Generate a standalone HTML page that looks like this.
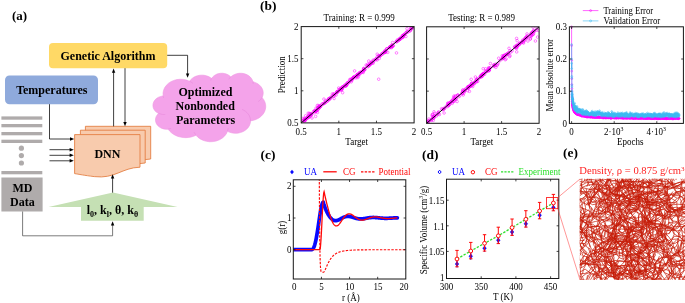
<!DOCTYPE html>
<html lang="en"><head><meta charset="utf-8"><title>Figure</title>
<style>
html,body{margin:0;padding:0;background:#fff;}
body{width:685px;height:303px;overflow:hidden;font-family:"Liberation Serif", "DejaVu Serif", serif;}
svg{display:block;}
</style></head><body>
<svg width="685" height="303" viewBox="0 0 685 303" font-family='"Liberation Serif", "DejaVu Serif", serif'>
<text x="12.00" y="20.00" font-size="13" text-anchor="start" font-weight="bold" fill="#000">(a)</text>
<rect x="49" y="43" width="118.2" height="25.2" rx="4" fill="#FFD966"/>
<text x="108.00" y="59.60" font-size="12" text-anchor="middle" font-weight="bold" fill="#000">Genetic Algorithm</text>
<rect x="5" y="75.5" width="93" height="28.7" rx="4.5" fill="#8FAADC"/>
<text x="51.80" y="93.90" font-size="12" text-anchor="middle" font-weight="bold" fill="#000">Temperatures</text>
<rect x="1.4" y="116.4" width="40.9" height="3.3" fill="#AFABAB"/>
<rect x="1.4" y="124.0" width="40.9" height="3.3" fill="#AFABAB"/>
<rect x="1.4" y="132.0" width="40.9" height="3.3" fill="#AFABAB"/>
<rect x="1.4" y="139.7" width="40.9" height="3.3" fill="#AFABAB"/>
<rect x="1.4" y="171.0" width="40.9" height="3.3" fill="#AFABAB"/>
<circle cx="21.4" cy="148.2" r="2.6" fill="#AFABAB"/>
<circle cx="21.4" cy="155.6" r="2.6" fill="#AFABAB"/>
<circle cx="21.4" cy="163.0" r="2.6" fill="#AFABAB"/>
<rect x="1.4" y="177.5" width="41.2" height="34" fill="#AFABAB"/>
<text x="22.40" y="192.10" font-size="12" text-anchor="middle" font-weight="bold" fill="#000">MD</text>
<text x="22.40" y="206.40" font-size="12" text-anchor="middle" font-weight="bold" fill="#000">Data</text>
<path d="M85.40,126.30 H150.70 V159.00 C132.42,159.50 125.89,171.50 104.99,169.00 C95.20,167.80 89.32,166.60 85.40,166.00 Z" fill="#F8CBAD" stroke="#E37B3D" stroke-width="0.85"/>
<path d="M80.40,130.20 H145.20 V163.00 C127.06,163.50 120.58,175.50 99.84,173.00 C90.12,171.80 84.29,170.60 80.40,170.00 Z" fill="#F8CBAD" stroke="#E37B3D" stroke-width="0.85"/>
<path d="M74.60,134.60 H140.00 V167.20 C121.69,167.70 115.15,179.10 94.22,176.60 C84.41,175.40 78.52,174.20 74.60,173.60 Z" fill="#F8CBAD" stroke="#E37B3D" stroke-width="0.85"/>
<text x="107.40" y="158.10" font-size="12" text-anchor="middle" font-weight="bold" fill="#000">DNN</text>
<polyline points="113.60,126.30 113.60,72.00" fill="none" stroke="#000" stroke-width="0.75"/>
<polygon points="113.60,68.60 111.90,72.80 115.30,72.80" fill="#000"/>
<polyline points="125.00,68.20 125.00,123.00" fill="none" stroke="#000" stroke-width="0.75"/>
<polygon points="125.00,126.30 123.30,122.10 126.70,122.10" fill="#000"/>
<polyline points="49.50,104.20 49.50,139.00 71.00,139.00" fill="none" stroke="#000" stroke-width="0.75"/>
<polygon points="74.20,139.00 70.00,137.30 70.00,140.70" fill="#000"/>
<polyline points="49.50,149.70 70.00,149.70" fill="none" stroke="#000" stroke-width="0.75"/>
<polygon points="73.80,149.70 69.60,148.00 69.60,151.40" fill="#000"/>
<polyline points="49.50,155.30 70.00,155.30" fill="none" stroke="#000" stroke-width="0.75"/>
<polygon points="73.80,155.30 69.60,153.60 69.60,157.00" fill="#000"/>
<polyline points="49.50,160.80 70.00,160.80" fill="none" stroke="#000" stroke-width="0.75"/>
<polygon points="73.80,160.80 69.60,159.10 69.60,162.50" fill="#000"/>
<polyline points="112.60,193.00 112.60,178.00" fill="none" stroke="#000" stroke-width="0.75"/>
<polygon points="112.60,174.20 110.90,178.40 114.30,178.40" fill="#000"/>
<polyline points="22.60,211.50 22.60,235.80 112.60,235.80 112.60,225.00" fill="none" stroke="#444" stroke-width="0.7"/>
<polygon points="112.60,221.20 110.90,225.40 114.30,225.40" fill="#000"/>
<polyline points="167.20,55.30 187.60,55.30 187.60,74.00" fill="none" stroke="#000" stroke-width="0.75"/>
<polygon points="187.60,77.80 185.90,73.60 189.30,73.60" fill="#000"/>
<polygon points="113,192.6 177.5,207 143.7,207 143.7,220.7 81,220.7 81,207 48.5,207" fill="#C5E0B4"/>
<text x="112.4" y="214" font-size="12" text-anchor="middle" font-weight="bold" fill="#000">l<tspan font-size="8" dy="2.6">0</tspan><tspan dy="-2.6">, k</tspan><tspan font-size="8" dy="2.6">l</tspan><tspan dy="-2.6">, θ, k</tspan><tspan font-size="8" dy="2.6">θ</tspan></text>
<path d="M163.17,95.79 L163.04,93.08 L163.51,90.39 L164.57,87.83 L166.19,85.47 L168.31,83.40 L170.86,81.70 L173.74,80.41 L176.87,79.59 L180.12,79.26 L183.39,79.43 L186.57,80.10 L189.54,81.25 L190.69,79.74 L192.11,78.40 L193.77,77.26 L195.62,76.34 L197.61,75.67 L199.71,75.26 L201.86,75.13 L204.01,75.27 L206.10,75.69 L208.09,76.37 L209.94,77.29 L211.58,78.44 L212.58,77.08 L213.84,75.88 L215.33,74.88 L217.00,74.09 L218.81,73.55 L220.70,73.27 L222.62,73.25 L224.52,73.50 L226.34,74.01 L228.03,74.77 L229.54,75.75 L230.83,76.93 L232.53,75.56 L234.52,74.47 L236.72,73.71 L239.05,73.31 L241.43,73.27 L243.78,73.60 L246.01,74.28 L248.05,75.30 L249.82,76.62 L251.26,78.19 L252.32,79.95 L252.96,81.84 L254.83,82.38 L256.59,83.14 L258.20,84.10 L259.63,85.24 L260.85,86.53 L261.84,87.95 L262.57,89.48 L263.03,91.08 L263.22,92.71 L263.12,94.35 L262.74,95.96 L262.10,97.51 L263.74,99.65 L264.92,101.99 L265.59,104.47 L265.74,107.00 L265.35,109.51 L264.45,111.94 L263.05,114.19 L261.20,116.21 L258.96,117.94 L256.39,119.32 L253.57,120.32 L250.58,120.89 L250.32,123.08 L249.61,125.20 L248.45,127.19 L246.88,128.97 L244.97,130.50 L242.76,131.72 L240.32,132.61 L237.73,133.13 L235.07,133.26 L232.42,133.01 L229.87,132.37 L227.50,131.37 L226.24,133.91 L224.44,136.22 L222.15,138.20 L219.45,139.79 L216.44,140.93 L213.23,141.59 L209.92,141.74 L206.64,141.37 L203.50,140.50 L200.62,139.16 L198.08,137.39 L195.99,135.26 L193.62,136.27 L191.11,137.02 L188.49,137.48 L185.83,137.65 L183.17,137.52 L180.55,137.11 L178.01,136.41 L175.61,135.44 L173.39,134.21 L171.38,132.76 L169.62,131.09 L168.14,129.24 L165.84,129.27 L163.57,128.92 L161.43,128.19 L159.52,127.12 L157.91,125.76 L156.66,124.15 L155.84,122.37 L155.46,120.49 L155.56,118.59 L156.12,116.74 L157.12,115.03 L158.51,113.51 L156.61,112.34 L155.04,110.88 L153.86,109.17 L153.14,107.29 L152.91,105.33 L153.16,103.38 L153.90,101.51 L155.09,99.81 L156.68,98.35 L158.60,97.20 L160.76,96.40 L163.08,96.00 Z" fill="#F4A3EA" stroke="#EE98E2" stroke-width="0.6"/>
<path d="M165.24,114.51 L164.38,114.54 L163.52,114.51 L162.67,114.43 L161.82,114.30 L160.99,114.11 L160.18,113.87 L159.39,113.58 L158.63,113.24M171.07,128.34 L170.72,128.45 L170.37,128.55 L170.01,128.64 L169.65,128.72 L169.29,128.79 L168.92,128.85 L168.55,128.90 L168.18,128.94M195.99,134.98 L195.73,134.66 L195.49,134.32 L195.25,133.99 L195.03,133.64 L194.82,133.29 L194.61,132.94 L194.42,132.58 L194.25,132.22M228.20,128.10 L228.16,128.49 L228.10,128.87 L228.03,129.25 L227.95,129.63 L227.86,130.01 L227.75,130.39 L227.64,130.76 L227.51,131.13M242.04,109.40 L243.87,110.27 L245.54,111.35 L247.01,112.62 L248.26,114.04 L249.24,115.59 L249.96,117.24 L250.39,118.96 L250.52,120.71M262.04,97.35 L261.71,97.95 L261.33,98.54 L260.91,99.10 L260.45,99.65 L259.96,100.17 L259.43,100.67 L258.86,101.14 L258.27,101.59M252.98,81.60 L253.03,81.85 L253.07,82.10 L253.11,82.35 L253.14,82.60 L253.16,82.85 L253.17,83.10 L253.18,83.36 L253.18,83.61M228.86,79.27 L229.05,78.92 L229.26,78.59 L229.48,78.26 L229.71,77.93 L229.96,77.61 L230.23,77.30 L230.50,77.00 L230.79,76.71M210.76,80.48 L210.84,80.20 L210.93,79.92 L211.03,79.64 L211.15,79.36 L211.27,79.08 L211.40,78.81 L211.55,78.54 L211.70,78.28M189.52,81.23 L189.98,81.46 L190.43,81.70 L190.87,81.95 L191.30,82.22 L191.72,82.49 L192.13,82.77 L192.53,83.07 L192.91,83.37M163.77,98.04 L163.67,97.76 L163.58,97.48 L163.49,97.20 L163.42,96.92 L163.35,96.64 L163.28,96.36 L163.23,96.07 L163.17,95.79" fill="none" stroke="#E88CDC" stroke-width="0.7"/>
<text x="205.40" y="95.70" font-size="12" text-anchor="middle" font-weight="bold" fill="#000">Optimized</text>
<text x="205.20" y="109.80" font-size="12" text-anchor="middle" font-weight="bold" fill="#000">Nonbonded</text>
<text x="205.60" y="124.20" font-size="12" text-anchor="middle" font-weight="bold" fill="#000">Parameters</text>
<text x="260.00" y="9.80" font-size="13.4" text-anchor="start" font-weight="bold" fill="#000">(b)</text>
<clipPath id="cs11"><rect x="301.2" y="26.6" width="112.90000000000003" height="96.30000000000001"/></clipPath>
<g fill="none" stroke="#FF00FF" stroke-width="0.48" clip-path="url(#cs11)">
<circle cx="315.7" cy="110.9" r="1.3"/>
<circle cx="357.6" cy="74.6" r="1.3"/>
<circle cx="369.1" cy="65.4" r="1.3"/>
<circle cx="304.4" cy="119.9" r="1.3"/>
<circle cx="317.9" cy="109.7" r="1.3"/>
<circle cx="406.0" cy="32.6" r="1.3"/>
<circle cx="309.2" cy="116.5" r="1.3"/>
<circle cx="315.9" cy="111.5" r="1.3"/>
<circle cx="408.3" cy="31.7" r="1.3"/>
<circle cx="371.4" cy="63.3" r="1.3"/>
<circle cx="342.9" cy="87.0" r="1.3"/>
<circle cx="358.9" cy="74.4" r="1.3"/>
<circle cx="376.0" cy="58.8" r="1.3"/>
<circle cx="332.3" cy="93.9" r="1.3"/>
<circle cx="316.8" cy="110.5" r="1.3"/>
<circle cx="390.2" cy="46.8" r="1.3"/>
<circle cx="376.9" cy="58.6" r="1.3"/>
<circle cx="359.0" cy="73.4" r="1.3"/>
<circle cx="393.4" cy="45.5" r="1.3"/>
<circle cx="363.2" cy="70.8" r="1.3"/>
<circle cx="411.9" cy="28.1" r="1.3"/>
<circle cx="324.3" cy="103.2" r="1.3"/>
<circle cx="363.7" cy="68.4" r="1.3"/>
<circle cx="355.8" cy="78.0" r="1.3"/>
<circle cx="341.1" cy="88.8" r="1.3"/>
<circle cx="368.0" cy="63.9" r="1.3"/>
<circle cx="327.8" cy="100.8" r="1.3"/>
<circle cx="391.8" cy="46.3" r="1.3"/>
<circle cx="399.1" cy="39.5" r="1.3"/>
<circle cx="315.7" cy="110.6" r="1.3"/>
<circle cx="353.9" cy="77.3" r="1.3"/>
<circle cx="332.5" cy="95.9" r="1.3"/>
<circle cx="310.6" cy="115.4" r="1.3"/>
<circle cx="402.4" cy="36.5" r="1.3"/>
<circle cx="349.7" cy="79.7" r="1.3"/>
<circle cx="317.9" cy="107.8" r="1.3"/>
<circle cx="377.2" cy="60.0" r="1.3"/>
<circle cx="324.0" cy="103.5" r="1.3"/>
<circle cx="403.0" cy="36.7" r="1.3"/>
<circle cx="325.7" cy="100.6" r="1.3"/>
<circle cx="304.9" cy="119.8" r="1.3"/>
<circle cx="323.9" cy="99.1" r="1.3"/>
<circle cx="340.2" cy="89.0" r="1.3"/>
<circle cx="354.1" cy="77.1" r="1.3"/>
<circle cx="403.5" cy="35.5" r="1.3"/>
<circle cx="379.9" cy="55.8" r="1.3"/>
<circle cx="339.5" cy="89.4" r="1.3"/>
<circle cx="303.1" cy="118.3" r="1.3"/>
<circle cx="319.2" cy="106.3" r="1.3"/>
<circle cx="413.7" cy="27.2" r="1.3"/>
<circle cx="353.1" cy="77.7" r="1.3"/>
<circle cx="379.2" cy="56.2" r="1.3"/>
<circle cx="307.4" cy="117.7" r="1.3"/>
<circle cx="305.0" cy="120.2" r="1.3"/>
<circle cx="396.7" cy="41.8" r="1.3"/>
<circle cx="367.6" cy="66.7" r="1.3"/>
<circle cx="336.1" cy="95.1" r="1.3"/>
<circle cx="337.0" cy="91.6" r="1.3"/>
<circle cx="311.3" cy="113.9" r="1.3"/>
<circle cx="320.7" cy="106.4" r="1.3"/>
<circle cx="304.0" cy="119.8" r="1.3"/>
<circle cx="395.9" cy="41.8" r="1.3"/>
<circle cx="353.8" cy="77.7" r="1.3"/>
<circle cx="315.6" cy="116.4" r="1.3"/>
<circle cx="384.7" cy="52.2" r="1.3"/>
<circle cx="323.3" cy="103.7" r="1.3"/>
<circle cx="308.2" cy="113.2" r="1.3"/>
<circle cx="368.8" cy="61.0" r="1.3"/>
<circle cx="402.3" cy="35.6" r="1.3"/>
<circle cx="304.2" cy="121.1" r="1.3"/>
<circle cx="392.1" cy="46.9" r="1.3"/>
<circle cx="322.7" cy="104.2" r="1.3"/>
<circle cx="311.7" cy="113.9" r="1.3"/>
<circle cx="303.2" cy="120.5" r="1.3"/>
<circle cx="334.3" cy="95.0" r="1.3"/>
<circle cx="383.3" cy="52.7" r="1.3"/>
<circle cx="356.9" cy="76.4" r="1.3"/>
<circle cx="397.5" cy="39.7" r="1.3"/>
<circle cx="325.7" cy="102.3" r="1.3"/>
<circle cx="336.8" cy="92.3" r="1.3"/>
<circle cx="330.3" cy="97.7" r="1.3"/>
<circle cx="411.7" cy="28.8" r="1.3"/>
<circle cx="407.4" cy="32.1" r="1.3"/>
<circle cx="339.7" cy="90.1" r="1.3"/>
<circle cx="350.4" cy="79.2" r="1.3"/>
<circle cx="336.7" cy="92.3" r="1.3"/>
<circle cx="385.5" cy="52.3" r="1.3"/>
<circle cx="305.7" cy="119.5" r="1.3"/>
<circle cx="308.8" cy="115.2" r="1.3"/>
<circle cx="346.8" cy="84.1" r="1.3"/>
<circle cx="328.9" cy="98.6" r="1.3"/>
<circle cx="396.6" cy="41.2" r="1.3"/>
<circle cx="385.0" cy="51.9" r="1.3"/>
<circle cx="362.8" cy="72.1" r="1.3"/>
<circle cx="375.9" cy="59.1" r="1.3"/>
<circle cx="379.4" cy="56.1" r="1.3"/>
<circle cx="389.4" cy="47.3" r="1.3"/>
<circle cx="405.9" cy="36.5" r="1.3"/>
<circle cx="318.1" cy="108.9" r="1.3"/>
<circle cx="371.9" cy="62.8" r="1.3"/>
<circle cx="317.4" cy="105.4" r="1.3"/>
<circle cx="351.2" cy="81.9" r="1.3"/>
<circle cx="390.0" cy="46.9" r="1.3"/>
<circle cx="402.2" cy="37.1" r="1.3"/>
<circle cx="386.9" cy="48.8" r="1.3"/>
<circle cx="305.2" cy="120.6" r="1.3"/>
<circle cx="341.8" cy="87.4" r="1.3"/>
<circle cx="319.6" cy="106.1" r="1.3"/>
<circle cx="317.5" cy="108.0" r="1.3"/>
<circle cx="328.8" cy="99.1" r="1.3"/>
<circle cx="341.5" cy="90.2" r="1.3"/>
<circle cx="308.1" cy="116.7" r="1.3"/>
<circle cx="399.5" cy="39.2" r="1.3"/>
<circle cx="373.0" cy="62.2" r="1.3"/>
<circle cx="319.2" cy="107.5" r="1.3"/>
<circle cx="357.5" cy="75.1" r="1.3"/>
<circle cx="310.1" cy="113.6" r="1.3"/>
<circle cx="370.2" cy="64.1" r="1.3"/>
<circle cx="327.4" cy="101.0" r="1.3"/>
<circle cx="305.6" cy="115.8" r="1.3"/>
<circle cx="314.2" cy="111.1" r="1.3"/>
<circle cx="363.9" cy="68.5" r="1.3"/>
<circle cx="373.1" cy="60.2" r="1.3"/>
<circle cx="337.9" cy="91.7" r="1.3"/>
<circle cx="373.8" cy="61.2" r="1.3"/>
<circle cx="340.9" cy="89.6" r="1.3"/>
<circle cx="316.0" cy="108.1" r="1.3"/>
<circle cx="336.8" cy="92.5" r="1.3"/>
<circle cx="345.8" cy="85.9" r="1.3"/>
<circle cx="404.2" cy="35.0" r="1.3"/>
<circle cx="314.3" cy="112.7" r="1.3"/>
<circle cx="310.9" cy="114.5" r="1.3"/>
<circle cx="364.6" cy="69.7" r="1.3"/>
<circle cx="410.0" cy="31.0" r="1.3"/>
<circle cx="403.6" cy="35.4" r="1.3"/>
<circle cx="380.3" cy="55.5" r="1.3"/>
<circle cx="308.7" cy="117.6" r="1.3"/>
<circle cx="392.2" cy="44.7" r="1.3"/>
<circle cx="378.4" cy="55.6" r="1.3"/>
<circle cx="317.4" cy="112.5" r="1.3"/>
<circle cx="353.7" cy="76.9" r="1.3"/>
<circle cx="306.8" cy="118.6" r="1.3"/>
<circle cx="391.7" cy="46.0" r="1.3"/>
<circle cx="382.3" cy="53.8" r="1.3"/>
<circle cx="392.0" cy="46.4" r="1.3"/>
<circle cx="387.1" cy="48.8" r="1.3"/>
<circle cx="331.4" cy="96.8" r="1.3"/>
<circle cx="390.4" cy="47.4" r="1.3"/>
<circle cx="329.3" cy="99.5" r="1.3"/>
<circle cx="316.8" cy="110.7" r="1.3"/>
<circle cx="345.3" cy="86.1" r="1.3"/>
<circle cx="357.4" cy="74.3" r="1.3"/>
<circle cx="333.5" cy="96.6" r="1.3"/>
<circle cx="369.6" cy="64.9" r="1.3"/>
<circle cx="369.2" cy="64.8" r="1.3"/>
<circle cx="328.3" cy="99.1" r="1.3"/>
<circle cx="371.5" cy="62.0" r="1.3"/>
<circle cx="341.5" cy="89.6" r="1.3"/>
<circle cx="384.1" cy="52.7" r="1.3"/>
<circle cx="334.0" cy="93.9" r="1.3"/>
<circle cx="391.4" cy="46.2" r="1.3"/>
<circle cx="348.1" cy="83.1" r="1.3"/>
<circle cx="363.7" cy="68.9" r="1.3"/>
<circle cx="377.2" cy="54.2" r="1.3"/>
<circle cx="359.7" cy="72.8" r="1.3"/>
<circle cx="330.3" cy="98.2" r="1.3"/>
<circle cx="411.8" cy="28.2" r="1.3"/>
<circle cx="312.0" cy="118.0" r="1.3"/>
<circle cx="337.9" cy="91.6" r="1.3"/>
<circle cx="363.2" cy="72.5" r="1.3"/>
<circle cx="304.4" cy="118.5" r="1.3"/>
<circle cx="318.7" cy="107.5" r="1.3"/>
<circle cx="391.4" cy="45.8" r="1.3"/>
<circle cx="389.7" cy="47.6" r="1.3"/>
<circle cx="373.1" cy="63.3" r="1.3"/>
<circle cx="403.0" cy="35.6" r="1.3"/>
<circle cx="386.5" cy="49.0" r="1.3"/>
<circle cx="334.9" cy="94.6" r="1.3"/>
<circle cx="374.0" cy="60.3" r="1.3"/>
<circle cx="339.6" cy="89.6" r="1.3"/>
<circle cx="385.9" cy="51.8" r="1.3"/>
<circle cx="344.6" cy="85.2" r="1.3"/>
<circle cx="318.5" cy="107.2" r="1.3"/>
<circle cx="400.2" cy="38.3" r="1.3"/>
<circle cx="379.1" cy="56.5" r="1.3"/>
<circle cx="385.3" cy="50.6" r="1.3"/>
<circle cx="364.4" cy="70.1" r="1.3"/>
<circle cx="389.6" cy="47.4" r="1.3"/>
<circle cx="351.8" cy="79.0" r="1.3"/>
<circle cx="365.1" cy="69.3" r="1.3"/>
<circle cx="308.3" cy="116.2" r="1.3"/>
<circle cx="363.9" cy="69.7" r="1.3"/>
<circle cx="393.2" cy="45.9" r="1.3"/>
<circle cx="380.9" cy="55.2" r="1.3"/>
<circle cx="391.9" cy="46.2" r="1.3"/>
<circle cx="357.2" cy="74.9" r="1.3"/>
<circle cx="400.7" cy="38.8" r="1.3"/>
<circle cx="313.4" cy="111.7" r="1.3"/>
<circle cx="400.1" cy="39.1" r="1.3"/>
<circle cx="343.1" cy="86.9" r="1.3"/>
<circle cx="311.5" cy="114.6" r="1.3"/>
<circle cx="371.1" cy="63.5" r="1.3"/>
<circle cx="352.6" cy="78.3" r="1.3"/>
<circle cx="349.6" cy="81.5" r="1.3"/>
<circle cx="397.4" cy="41.1" r="1.3"/>
<circle cx="316.8" cy="110.5" r="1.3"/>
<circle cx="370.9" cy="62.7" r="1.3"/>
<circle cx="347.9" cy="82.5" r="1.3"/>
<circle cx="360.8" cy="72.3" r="1.3"/>
<circle cx="357.6" cy="74.6" r="1.3"/>
<circle cx="316.3" cy="110.7" r="1.3"/>
<circle cx="359.0" cy="74.3" r="1.3"/>
<circle cx="398.5" cy="40.5" r="1.3"/>
<circle cx="320.5" cy="106.2" r="1.3"/>
<circle cx="302.5" cy="121.6" r="1.3"/>
<circle cx="308.8" cy="116.9" r="1.3"/>
<circle cx="353.1" cy="78.1" r="1.3"/>
<circle cx="411.2" cy="28.5" r="1.3"/>
<circle cx="306.2" cy="118.5" r="1.3"/>
<circle cx="361.7" cy="71.5" r="1.3"/>
<circle cx="314.8" cy="111.4" r="1.3"/>
<circle cx="348.5" cy="82.3" r="1.3"/>
<circle cx="324.6" cy="103.0" r="1.3"/>
<circle cx="381.8" cy="53.6" r="1.3"/>
<circle cx="362.3" cy="71.6" r="1.3"/>
<circle cx="333.7" cy="94.2" r="1.3"/>
<circle cx="330.0" cy="98.8" r="1.3"/>
<circle cx="399.1" cy="39.8" r="1.3"/>
<circle cx="387.7" cy="52.3" r="1.3"/>
<circle cx="350.4" cy="80.5" r="1.3"/>
<circle cx="347.0" cy="83.0" r="1.3"/>
<circle cx="384.5" cy="51.1" r="1.3"/>
<circle cx="410.8" cy="27.5" r="1.3"/>
<circle cx="310.2" cy="116.3" r="1.3"/>
<circle cx="319.2" cy="108.1" r="1.3"/>
<circle cx="342.1" cy="88.3" r="1.3"/>
<circle cx="358.5" cy="76.2" r="1.3"/>
<circle cx="309.3" cy="113.4" r="1.3"/>
<circle cx="307.2" cy="117.6" r="1.3"/>
<circle cx="326.0" cy="101.8" r="1.3"/>
<circle cx="344.8" cy="85.4" r="1.3"/>
<circle cx="384.7" cy="52.4" r="1.3"/>
<circle cx="370.1" cy="64.8" r="1.3"/>
<circle cx="304.5" cy="120.7" r="1.3"/>
<circle cx="306.3" cy="118.2" r="1.3"/>
<circle cx="352.2" cy="79.1" r="1.3"/>
<circle cx="400.0" cy="38.3" r="1.3"/>
<circle cx="404.5" cy="34.0" r="1.3"/>
<circle cx="342.4" cy="88.7" r="1.3"/>
<circle cx="401.4" cy="37.8" r="1.3"/>
<circle cx="406.1" cy="33.1" r="1.3"/>
<circle cx="347.1" cy="84.7" r="1.3"/>
<circle cx="385.4" cy="51.4" r="1.3"/>
<circle cx="342.4" cy="87.0" r="1.3"/>
<circle cx="318.5" cy="105.6" r="1.3"/>
<circle cx="366.1" cy="65.0" r="1.3"/>
<circle cx="311.0" cy="114.5" r="1.3"/>
<circle cx="376.1" cy="59.5" r="1.3"/>
<circle cx="392.6" cy="42.5" r="1.3"/>
<circle cx="404.5" cy="35.0" r="1.3"/>
<circle cx="351.8" cy="79.5" r="1.3"/>
<circle cx="314.5" cy="110.7" r="1.3"/>
<circle cx="403.1" cy="36.8" r="1.3"/>
<circle cx="399.5" cy="39.5" r="1.3"/>
<circle cx="410.4" cy="29.7" r="1.3"/>
<circle cx="368.3" cy="65.3" r="1.3"/>
<circle cx="377.2" cy="56.9" r="1.3"/>
<circle cx="343.3" cy="86.8" r="1.3"/>
<circle cx="321.9" cy="104.0" r="1.3"/>
<circle cx="334.1" cy="98.5" r="1.3"/>
<circle cx="382.6" cy="54.1" r="1.3"/>
<circle cx="337.9" cy="91.5" r="1.3"/>
<circle cx="379.3" cy="58.4" r="1.3"/>
<circle cx="357.9" cy="77.6" r="1.3"/>
<circle cx="351.9" cy="80.5" r="1.3"/>
<circle cx="410.4" cy="30.4" r="1.3"/>
<circle cx="320.0" cy="107.0" r="1.3"/>
<circle cx="356.2" cy="76.7" r="1.3"/>
<circle cx="319.2" cy="107.0" r="1.3"/>
<circle cx="407.0" cy="28.7" r="1.3"/>
<circle cx="356.4" cy="75.9" r="1.3"/>
<circle cx="338.7" cy="88.0" r="1.3"/>
<circle cx="320.2" cy="106.0" r="1.3"/>
<circle cx="368.3" cy="66.5" r="1.3"/>
<circle cx="346.2" cy="85.1" r="1.3"/>
<circle cx="315.6" cy="111.3" r="1.3"/>
<circle cx="304.9" cy="119.2" r="1.3"/>
<circle cx="345.4" cy="86.0" r="1.3"/>
<circle cx="367.0" cy="65.8" r="1.3"/>
<circle cx="359.8" cy="72.5" r="1.3"/>
<circle cx="402.8" cy="37.6" r="1.3"/>
<circle cx="404.1" cy="34.6" r="1.3"/>
<circle cx="406.9" cy="31.7" r="1.3"/>
<circle cx="391.5" cy="47.7" r="1.3"/>
<circle cx="355.1" cy="76.2" r="1.3"/>
<circle cx="360.3" cy="73.7" r="1.3"/>
<circle cx="346.1" cy="84.5" r="1.3"/>
<circle cx="346.3" cy="85.6" r="1.3"/>
<circle cx="378.7" cy="79.2" r="1.3"/>
<circle cx="354.6" cy="70.9" r="1.3"/>
<circle cx="342.6" cy="92.7" r="1.3"/>
<circle cx="396.5" cy="52.9" r="1.3"/>
</g>
<polyline points="301.20,122.90 414.10,26.60" fill="none" stroke="#000" stroke-width="0.95"/>
<rect x="301.20" y="26.60" width="112.90" height="96.30" fill="none" stroke="#161616" stroke-width="1.0"/>
<path d="M338.83,122.90v-2.2 M338.83,26.60v2.2 M376.47,122.90v-2.2 M376.47,26.60v2.2 M301.20,90.80h2.2 M414.10,90.80h-2.2 M301.20,58.70h2.2 M414.10,58.70h-2.2 " stroke="#161616" stroke-width="0.8" fill="none"/>
<text transform="translate(301.20 134.60) scale(0.9 1)" font-size="10.0" text-anchor="middle" fill="#000">0.5</text>
<text transform="translate(338.83 134.60) scale(0.9 1)" font-size="10.0" text-anchor="middle" fill="#000">1</text>
<text transform="translate(376.47 134.60) scale(0.9 1)" font-size="10.0" text-anchor="middle" fill="#000">1.5</text>
<text transform="translate(414.10 134.60) scale(0.9 1)" font-size="10.0" text-anchor="middle" fill="#000">2</text>
<text transform="translate(359.20 21.10) scale(0.9 1)" font-size="10.0" text-anchor="middle" fill="#000">Training: R = 0.999</text>
<text transform="translate(356.65 144.60) scale(0.9 1)" font-size="10.0" text-anchor="middle" fill="#000">Target</text>
<text transform="translate(298.60 126.20) scale(0.9 1)" font-size="10.0" text-anchor="end" fill="#000">0.5</text>
<text transform="translate(298.60 94.10) scale(0.9 1)" font-size="10.0" text-anchor="end" fill="#000">1</text>
<text transform="translate(298.60 62.00) scale(0.9 1)" font-size="10.0" text-anchor="end" fill="#000">1.5</text>
<text transform="translate(298.60 29.90) scale(0.9 1)" font-size="10.0" text-anchor="end" fill="#000">2</text>
<text transform="translate(285.20 74.70) rotate(-90) scale(0.9 1)" font-size="10.0" text-anchor="middle" fill="#000">Prediction</text>
<clipPath id="cs5"><rect x="426.6" y="26.8" width="112.5" height="96.5"/></clipPath>
<g fill="none" stroke="#FF00FF" stroke-width="0.48" clip-path="url(#cs5)">
<circle cx="517.2" cy="45.5" r="1.3"/>
<circle cx="517.5" cy="45.5" r="1.3"/>
<circle cx="484.6" cy="74.4" r="1.3"/>
<circle cx="458.8" cy="96.7" r="1.3"/>
<circle cx="432.7" cy="114.4" r="1.3"/>
<circle cx="469.7" cy="86.4" r="1.3"/>
<circle cx="472.6" cy="83.8" r="1.3"/>
<circle cx="431.7" cy="118.9" r="1.3"/>
<circle cx="500.0" cy="60.6" r="1.3"/>
<circle cx="453.0" cy="101.5" r="1.3"/>
<circle cx="475.5" cy="81.1" r="1.3"/>
<circle cx="536.2" cy="30.1" r="1.3"/>
<circle cx="527.6" cy="35.9" r="1.3"/>
<circle cx="521.6" cy="42.4" r="1.3"/>
<circle cx="470.7" cy="86.2" r="1.3"/>
<circle cx="482.1" cy="76.5" r="1.3"/>
<circle cx="502.7" cy="57.9" r="1.3"/>
<circle cx="433.4" cy="116.8" r="1.3"/>
<circle cx="489.1" cy="70.2" r="1.3"/>
<circle cx="457.1" cy="101.5" r="1.3"/>
<circle cx="525.6" cy="37.5" r="1.3"/>
<circle cx="433.8" cy="118.0" r="1.3"/>
<circle cx="503.0" cy="56.7" r="1.3"/>
<circle cx="524.5" cy="39.4" r="1.3"/>
<circle cx="452.2" cy="103.4" r="1.3"/>
<circle cx="527.3" cy="37.4" r="1.3"/>
<circle cx="524.7" cy="38.7" r="1.3"/>
<circle cx="428.7" cy="120.7" r="1.3"/>
<circle cx="506.2" cy="55.2" r="1.3"/>
<circle cx="426.7" cy="122.4" r="1.3"/>
<circle cx="483.2" cy="68.7" r="1.3"/>
<circle cx="475.7" cy="81.3" r="1.3"/>
<circle cx="449.5" cy="104.7" r="1.3"/>
<circle cx="463.2" cy="95.0" r="1.3"/>
<circle cx="517.3" cy="46.7" r="1.3"/>
<circle cx="462.2" cy="93.3" r="1.3"/>
<circle cx="443.4" cy="109.5" r="1.3"/>
<circle cx="505.2" cy="59.7" r="1.3"/>
<circle cx="477.1" cy="79.6" r="1.3"/>
<circle cx="516.5" cy="48.5" r="1.3"/>
<circle cx="453.1" cy="101.7" r="1.3"/>
<circle cx="462.6" cy="90.7" r="1.3"/>
<circle cx="516.6" cy="45.2" r="1.3"/>
<circle cx="483.6" cy="73.9" r="1.3"/>
<circle cx="483.6" cy="74.0" r="1.3"/>
<circle cx="453.2" cy="99.0" r="1.3"/>
<circle cx="428.2" cy="121.4" r="1.3"/>
<circle cx="531.6" cy="33.2" r="1.3"/>
<circle cx="436.3" cy="116.1" r="1.3"/>
<circle cx="521.7" cy="42.0" r="1.3"/>
<circle cx="468.0" cy="88.4" r="1.3"/>
<circle cx="533.6" cy="33.6" r="1.3"/>
<circle cx="471.5" cy="85.4" r="1.3"/>
<circle cx="531.9" cy="33.1" r="1.3"/>
<circle cx="489.2" cy="69.9" r="1.3"/>
<circle cx="453.6" cy="97.6" r="1.3"/>
<circle cx="510.0" cy="55.6" r="1.3"/>
<circle cx="502.5" cy="58.7" r="1.3"/>
<circle cx="503.6" cy="55.7" r="1.3"/>
<circle cx="478.8" cy="78.4" r="1.3"/>
<circle cx="451.6" cy="100.8" r="1.3"/>
<circle cx="498.7" cy="58.2" r="1.3"/>
<circle cx="438.6" cy="111.8" r="1.3"/>
<circle cx="504.5" cy="55.9" r="1.3"/>
<circle cx="498.1" cy="63.2" r="1.3"/>
<circle cx="469.0" cy="87.2" r="1.3"/>
<circle cx="516.4" cy="46.6" r="1.3"/>
<circle cx="448.4" cy="105.9" r="1.3"/>
<circle cx="470.5" cy="86.0" r="1.3"/>
<circle cx="516.4" cy="47.4" r="1.3"/>
<circle cx="469.4" cy="91.4" r="1.3"/>
<circle cx="506.8" cy="54.3" r="1.3"/>
<circle cx="495.5" cy="64.2" r="1.3"/>
<circle cx="532.5" cy="34.5" r="1.3"/>
<circle cx="538.2" cy="30.4" r="1.3"/>
<circle cx="508.0" cy="53.9" r="1.3"/>
<circle cx="517.6" cy="45.6" r="1.3"/>
<circle cx="443.8" cy="108.9" r="1.3"/>
<circle cx="506.8" cy="54.6" r="1.3"/>
<circle cx="522.0" cy="41.9" r="1.3"/>
<circle cx="471.7" cy="83.5" r="1.3"/>
<circle cx="488.8" cy="68.4" r="1.3"/>
<circle cx="480.5" cy="76.7" r="1.3"/>
<circle cx="534.4" cy="31.4" r="1.3"/>
<circle cx="462.3" cy="93.2" r="1.3"/>
<circle cx="471.8" cy="83.2" r="1.3"/>
<circle cx="473.9" cy="82.8" r="1.3"/>
<circle cx="497.6" cy="64.5" r="1.3"/>
<circle cx="531.8" cy="35.4" r="1.3"/>
<circle cx="530.5" cy="33.9" r="1.3"/>
<circle cx="463.4" cy="91.4" r="1.3"/>
<circle cx="447.7" cy="103.1" r="1.3"/>
<circle cx="519.2" cy="43.7" r="1.3"/>
<circle cx="444.3" cy="108.1" r="1.3"/>
<circle cx="472.2" cy="85.4" r="1.3"/>
<circle cx="434.9" cy="115.4" r="1.3"/>
<circle cx="523.1" cy="41.0" r="1.3"/>
<circle cx="519.8" cy="42.9" r="1.3"/>
<circle cx="442.3" cy="109.6" r="1.3"/>
<circle cx="485.9" cy="71.6" r="1.3"/>
<circle cx="455.6" cy="95.8" r="1.3"/>
<circle cx="481.9" cy="76.3" r="1.3"/>
<circle cx="488.8" cy="71.0" r="1.3"/>
<circle cx="438.6" cy="113.8" r="1.3"/>
<circle cx="523.8" cy="40.2" r="1.3"/>
<circle cx="458.0" cy="95.0" r="1.3"/>
<circle cx="476.9" cy="81.2" r="1.3"/>
<circle cx="433.0" cy="116.7" r="1.3"/>
<circle cx="426.9" cy="122.3" r="1.3"/>
<circle cx="448.6" cy="103.8" r="1.3"/>
<circle cx="465.0" cy="89.6" r="1.3"/>
<circle cx="531.0" cy="36.7" r="1.3"/>
<circle cx="526.7" cy="36.4" r="1.3"/>
<circle cx="480.7" cy="75.6" r="1.3"/>
<circle cx="477.8" cy="81.4" r="1.3"/>
<circle cx="501.6" cy="59.0" r="1.3"/>
<circle cx="523.2" cy="42.4" r="1.3"/>
<circle cx="464.5" cy="90.5" r="1.3"/>
<circle cx="515.9" cy="47.6" r="1.3"/>
<circle cx="471.5" cy="83.4" r="1.3"/>
<circle cx="493.4" cy="66.3" r="1.3"/>
<circle cx="509.6" cy="56.6" r="1.3"/>
<circle cx="483.0" cy="73.4" r="1.3"/>
<circle cx="504.3" cy="55.8" r="1.3"/>
<circle cx="505.0" cy="54.5" r="1.3"/>
<circle cx="427.2" cy="122.3" r="1.3"/>
<circle cx="431.0" cy="119.8" r="1.3"/>
<circle cx="443.4" cy="109.1" r="1.3"/>
<circle cx="450.6" cy="102.1" r="1.3"/>
<circle cx="449.5" cy="102.9" r="1.3"/>
<circle cx="432.1" cy="115.9" r="1.3"/>
<circle cx="451.0" cy="102.2" r="1.3"/>
<circle cx="494.2" cy="65.7" r="1.3"/>
<circle cx="526.3" cy="38.0" r="1.3"/>
<circle cx="465.9" cy="88.6" r="1.3"/>
<circle cx="467.8" cy="86.7" r="1.3"/>
<circle cx="473.5" cy="83.4" r="1.3"/>
<circle cx="503.1" cy="58.1" r="1.3"/>
<circle cx="514.9" cy="46.4" r="1.3"/>
<circle cx="532.5" cy="31.9" r="1.3"/>
<circle cx="468.9" cy="86.4" r="1.3"/>
<circle cx="506.1" cy="58.9" r="1.3"/>
<circle cx="465.0" cy="90.7" r="1.3"/>
<circle cx="519.3" cy="44.2" r="1.3"/>
<circle cx="452.5" cy="100.4" r="1.3"/>
<circle cx="524.6" cy="40.7" r="1.3"/>
<circle cx="483.4" cy="73.5" r="1.3"/>
<circle cx="508.2" cy="53.0" r="1.3"/>
<circle cx="486.8" cy="71.3" r="1.3"/>
<circle cx="462.2" cy="93.8" r="1.3"/>
<circle cx="482.2" cy="75.6" r="1.3"/>
<circle cx="432.3" cy="114.6" r="1.3"/>
<circle cx="431.4" cy="120.5" r="1.3"/>
<circle cx="486.2" cy="71.9" r="1.3"/>
<circle cx="480.3" cy="76.6" r="1.3"/>
<circle cx="520.3" cy="43.5" r="1.3"/>
<circle cx="428.9" cy="119.0" r="1.3"/>
<circle cx="489.2" cy="69.8" r="1.3"/>
<circle cx="481.8" cy="74.9" r="1.3"/>
<circle cx="493.9" cy="65.1" r="1.3"/>
<circle cx="508.7" cy="52.7" r="1.3"/>
<circle cx="485.6" cy="70.9" r="1.3"/>
<circle cx="489.9" cy="68.2" r="1.3"/>
<circle cx="481.9" cy="74.7" r="1.3"/>
<circle cx="495.8" cy="67.4" r="1.3"/>
<circle cx="454.5" cy="101.2" r="1.3"/>
<circle cx="488.8" cy="67.6" r="1.3"/>
<circle cx="502.2" cy="55.8" r="1.3"/>
<circle cx="448.1" cy="105.0" r="1.3"/>
<circle cx="510.6" cy="52.2" r="1.3"/>
<circle cx="534.1" cy="30.9" r="1.3"/>
<circle cx="459.7" cy="95.9" r="1.3"/>
<circle cx="476.5" cy="80.2" r="1.3"/>
<circle cx="456.0" cy="98.5" r="1.3"/>
<circle cx="431.9" cy="119.4" r="1.3"/>
<circle cx="428.5" cy="121.6" r="1.3"/>
<circle cx="454.4" cy="97.9" r="1.3"/>
<circle cx="523.5" cy="43.1" r="1.3"/>
<circle cx="445.0" cy="108.0" r="1.3"/>
<circle cx="504.2" cy="55.8" r="1.3"/>
<circle cx="454.7" cy="99.6" r="1.3"/>
<circle cx="434.0" cy="111.8" r="1.3"/>
<circle cx="448.3" cy="104.1" r="1.3"/>
<circle cx="502.9" cy="57.8" r="1.3"/>
<circle cx="483.0" cy="74.6" r="1.3"/>
<circle cx="488.4" cy="68.8" r="1.3"/>
<circle cx="477.6" cy="79.0" r="1.3"/>
<circle cx="457.5" cy="95.3" r="1.3"/>
<circle cx="481.5" cy="75.4" r="1.3"/>
<circle cx="530.4" cy="38.8" r="1.3"/>
<circle cx="449.3" cy="104.6" r="1.3"/>
<circle cx="509.0" cy="48.3" r="1.3"/>
<circle cx="454.9" cy="96.7" r="1.3"/>
<circle cx="448.4" cy="103.2" r="1.3"/>
<circle cx="463.0" cy="91.5" r="1.3"/>
<circle cx="437.0" cy="114.8" r="1.3"/>
<circle cx="531.8" cy="32.7" r="1.3"/>
<circle cx="467.7" cy="90.7" r="1.3"/>
<circle cx="446.4" cy="106.0" r="1.3"/>
<circle cx="433.4" cy="117.7" r="1.3"/>
<circle cx="450.7" cy="102.2" r="1.3"/>
<circle cx="473.6" cy="83.3" r="1.3"/>
<circle cx="494.3" cy="64.7" r="1.3"/>
<circle cx="537.0" cy="28.2" r="1.3"/>
<circle cx="526.8" cy="37.1" r="1.3"/>
<circle cx="453.9" cy="96.1" r="1.3"/>
<circle cx="495.4" cy="65.6" r="1.3"/>
<circle cx="530.3" cy="39.0" r="1.3"/>
<circle cx="438.0" cy="113.0" r="1.3"/>
<circle cx="522.7" cy="40.1" r="1.3"/>
<circle cx="471.2" cy="79.3" r="1.3"/>
<circle cx="514.5" cy="47.2" r="1.3"/>
<circle cx="462.9" cy="89.8" r="1.3"/>
<circle cx="497.0" cy="65.5" r="1.3"/>
<circle cx="483.6" cy="73.7" r="1.3"/>
<circle cx="438.3" cy="112.6" r="1.3"/>
<circle cx="512.1" cy="50.9" r="1.3"/>
<circle cx="519.2" cy="44.7" r="1.3"/>
<circle cx="480.9" cy="77.0" r="1.3"/>
<circle cx="470.3" cy="85.6" r="1.3"/>
<circle cx="533.2" cy="34.4" r="1.3"/>
<circle cx="468.7" cy="87.0" r="1.3"/>
<circle cx="525.6" cy="38.2" r="1.3"/>
<circle cx="473.7" cy="83.1" r="1.3"/>
<circle cx="468.6" cy="86.5" r="1.3"/>
<circle cx="467.3" cy="88.0" r="1.3"/>
<circle cx="433.3" cy="120.4" r="1.3"/>
<circle cx="457.8" cy="95.3" r="1.3"/>
<circle cx="452.4" cy="101.4" r="1.3"/>
<circle cx="433.6" cy="118.1" r="1.3"/>
<circle cx="487.5" cy="70.9" r="1.3"/>
<circle cx="476.3" cy="79.3" r="1.3"/>
<circle cx="444.1" cy="113.0" r="1.3"/>
<circle cx="530.0" cy="36.1" r="1.3"/>
<circle cx="441.6" cy="108.7" r="1.3"/>
<circle cx="468.6" cy="88.0" r="1.3"/>
<circle cx="533.6" cy="31.6" r="1.3"/>
<circle cx="439.4" cy="114.6" r="1.3"/>
<circle cx="472.7" cy="86.5" r="1.3"/>
<circle cx="516.7" cy="51.9" r="1.3"/>
<circle cx="428.7" cy="121.3" r="1.3"/>
<circle cx="434.2" cy="116.5" r="1.3"/>
<circle cx="531.2" cy="35.3" r="1.3"/>
<circle cx="503.6" cy="58.2" r="1.3"/>
<circle cx="456.0" cy="98.8" r="1.3"/>
<circle cx="480.6" cy="77.0" r="1.3"/>
<circle cx="454.6" cy="99.1" r="1.3"/>
<circle cx="527.0" cy="33.9" r="1.3"/>
<circle cx="533.5" cy="30.5" r="1.3"/>
<circle cx="434.6" cy="113.4" r="1.3"/>
<circle cx="485.6" cy="68.8" r="1.3"/>
<circle cx="447.3" cy="106.6" r="1.3"/>
<circle cx="472.1" cy="84.8" r="1.3"/>
<circle cx="510.0" cy="50.8" r="1.3"/>
<circle cx="506.8" cy="54.2" r="1.3"/>
<circle cx="448.0" cy="105.0" r="1.3"/>
<circle cx="464.0" cy="93.0" r="1.3"/>
<circle cx="474.4" cy="83.9" r="1.3"/>
<circle cx="470.1" cy="85.4" r="1.3"/>
<circle cx="503.3" cy="57.2" r="1.3"/>
<circle cx="515.3" cy="47.5" r="1.3"/>
<circle cx="464.3" cy="91.3" r="1.3"/>
<circle cx="476.2" cy="82.2" r="1.3"/>
<circle cx="434.2" cy="116.5" r="1.3"/>
<circle cx="467.9" cy="87.0" r="1.3"/>
<circle cx="533.1" cy="27.2" r="1.3"/>
<circle cx="483.1" cy="74.7" r="1.3"/>
<circle cx="489.3" cy="70.1" r="1.3"/>
<circle cx="494.8" cy="65.8" r="1.3"/>
<circle cx="490.4" cy="67.5" r="1.3"/>
<circle cx="517.1" cy="40.7" r="1.3"/>
<circle cx="455.8" cy="98.8" r="1.3"/>
<circle cx="462.2" cy="92.5" r="1.3"/>
<circle cx="516.6" cy="38.4" r="1.3"/>
<circle cx="490.4" cy="63.5" r="1.3"/>
<circle cx="475.4" cy="77.0" r="1.3"/>
<circle cx="535.4" cy="41.0" r="1.3"/>
<circle cx="537.6" cy="37.1" r="1.3"/>
<circle cx="527.9" cy="41.0" r="1.3"/>
</g>
<polyline points="426.60,123.30 539.10,26.80" fill="none" stroke="#000" stroke-width="0.95"/>
<rect x="426.60" y="26.80" width="112.50" height="96.50" fill="none" stroke="#161616" stroke-width="1.0"/>
<path d="M464.10,123.30v-2.2 M464.10,26.80v2.2 M501.60,123.30v-2.2 M501.60,26.80v2.2 M426.60,91.13h2.2 M539.10,91.13h-2.2 M426.60,58.97h2.2 M539.10,58.97h-2.2 " stroke="#161616" stroke-width="0.8" fill="none"/>
<text transform="translate(426.60 134.60) scale(0.9 1)" font-size="10.0" text-anchor="middle" fill="#000">0.5</text>
<text transform="translate(464.10 134.60) scale(0.9 1)" font-size="10.0" text-anchor="middle" fill="#000">1</text>
<text transform="translate(501.60 134.60) scale(0.9 1)" font-size="10.0" text-anchor="middle" fill="#000">1.5</text>
<text transform="translate(539.10 134.60) scale(0.9 1)" font-size="10.0" text-anchor="middle" fill="#000">2</text>
<text transform="translate(481.60 21.10) scale(0.9 1)" font-size="10.0" text-anchor="middle" fill="#000">Testing: R = 0.989</text>
<text transform="translate(481.85 144.60) scale(0.9 1)" font-size="10.0" text-anchor="middle" fill="#000">Target</text>
<polyline points="571.60,26.80 571.64,45.59 571.69,60.30 571.73,71.08 571.77,78.74 571.81,84.64 571.86,88.62 571.90,91.48 571.94,94.47 571.98,96.42 572.03,97.60 572.07,98.85 572.11,99.92 572.15,101.05 572.20,101.50 572.24,101.91 572.28,103.05 572.32,103.29 572.37,104.16 572.41,104.39 572.45,104.94 572.49,104.83 572.54,105.47 572.58,105.35 572.62,105.68 572.67,106.07 572.71,107.02 572.75,106.71 572.79,106.82 572.84,107.01 572.88,107.72 572.98,107.94 573.09,108.57 573.20,108.95 573.30,108.80 573.41,109.70 573.52,109.80 573.62,109.83 573.73,110.53 573.84,110.64 573.94,110.81 574.05,111.03 574.16,111.60 574.26,111.40 574.37,111.20 574.48,112.20 574.58,111.65 574.69,112.00 574.80,112.35 574.90,111.71 575.01,112.18 575.11,112.86 575.22,112.60 575.33,112.55 575.43,112.87 575.54,112.70 575.65,113.01 575.75,112.88 575.86,112.74 575.97,113.43 576.07,113.25 576.18,113.51 576.29,113.41 576.39,113.86 576.50,113.75 576.61,113.70 576.71,113.45 576.82,113.44 576.93,114.21 577.03,114.12 577.14,113.76 577.24,114.58 577.35,114.19 577.46,114.13 577.56,113.79 577.67,114.01 577.78,114.35 577.88,114.41 577.99,114.42 578.18,113.99 578.37,114.64 578.57,114.68 578.76,114.56 578.95,114.77 579.14,114.87 579.33,115.20 579.52,114.95 579.72,115.14 579.91,114.73 580.10,114.94 580.29,115.19 580.48,115.05 580.67,115.40 580.87,115.05 581.06,115.40 581.25,115.28 581.44,115.88 581.63,115.45 581.82,116.08 582.02,116.23 582.21,115.77 582.40,115.99 582.59,115.72 582.78,115.15 582.97,116.08 583.17,116.06 583.36,115.86 583.55,115.81 583.74,116.04 583.93,116.08 584.12,115.85 584.32,115.94 584.51,116.42 584.70,116.17 584.89,116.17 585.08,116.51 585.27,116.16 585.47,116.51 585.66,116.01 585.85,116.26 586.04,116.32 586.23,116.54 586.42,116.43 586.62,116.99 586.81,116.77 587.00,116.36 587.19,117.10 587.38,116.26 587.58,117.03 587.77,116.33 587.96,116.81 588.15,116.36 588.34,116.57 588.53,117.07 588.73,116.28 588.92,116.24 589.11,116.70 589.30,116.78 589.49,116.76 589.68,117.01 589.88,116.43 590.07,116.92 590.26,116.79 590.45,117.02 590.64,116.99 590.83,117.19 591.03,116.47 591.22,116.90 591.41,116.59 591.60,116.88 591.79,117.10 591.98,117.00 592.18,117.08 592.37,116.93 592.56,117.06 592.75,117.05 592.94,117.37 593.13,117.22 593.33,116.52 593.52,117.20 593.71,117.32 593.90,116.93 594.09,116.63 594.28,117.47 594.48,117.12 594.67,117.26 594.86,117.59 595.05,116.88 595.24,117.11 595.43,117.09 595.63,117.34 595.82,117.00 596.01,117.30 596.20,117.19 596.39,117.48 596.58,117.52 596.78,116.79 596.97,117.34 597.16,117.11 597.35,117.22 597.54,117.34 597.74,117.37 597.93,117.05 598.12,117.33 598.31,117.29 598.50,117.25 598.69,116.93 598.89,117.08 599.08,117.17 599.27,117.45 599.46,117.70 599.65,117.03 599.84,117.03 600.04,117.36 600.23,117.17 600.42,117.11 600.61,117.10 600.80,117.08 600.99,117.49 601.19,116.92 601.38,117.73 601.57,117.13 601.76,117.24 601.95,117.14 602.14,116.85 602.34,116.97 602.53,117.74 602.72,117.91 602.91,117.19 603.10,117.72 603.29,117.44 603.49,117.20 603.68,117.93 603.87,118.07 604.06,117.39 604.25,117.46 604.44,117.55 604.64,117.47 604.83,117.74 605.02,117.93 605.21,117.55 605.40,117.79 605.59,117.99 605.79,117.37 605.98,117.54 606.17,117.41 606.36,117.82 606.55,117.73 606.75,117.83 606.94,117.81 607.13,117.50 607.32,117.79 607.51,117.46 607.70,117.47 607.90,116.99 608.09,117.98 608.28,117.33 608.47,117.62 608.66,117.60 608.85,118.02 609.05,117.74 609.24,117.40 609.43,117.64 609.62,117.60 609.81,117.71 610.00,117.30 610.20,117.64 610.39,118.28 610.58,117.84 610.77,118.22 610.96,118.60 611.15,117.81 611.35,117.28 611.54,117.65 611.73,118.01 611.92,117.95 612.11,117.35 612.30,117.64 612.50,117.68 612.69,117.71 612.88,117.69 613.07,117.47 613.26,117.55 613.45,117.65 613.65,118.02 613.84,117.57 614.03,117.92 614.22,117.41 614.41,118.10 614.60,117.78 614.80,117.74 614.99,118.13 615.18,117.25 615.37,117.33 615.56,117.89 615.75,117.54 615.95,117.65 616.14,118.53 616.33,117.70 616.52,117.79 616.71,117.76 616.91,118.10 617.10,117.87 617.29,117.84 617.48,117.45 617.67,117.70 617.86,117.80 618.06,117.36 618.25,117.97 618.44,117.93 618.63,118.34 618.82,117.37 619.01,117.54 619.21,117.56 619.40,117.64 619.59,117.80 619.78,117.78 619.97,117.91 620.16,117.90 620.36,117.83 620.55,117.41 620.74,117.69 620.93,117.88 621.12,118.03 621.31,118.05 621.51,117.40 621.70,117.72 621.89,117.86 622.08,117.98 622.27,118.20 622.46,117.90 622.66,117.63 622.85,118.00 623.04,117.96 623.23,117.96 623.42,117.87 623.61,118.36 623.81,117.97 624.00,118.16 624.19,117.66 624.38,118.14 624.57,117.75 624.76,117.48 624.96,118.01 625.15,118.10 625.34,117.87 625.53,117.93 625.72,118.22 625.91,117.80 626.11,117.36 626.30,118.02 626.49,118.01 626.68,118.25 626.87,117.86 627.07,118.32 627.26,118.28 627.45,117.59 627.64,118.23 627.83,117.65 628.02,117.53 628.22,117.90 628.41,117.81 628.60,117.41 628.79,118.04 628.98,118.15 629.17,118.38 629.37,117.97 629.56,117.56 629.75,117.71 629.94,118.27 630.13,118.24 630.32,118.15 630.52,117.92 630.71,118.06 630.90,117.94 631.09,117.92 631.28,118.10 631.47,118.03 631.67,117.96 631.86,118.04 632.05,117.87 632.24,117.48 632.43,117.85 632.62,118.01 632.82,118.52 633.01,117.92 633.20,118.60 633.39,118.44 633.58,117.79 633.77,117.84 633.97,118.09 634.16,118.54 634.35,118.16 634.54,118.25 634.73,117.87 634.92,117.40 635.12,117.99 635.31,118.28 635.50,118.40 635.69,118.08 635.88,118.12 636.08,118.40 636.27,118.03 636.46,118.40 636.65,117.75 636.84,117.77 637.03,117.76 637.23,118.22 637.42,117.93 637.61,118.12 637.80,118.20 637.99,118.18 638.18,118.47 638.38,118.51 638.57,117.86 638.76,118.15 638.95,118.03 639.14,117.81 639.33,118.60 639.53,118.33 639.72,118.05 639.91,117.99 640.10,118.22 640.29,117.81 640.48,118.05 640.68,118.46 640.87,118.38 641.06,117.88 641.25,117.98 641.44,118.67 641.63,117.73 641.83,117.95 642.02,117.74 642.21,118.24 642.40,118.21 642.59,118.46 642.78,117.40 642.98,118.18 643.17,117.67 643.36,118.32 643.55,118.09 643.74,118.62 643.93,118.25 644.13,117.86 644.32,118.51 644.51,117.84 644.70,118.05 644.89,118.45 645.09,118.30 645.28,118.29 645.47,118.17 645.66,118.31 645.85,118.40 646.04,118.25 646.24,118.46 646.43,118.54 646.62,118.18 646.81,117.91 647.00,118.61 647.19,118.17 647.39,118.36 647.58,118.45 647.77,117.92 647.96,118.32 648.15,117.74 648.34,118.40 648.54,118.07 648.73,118.24 648.92,118.40 649.11,118.01 649.30,118.23 649.49,118.01 649.69,118.20 649.88,118.50 650.07,118.22 650.26,118.17 650.45,117.91 650.64,118.45 650.84,118.20 651.03,118.69 651.22,118.01 651.41,118.51 651.60,118.72 651.79,118.22 651.99,117.88 652.18,118.64 652.37,118.52 652.56,118.42 652.75,118.53 652.94,118.10 653.14,118.44 653.33,118.42 653.52,118.04 653.71,118.43 653.90,118.09 654.09,118.50 654.29,118.57 654.48,118.75 654.67,117.68 654.86,118.31 655.05,118.15 655.25,118.23 655.44,118.18 655.63,118.21 655.82,117.67 656.01,118.53 656.20,118.68 656.40,118.52 656.59,118.62 656.78,118.01 656.97,117.99 657.16,118.51 657.35,118.64 657.55,118.34 657.74,117.83 657.93,119.05 658.12,118.08 658.31,118.55 658.50,117.94 658.70,118.55 658.89,118.32 659.08,118.68 659.27,118.53 659.46,117.84 659.65,118.01 659.85,118.36 660.04,118.50 660.23,118.80 660.42,118.36 660.61,118.26 660.80,118.28 661.00,118.28 661.19,118.58 661.38,118.27 661.57,118.27 661.76,117.88 661.95,117.72 662.15,118.30 662.34,118.48 662.53,118.28 662.72,118.44 662.91,118.48 663.10,118.28 663.30,118.57 663.49,118.09 663.68,118.29 663.87,118.19 664.06,118.32 664.25,118.48 664.45,118.54 664.64,118.34 664.83,118.43 665.02,118.20 665.21,118.27 665.41,118.67 665.60,118.25 665.79,118.66 665.98,118.45 666.17,118.36 666.36,118.88 666.56,118.25 666.75,118.23 666.94,118.32 667.13,118.40 667.32,118.39 667.51,118.56 667.71,118.36 667.90,118.44 668.09,118.26 668.28,118.63 668.47,118.22 668.66,118.24 668.86,118.33 669.05,118.41 669.24,118.13 669.43,118.77 669.62,118.16 669.81,118.22 670.01,118.21 670.20,118.18 670.39,118.48 670.58,118.37 670.77,118.11 670.96,118.17 671.16,118.23 671.35,118.73 671.54,118.14 671.73,117.96 671.92,118.00 672.11,118.23 672.31,118.75 672.50,118.03 672.69,118.34 672.88,119.03 673.07,118.19 673.26,118.73 673.46,118.68 673.65,118.49 673.84,117.94 674.03,118.41 674.22,118.23 674.42,117.80 674.61,117.84 674.80,118.34 674.99,118.38 675.18,118.67 675.37,118.51 675.57,118.19 675.76,118.20 675.95,118.28 676.14,118.02 676.33,118.54 676.52,118.33 676.72,118.10 676.91,118.14 677.10,118.00 677.29,118.20 677.48,118.40 677.67,118.21 677.87,118.61 678.06,118.79 678.25,118.15 678.44,118.33 678.63,118.23 678.82,118.81 679.02,118.43 679.21,118.49" fill="none" stroke="#FF00FF" stroke-width="0.6"/>
<g fill="none" stroke="#FF00FF" stroke-width="0.5">
<circle cx="571.6" cy="26.8" r="0.9"/>
<circle cx="571.6" cy="45.6" r="0.9"/>
<circle cx="571.7" cy="60.3" r="0.9"/>
<circle cx="571.7" cy="71.1" r="0.9"/>
<circle cx="571.8" cy="78.7" r="0.9"/>
<circle cx="571.8" cy="84.6" r="0.9"/>
<circle cx="571.9" cy="88.6" r="0.9"/>
<circle cx="571.9" cy="91.5" r="0.9"/>
<circle cx="571.9" cy="94.5" r="0.9"/>
<circle cx="572.0" cy="96.4" r="0.9"/>
<circle cx="572.0" cy="97.6" r="0.9"/>
<circle cx="572.1" cy="98.9" r="0.9"/>
<circle cx="572.1" cy="99.9" r="0.9"/>
<circle cx="572.2" cy="101.1" r="0.9"/>
<circle cx="572.2" cy="101.5" r="0.9"/>
<circle cx="572.2" cy="101.9" r="0.9"/>
<circle cx="572.3" cy="103.1" r="0.9"/>
<circle cx="572.3" cy="103.3" r="0.9"/>
<circle cx="572.4" cy="104.2" r="0.9"/>
<circle cx="572.4" cy="104.4" r="0.9"/>
<circle cx="572.5" cy="104.9" r="0.9"/>
<circle cx="572.5" cy="104.8" r="0.9"/>
<circle cx="572.5" cy="105.5" r="0.9"/>
<circle cx="572.6" cy="105.3" r="0.9"/>
<circle cx="572.6" cy="105.7" r="0.9"/>
<circle cx="572.7" cy="106.1" r="0.9"/>
<circle cx="572.7" cy="107.0" r="0.9"/>
<circle cx="572.8" cy="106.7" r="0.9"/>
<circle cx="572.8" cy="106.8" r="0.9"/>
<circle cx="572.8" cy="107.0" r="0.9"/>
<circle cx="572.9" cy="107.7" r="0.9"/>
<circle cx="573.0" cy="107.9" r="0.9"/>
<circle cx="573.1" cy="108.6" r="0.9"/>
<circle cx="573.2" cy="109.0" r="0.9"/>
<circle cx="573.3" cy="108.8" r="0.9"/>
<circle cx="573.4" cy="109.7" r="0.9"/>
<circle cx="573.5" cy="109.8" r="0.9"/>
<circle cx="573.6" cy="109.8" r="0.9"/>
<circle cx="573.7" cy="110.5" r="0.9"/>
<circle cx="573.8" cy="110.6" r="0.9"/>
<circle cx="573.9" cy="110.8" r="0.9"/>
<circle cx="574.0" cy="111.0" r="0.9"/>
<circle cx="574.2" cy="111.6" r="0.9"/>
<circle cx="574.3" cy="111.4" r="0.9"/>
<circle cx="574.4" cy="111.2" r="0.9"/>
<circle cx="574.5" cy="112.2" r="0.9"/>
<circle cx="574.6" cy="111.6" r="0.9"/>
<circle cx="574.7" cy="112.0" r="0.9"/>
<circle cx="574.8" cy="112.4" r="0.9"/>
<circle cx="574.9" cy="111.7" r="0.9"/>
<circle cx="575.0" cy="112.2" r="0.9"/>
<circle cx="575.1" cy="112.9" r="0.9"/>
<circle cx="575.2" cy="112.6" r="0.9"/>
<circle cx="575.3" cy="112.5" r="0.9"/>
<circle cx="575.4" cy="112.9" r="0.9"/>
<circle cx="575.5" cy="112.7" r="0.9"/>
<circle cx="575.6" cy="113.0" r="0.9"/>
<circle cx="575.8" cy="112.9" r="0.9"/>
<circle cx="575.9" cy="112.7" r="0.9"/>
<circle cx="576.0" cy="113.4" r="0.9"/>
<circle cx="576.1" cy="113.2" r="0.9"/>
<circle cx="576.2" cy="113.5" r="0.9"/>
<circle cx="576.3" cy="113.4" r="0.9"/>
<circle cx="576.4" cy="113.9" r="0.9"/>
<circle cx="576.5" cy="113.7" r="0.9"/>
<circle cx="576.6" cy="113.7" r="0.9"/>
<circle cx="576.7" cy="113.4" r="0.9"/>
<circle cx="576.8" cy="113.4" r="0.9"/>
<circle cx="576.9" cy="114.2" r="0.9"/>
<circle cx="577.0" cy="114.1" r="0.9"/>
<circle cx="577.1" cy="113.8" r="0.9"/>
<circle cx="577.2" cy="114.6" r="0.9"/>
<circle cx="577.4" cy="114.2" r="0.9"/>
<circle cx="577.5" cy="114.1" r="0.9"/>
<circle cx="577.6" cy="113.8" r="0.9"/>
<circle cx="577.7" cy="114.0" r="0.9"/>
<circle cx="577.8" cy="114.4" r="0.9"/>
<circle cx="577.9" cy="114.4" r="0.9"/>
<circle cx="578.0" cy="114.4" r="0.9"/>
<circle cx="578.2" cy="114.0" r="0.9"/>
<circle cx="578.4" cy="114.6" r="0.9"/>
<circle cx="578.6" cy="114.7" r="0.9"/>
<circle cx="578.8" cy="114.6" r="0.9"/>
<circle cx="578.9" cy="114.8" r="0.9"/>
<circle cx="579.1" cy="114.9" r="0.9"/>
<circle cx="579.3" cy="115.2" r="0.9"/>
<circle cx="579.5" cy="114.9" r="0.9"/>
<circle cx="579.7" cy="115.1" r="0.9"/>
<circle cx="579.9" cy="114.7" r="0.9"/>
<circle cx="580.1" cy="114.9" r="0.9"/>
<circle cx="580.3" cy="115.2" r="0.9"/>
<circle cx="580.5" cy="115.0" r="0.9"/>
<circle cx="580.7" cy="115.4" r="0.9"/>
<circle cx="580.9" cy="115.0" r="0.9"/>
<circle cx="581.1" cy="115.4" r="0.9"/>
<circle cx="581.2" cy="115.3" r="0.9"/>
<circle cx="581.4" cy="115.9" r="0.9"/>
<circle cx="581.6" cy="115.4" r="0.9"/>
<circle cx="581.8" cy="116.1" r="0.9"/>
<circle cx="582.0" cy="116.2" r="0.9"/>
<circle cx="582.2" cy="115.8" r="0.9"/>
<circle cx="582.4" cy="116.0" r="0.9"/>
<circle cx="582.6" cy="115.7" r="0.9"/>
<circle cx="582.8" cy="115.2" r="0.9"/>
<circle cx="583.0" cy="116.1" r="0.9"/>
<circle cx="583.2" cy="116.1" r="0.9"/>
<circle cx="583.4" cy="115.9" r="0.9"/>
<circle cx="583.5" cy="115.8" r="0.9"/>
<circle cx="583.7" cy="116.0" r="0.9"/>
<circle cx="583.9" cy="116.1" r="0.9"/>
<circle cx="584.1" cy="115.9" r="0.9"/>
<circle cx="584.3" cy="115.9" r="0.9"/>
<circle cx="584.5" cy="116.4" r="0.9"/>
<circle cx="584.7" cy="116.2" r="0.9"/>
<circle cx="584.9" cy="116.2" r="0.9"/>
<circle cx="585.1" cy="116.5" r="0.9"/>
<circle cx="585.3" cy="116.2" r="0.9"/>
<circle cx="585.5" cy="116.5" r="0.9"/>
<circle cx="585.7" cy="116.0" r="0.9"/>
<circle cx="585.8" cy="116.3" r="0.9"/>
<circle cx="586.0" cy="116.3" r="0.9"/>
<circle cx="586.2" cy="116.5" r="0.9"/>
<circle cx="586.4" cy="116.4" r="0.9"/>
<circle cx="586.6" cy="117.0" r="0.9"/>
<circle cx="586.8" cy="116.8" r="0.9"/>
<circle cx="587.0" cy="116.4" r="0.9"/>
<circle cx="587.2" cy="117.1" r="0.9"/>
<circle cx="587.4" cy="116.3" r="0.9"/>
<circle cx="587.6" cy="117.0" r="0.9"/>
<circle cx="587.8" cy="116.3" r="0.9"/>
<circle cx="588.0" cy="116.8" r="0.9"/>
<circle cx="588.2" cy="116.4" r="0.9"/>
<circle cx="588.3" cy="116.6" r="0.9"/>
<circle cx="588.5" cy="117.1" r="0.9"/>
<circle cx="588.7" cy="116.3" r="0.9"/>
<circle cx="588.9" cy="116.2" r="0.9"/>
<circle cx="589.1" cy="116.7" r="0.9"/>
<circle cx="589.3" cy="116.8" r="0.9"/>
<circle cx="589.5" cy="116.8" r="0.9"/>
<circle cx="589.7" cy="117.0" r="0.9"/>
<circle cx="589.9" cy="116.4" r="0.9"/>
<circle cx="590.1" cy="116.9" r="0.9"/>
<circle cx="590.3" cy="116.8" r="0.9"/>
<circle cx="590.5" cy="117.0" r="0.9"/>
<circle cx="590.6" cy="117.0" r="0.9"/>
<circle cx="590.8" cy="117.2" r="0.9"/>
<circle cx="591.0" cy="116.5" r="0.9"/>
<circle cx="591.2" cy="116.9" r="0.9"/>
<circle cx="591.4" cy="116.6" r="0.9"/>
<circle cx="591.6" cy="116.9" r="0.9"/>
<circle cx="591.8" cy="117.1" r="0.9"/>
<circle cx="592.0" cy="117.0" r="0.9"/>
<circle cx="592.2" cy="117.1" r="0.9"/>
<circle cx="592.4" cy="116.9" r="0.9"/>
<circle cx="592.6" cy="117.1" r="0.9"/>
<circle cx="592.8" cy="117.0" r="0.9"/>
<circle cx="592.9" cy="117.4" r="0.9"/>
<circle cx="593.1" cy="117.2" r="0.9"/>
<circle cx="593.3" cy="116.5" r="0.9"/>
<circle cx="593.5" cy="117.2" r="0.9"/>
<circle cx="593.7" cy="117.3" r="0.9"/>
<circle cx="593.9" cy="116.9" r="0.9"/>
<circle cx="594.1" cy="116.6" r="0.9"/>
<circle cx="594.3" cy="117.5" r="0.9"/>
<circle cx="594.5" cy="117.1" r="0.9"/>
<circle cx="594.7" cy="117.3" r="0.9"/>
<circle cx="594.9" cy="117.6" r="0.9"/>
<circle cx="595.1" cy="116.9" r="0.9"/>
<circle cx="595.2" cy="117.1" r="0.9"/>
<circle cx="595.4" cy="117.1" r="0.9"/>
<circle cx="595.6" cy="117.3" r="0.9"/>
<circle cx="595.8" cy="117.0" r="0.9"/>
<circle cx="596.0" cy="117.3" r="0.9"/>
<circle cx="596.2" cy="117.2" r="0.9"/>
<circle cx="596.4" cy="117.5" r="0.9"/>
<circle cx="596.6" cy="117.5" r="0.9"/>
<circle cx="596.8" cy="116.8" r="0.9"/>
<circle cx="597.0" cy="117.3" r="0.9"/>
<circle cx="597.2" cy="117.1" r="0.9"/>
<circle cx="597.4" cy="117.2" r="0.9"/>
<circle cx="597.5" cy="117.3" r="0.9"/>
<circle cx="597.7" cy="117.4" r="0.9"/>
<circle cx="597.9" cy="117.1" r="0.9"/>
<circle cx="598.1" cy="117.3" r="0.9"/>
<circle cx="598.3" cy="117.3" r="0.9"/>
<circle cx="598.5" cy="117.3" r="0.9"/>
<circle cx="598.7" cy="116.9" r="0.9"/>
<circle cx="598.9" cy="117.1" r="0.9"/>
<circle cx="599.1" cy="117.2" r="0.9"/>
<circle cx="599.3" cy="117.5" r="0.9"/>
<circle cx="599.5" cy="117.7" r="0.9"/>
<circle cx="599.7" cy="117.0" r="0.9"/>
<circle cx="599.8" cy="117.0" r="0.9"/>
<circle cx="600.0" cy="117.4" r="0.9"/>
<circle cx="600.2" cy="117.2" r="0.9"/>
<circle cx="600.4" cy="117.1" r="0.9"/>
<circle cx="600.6" cy="117.1" r="0.9"/>
<circle cx="600.8" cy="117.1" r="0.9"/>
<circle cx="601.0" cy="117.5" r="0.9"/>
<circle cx="601.2" cy="116.9" r="0.9"/>
<circle cx="601.4" cy="117.7" r="0.9"/>
<circle cx="601.6" cy="117.1" r="0.9"/>
<circle cx="601.8" cy="117.2" r="0.9"/>
<circle cx="602.0" cy="117.1" r="0.9"/>
<circle cx="602.1" cy="116.9" r="0.9"/>
<circle cx="602.3" cy="117.0" r="0.9"/>
<circle cx="602.5" cy="117.7" r="0.9"/>
<circle cx="602.7" cy="117.9" r="0.9"/>
<circle cx="602.9" cy="117.2" r="0.9"/>
<circle cx="603.1" cy="117.7" r="0.9"/>
<circle cx="603.3" cy="117.4" r="0.9"/>
<circle cx="603.5" cy="117.2" r="0.9"/>
<circle cx="603.7" cy="117.9" r="0.9"/>
<circle cx="603.9" cy="118.1" r="0.9"/>
<circle cx="604.1" cy="117.4" r="0.9"/>
<circle cx="604.3" cy="117.5" r="0.9"/>
<circle cx="604.4" cy="117.5" r="0.9"/>
<circle cx="604.6" cy="117.5" r="0.9"/>
<circle cx="604.8" cy="117.7" r="0.9"/>
<circle cx="605.0" cy="117.9" r="0.9"/>
<circle cx="605.2" cy="117.5" r="0.9"/>
<circle cx="605.4" cy="117.8" r="0.9"/>
<circle cx="605.6" cy="118.0" r="0.9"/>
<circle cx="605.8" cy="117.4" r="0.9"/>
<circle cx="606.0" cy="117.5" r="0.9"/>
<circle cx="606.2" cy="117.4" r="0.9"/>
<circle cx="606.4" cy="117.8" r="0.9"/>
<circle cx="606.6" cy="117.7" r="0.9"/>
<circle cx="606.7" cy="117.8" r="0.9"/>
<circle cx="606.9" cy="117.8" r="0.9"/>
<circle cx="607.1" cy="117.5" r="0.9"/>
<circle cx="607.3" cy="117.8" r="0.9"/>
<circle cx="607.5" cy="117.5" r="0.9"/>
<circle cx="607.7" cy="117.5" r="0.9"/>
<circle cx="607.9" cy="117.0" r="0.9"/>
<circle cx="608.1" cy="118.0" r="0.9"/>
<circle cx="608.3" cy="117.3" r="0.9"/>
<circle cx="608.5" cy="117.6" r="0.9"/>
<circle cx="608.7" cy="117.6" r="0.9"/>
<circle cx="608.9" cy="118.0" r="0.9"/>
<circle cx="609.0" cy="117.7" r="0.9"/>
<circle cx="609.2" cy="117.4" r="0.9"/>
<circle cx="609.4" cy="117.6" r="0.9"/>
<circle cx="609.6" cy="117.6" r="0.9"/>
<circle cx="609.8" cy="117.7" r="0.9"/>
<circle cx="610.0" cy="117.3" r="0.9"/>
<circle cx="610.2" cy="117.6" r="0.9"/>
<circle cx="610.4" cy="118.3" r="0.9"/>
<circle cx="610.6" cy="117.8" r="0.9"/>
<circle cx="610.8" cy="118.2" r="0.9"/>
<circle cx="611.0" cy="118.6" r="0.9"/>
<circle cx="611.2" cy="117.8" r="0.9"/>
<circle cx="611.3" cy="117.3" r="0.9"/>
<circle cx="611.5" cy="117.7" r="0.9"/>
<circle cx="611.7" cy="118.0" r="0.9"/>
<circle cx="611.9" cy="117.9" r="0.9"/>
<circle cx="612.1" cy="117.4" r="0.9"/>
<circle cx="612.3" cy="117.6" r="0.9"/>
<circle cx="612.5" cy="117.7" r="0.9"/>
<circle cx="612.7" cy="117.7" r="0.9"/>
<circle cx="612.9" cy="117.7" r="0.9"/>
<circle cx="613.1" cy="117.5" r="0.9"/>
<circle cx="613.3" cy="117.5" r="0.9"/>
<circle cx="613.5" cy="117.6" r="0.9"/>
<circle cx="613.6" cy="118.0" r="0.9"/>
<circle cx="613.8" cy="117.6" r="0.9"/>
<circle cx="614.0" cy="117.9" r="0.9"/>
<circle cx="614.2" cy="117.4" r="0.9"/>
<circle cx="614.4" cy="118.1" r="0.9"/>
<circle cx="614.6" cy="117.8" r="0.9"/>
<circle cx="614.8" cy="117.7" r="0.9"/>
<circle cx="615.0" cy="118.1" r="0.9"/>
<circle cx="615.2" cy="117.2" r="0.9"/>
<circle cx="615.4" cy="117.3" r="0.9"/>
<circle cx="615.6" cy="117.9" r="0.9"/>
<circle cx="615.8" cy="117.5" r="0.9"/>
<circle cx="615.9" cy="117.7" r="0.9"/>
<circle cx="616.1" cy="118.5" r="0.9"/>
<circle cx="616.3" cy="117.7" r="0.9"/>
<circle cx="616.5" cy="117.8" r="0.9"/>
<circle cx="616.7" cy="117.8" r="0.9"/>
<circle cx="616.9" cy="118.1" r="0.9"/>
<circle cx="617.1" cy="117.9" r="0.9"/>
<circle cx="617.3" cy="117.8" r="0.9"/>
<circle cx="617.5" cy="117.5" r="0.9"/>
<circle cx="617.7" cy="117.7" r="0.9"/>
<circle cx="617.9" cy="117.8" r="0.9"/>
<circle cx="618.1" cy="117.4" r="0.9"/>
<circle cx="618.2" cy="118.0" r="0.9"/>
<circle cx="618.4" cy="117.9" r="0.9"/>
<circle cx="618.6" cy="118.3" r="0.9"/>
<circle cx="618.8" cy="117.4" r="0.9"/>
<circle cx="619.0" cy="117.5" r="0.9"/>
<circle cx="619.2" cy="117.6" r="0.9"/>
<circle cx="619.4" cy="117.6" r="0.9"/>
<circle cx="619.6" cy="117.8" r="0.9"/>
<circle cx="619.8" cy="117.8" r="0.9"/>
<circle cx="620.0" cy="117.9" r="0.9"/>
<circle cx="620.2" cy="117.9" r="0.9"/>
<circle cx="620.4" cy="117.8" r="0.9"/>
<circle cx="620.5" cy="117.4" r="0.9"/>
<circle cx="620.7" cy="117.7" r="0.9"/>
<circle cx="620.9" cy="117.9" r="0.9"/>
<circle cx="621.1" cy="118.0" r="0.9"/>
<circle cx="621.3" cy="118.0" r="0.9"/>
<circle cx="621.5" cy="117.4" r="0.9"/>
<circle cx="621.7" cy="117.7" r="0.9"/>
<circle cx="621.9" cy="117.9" r="0.9"/>
<circle cx="622.1" cy="118.0" r="0.9"/>
<circle cx="622.3" cy="118.2" r="0.9"/>
<circle cx="622.5" cy="117.9" r="0.9"/>
<circle cx="622.7" cy="117.6" r="0.9"/>
<circle cx="622.8" cy="118.0" r="0.9"/>
<circle cx="623.0" cy="118.0" r="0.9"/>
<circle cx="623.2" cy="118.0" r="0.9"/>
<circle cx="623.4" cy="117.9" r="0.9"/>
<circle cx="623.6" cy="118.4" r="0.9"/>
<circle cx="623.8" cy="118.0" r="0.9"/>
<circle cx="624.0" cy="118.2" r="0.9"/>
<circle cx="624.2" cy="117.7" r="0.9"/>
<circle cx="624.4" cy="118.1" r="0.9"/>
<circle cx="624.6" cy="117.8" r="0.9"/>
<circle cx="624.8" cy="117.5" r="0.9"/>
<circle cx="625.0" cy="118.0" r="0.9"/>
<circle cx="625.1" cy="118.1" r="0.9"/>
<circle cx="625.3" cy="117.9" r="0.9"/>
<circle cx="625.5" cy="117.9" r="0.9"/>
<circle cx="625.7" cy="118.2" r="0.9"/>
<circle cx="625.9" cy="117.8" r="0.9"/>
<circle cx="626.1" cy="117.4" r="0.9"/>
<circle cx="626.3" cy="118.0" r="0.9"/>
<circle cx="626.5" cy="118.0" r="0.9"/>
<circle cx="626.7" cy="118.3" r="0.9"/>
<circle cx="626.9" cy="117.9" r="0.9"/>
<circle cx="627.1" cy="118.3" r="0.9"/>
<circle cx="627.3" cy="118.3" r="0.9"/>
<circle cx="627.4" cy="117.6" r="0.9"/>
<circle cx="627.6" cy="118.2" r="0.9"/>
<circle cx="627.8" cy="117.7" r="0.9"/>
<circle cx="628.0" cy="117.5" r="0.9"/>
<circle cx="628.2" cy="117.9" r="0.9"/>
<circle cx="628.4" cy="117.8" r="0.9"/>
<circle cx="628.6" cy="117.4" r="0.9"/>
<circle cx="628.8" cy="118.0" r="0.9"/>
<circle cx="629.0" cy="118.2" r="0.9"/>
<circle cx="629.2" cy="118.4" r="0.9"/>
<circle cx="629.4" cy="118.0" r="0.9"/>
<circle cx="629.6" cy="117.6" r="0.9"/>
<circle cx="629.7" cy="117.7" r="0.9"/>
<circle cx="629.9" cy="118.3" r="0.9"/>
<circle cx="630.1" cy="118.2" r="0.9"/>
<circle cx="630.3" cy="118.1" r="0.9"/>
<circle cx="630.5" cy="117.9" r="0.9"/>
<circle cx="630.7" cy="118.1" r="0.9"/>
<circle cx="630.9" cy="117.9" r="0.9"/>
<circle cx="631.1" cy="117.9" r="0.9"/>
<circle cx="631.3" cy="118.1" r="0.9"/>
<circle cx="631.5" cy="118.0" r="0.9"/>
<circle cx="631.7" cy="118.0" r="0.9"/>
<circle cx="631.9" cy="118.0" r="0.9"/>
<circle cx="632.0" cy="117.9" r="0.9"/>
<circle cx="632.2" cy="117.5" r="0.9"/>
<circle cx="632.4" cy="117.9" r="0.9"/>
<circle cx="632.6" cy="118.0" r="0.9"/>
<circle cx="632.8" cy="118.5" r="0.9"/>
<circle cx="633.0" cy="117.9" r="0.9"/>
<circle cx="633.2" cy="118.6" r="0.9"/>
<circle cx="633.4" cy="118.4" r="0.9"/>
<circle cx="633.6" cy="117.8" r="0.9"/>
<circle cx="633.8" cy="117.8" r="0.9"/>
<circle cx="634.0" cy="118.1" r="0.9"/>
<circle cx="634.2" cy="118.5" r="0.9"/>
<circle cx="634.3" cy="118.2" r="0.9"/>
<circle cx="634.5" cy="118.2" r="0.9"/>
<circle cx="634.7" cy="117.9" r="0.9"/>
<circle cx="634.9" cy="117.4" r="0.9"/>
<circle cx="635.1" cy="118.0" r="0.9"/>
<circle cx="635.3" cy="118.3" r="0.9"/>
<circle cx="635.5" cy="118.4" r="0.9"/>
<circle cx="635.7" cy="118.1" r="0.9"/>
<circle cx="635.9" cy="118.1" r="0.9"/>
<circle cx="636.1" cy="118.4" r="0.9"/>
<circle cx="636.3" cy="118.0" r="0.9"/>
<circle cx="636.5" cy="118.4" r="0.9"/>
<circle cx="636.7" cy="117.8" r="0.9"/>
<circle cx="636.8" cy="117.8" r="0.9"/>
<circle cx="637.0" cy="117.8" r="0.9"/>
<circle cx="637.2" cy="118.2" r="0.9"/>
<circle cx="637.4" cy="117.9" r="0.9"/>
<circle cx="637.6" cy="118.1" r="0.9"/>
<circle cx="637.8" cy="118.2" r="0.9"/>
<circle cx="638.0" cy="118.2" r="0.9"/>
<circle cx="638.2" cy="118.5" r="0.9"/>
<circle cx="638.4" cy="118.5" r="0.9"/>
<circle cx="638.6" cy="117.9" r="0.9"/>
<circle cx="638.8" cy="118.1" r="0.9"/>
<circle cx="639.0" cy="118.0" r="0.9"/>
<circle cx="639.1" cy="117.8" r="0.9"/>
<circle cx="639.3" cy="118.6" r="0.9"/>
<circle cx="639.5" cy="118.3" r="0.9"/>
<circle cx="639.7" cy="118.1" r="0.9"/>
<circle cx="639.9" cy="118.0" r="0.9"/>
<circle cx="640.1" cy="118.2" r="0.9"/>
<circle cx="640.3" cy="117.8" r="0.9"/>
<circle cx="640.5" cy="118.0" r="0.9"/>
<circle cx="640.7" cy="118.5" r="0.9"/>
<circle cx="640.9" cy="118.4" r="0.9"/>
<circle cx="641.1" cy="117.9" r="0.9"/>
<circle cx="641.3" cy="118.0" r="0.9"/>
<circle cx="641.4" cy="118.7" r="0.9"/>
<circle cx="641.6" cy="117.7" r="0.9"/>
<circle cx="641.8" cy="117.9" r="0.9"/>
<circle cx="642.0" cy="117.7" r="0.9"/>
<circle cx="642.2" cy="118.2" r="0.9"/>
<circle cx="642.4" cy="118.2" r="0.9"/>
<circle cx="642.6" cy="118.5" r="0.9"/>
<circle cx="642.8" cy="117.4" r="0.9"/>
<circle cx="643.0" cy="118.2" r="0.9"/>
<circle cx="643.2" cy="117.7" r="0.9"/>
<circle cx="643.4" cy="118.3" r="0.9"/>
<circle cx="643.6" cy="118.1" r="0.9"/>
<circle cx="643.7" cy="118.6" r="0.9"/>
<circle cx="643.9" cy="118.3" r="0.9"/>
<circle cx="644.1" cy="117.9" r="0.9"/>
<circle cx="644.3" cy="118.5" r="0.9"/>
<circle cx="644.5" cy="117.8" r="0.9"/>
<circle cx="644.7" cy="118.0" r="0.9"/>
<circle cx="644.9" cy="118.5" r="0.9"/>
<circle cx="645.1" cy="118.3" r="0.9"/>
<circle cx="645.3" cy="118.3" r="0.9"/>
<circle cx="645.5" cy="118.2" r="0.9"/>
<circle cx="645.7" cy="118.3" r="0.9"/>
<circle cx="645.9" cy="118.4" r="0.9"/>
<circle cx="646.0" cy="118.2" r="0.9"/>
<circle cx="646.2" cy="118.5" r="0.9"/>
<circle cx="646.4" cy="118.5" r="0.9"/>
<circle cx="646.6" cy="118.2" r="0.9"/>
<circle cx="646.8" cy="117.9" r="0.9"/>
<circle cx="647.0" cy="118.6" r="0.9"/>
<circle cx="647.2" cy="118.2" r="0.9"/>
<circle cx="647.4" cy="118.4" r="0.9"/>
<circle cx="647.6" cy="118.5" r="0.9"/>
<circle cx="647.8" cy="117.9" r="0.9"/>
<circle cx="648.0" cy="118.3" r="0.9"/>
<circle cx="648.2" cy="117.7" r="0.9"/>
<circle cx="648.3" cy="118.4" r="0.9"/>
<circle cx="648.5" cy="118.1" r="0.9"/>
<circle cx="648.7" cy="118.2" r="0.9"/>
<circle cx="648.9" cy="118.4" r="0.9"/>
<circle cx="649.1" cy="118.0" r="0.9"/>
<circle cx="649.3" cy="118.2" r="0.9"/>
<circle cx="649.5" cy="118.0" r="0.9"/>
<circle cx="649.7" cy="118.2" r="0.9"/>
<circle cx="649.9" cy="118.5" r="0.9"/>
<circle cx="650.1" cy="118.2" r="0.9"/>
<circle cx="650.3" cy="118.2" r="0.9"/>
<circle cx="650.5" cy="117.9" r="0.9"/>
<circle cx="650.6" cy="118.5" r="0.9"/>
<circle cx="650.8" cy="118.2" r="0.9"/>
<circle cx="651.0" cy="118.7" r="0.9"/>
<circle cx="651.2" cy="118.0" r="0.9"/>
<circle cx="651.4" cy="118.5" r="0.9"/>
<circle cx="651.6" cy="118.7" r="0.9"/>
<circle cx="651.8" cy="118.2" r="0.9"/>
<circle cx="652.0" cy="117.9" r="0.9"/>
<circle cx="652.2" cy="118.6" r="0.9"/>
<circle cx="652.4" cy="118.5" r="0.9"/>
<circle cx="652.6" cy="118.4" r="0.9"/>
<circle cx="652.8" cy="118.5" r="0.9"/>
<circle cx="652.9" cy="118.1" r="0.9"/>
<circle cx="653.1" cy="118.4" r="0.9"/>
<circle cx="653.3" cy="118.4" r="0.9"/>
<circle cx="653.5" cy="118.0" r="0.9"/>
<circle cx="653.7" cy="118.4" r="0.9"/>
<circle cx="653.9" cy="118.1" r="0.9"/>
<circle cx="654.1" cy="118.5" r="0.9"/>
<circle cx="654.3" cy="118.6" r="0.9"/>
<circle cx="654.5" cy="118.7" r="0.9"/>
<circle cx="654.7" cy="117.7" r="0.9"/>
<circle cx="654.9" cy="118.3" r="0.9"/>
<circle cx="655.1" cy="118.1" r="0.9"/>
<circle cx="655.2" cy="118.2" r="0.9"/>
<circle cx="655.4" cy="118.2" r="0.9"/>
<circle cx="655.6" cy="118.2" r="0.9"/>
<circle cx="655.8" cy="117.7" r="0.9"/>
<circle cx="656.0" cy="118.5" r="0.9"/>
<circle cx="656.2" cy="118.7" r="0.9"/>
<circle cx="656.4" cy="118.5" r="0.9"/>
<circle cx="656.6" cy="118.6" r="0.9"/>
<circle cx="656.8" cy="118.0" r="0.9"/>
<circle cx="657.0" cy="118.0" r="0.9"/>
<circle cx="657.2" cy="118.5" r="0.9"/>
<circle cx="657.4" cy="118.6" r="0.9"/>
<circle cx="657.5" cy="118.3" r="0.9"/>
<circle cx="657.7" cy="117.8" r="0.9"/>
<circle cx="657.9" cy="119.1" r="0.9"/>
<circle cx="658.1" cy="118.1" r="0.9"/>
<circle cx="658.3" cy="118.6" r="0.9"/>
<circle cx="658.5" cy="117.9" r="0.9"/>
<circle cx="658.7" cy="118.6" r="0.9"/>
<circle cx="658.9" cy="118.3" r="0.9"/>
<circle cx="659.1" cy="118.7" r="0.9"/>
<circle cx="659.3" cy="118.5" r="0.9"/>
<circle cx="659.5" cy="117.8" r="0.9"/>
<circle cx="659.7" cy="118.0" r="0.9"/>
<circle cx="659.8" cy="118.4" r="0.9"/>
<circle cx="660.0" cy="118.5" r="0.9"/>
<circle cx="660.2" cy="118.8" r="0.9"/>
<circle cx="660.4" cy="118.4" r="0.9"/>
<circle cx="660.6" cy="118.3" r="0.9"/>
<circle cx="660.8" cy="118.3" r="0.9"/>
<circle cx="661.0" cy="118.3" r="0.9"/>
<circle cx="661.2" cy="118.6" r="0.9"/>
<circle cx="661.4" cy="118.3" r="0.9"/>
<circle cx="661.6" cy="118.3" r="0.9"/>
<circle cx="661.8" cy="117.9" r="0.9"/>
<circle cx="662.0" cy="117.7" r="0.9"/>
<circle cx="662.1" cy="118.3" r="0.9"/>
<circle cx="662.3" cy="118.5" r="0.9"/>
<circle cx="662.5" cy="118.3" r="0.9"/>
<circle cx="662.7" cy="118.4" r="0.9"/>
<circle cx="662.9" cy="118.5" r="0.9"/>
<circle cx="663.1" cy="118.3" r="0.9"/>
<circle cx="663.3" cy="118.6" r="0.9"/>
<circle cx="663.5" cy="118.1" r="0.9"/>
<circle cx="663.7" cy="118.3" r="0.9"/>
<circle cx="663.9" cy="118.2" r="0.9"/>
<circle cx="664.1" cy="118.3" r="0.9"/>
<circle cx="664.3" cy="118.5" r="0.9"/>
<circle cx="664.4" cy="118.5" r="0.9"/>
<circle cx="664.6" cy="118.3" r="0.9"/>
<circle cx="664.8" cy="118.4" r="0.9"/>
<circle cx="665.0" cy="118.2" r="0.9"/>
<circle cx="665.2" cy="118.3" r="0.9"/>
<circle cx="665.4" cy="118.7" r="0.9"/>
<circle cx="665.6" cy="118.3" r="0.9"/>
<circle cx="665.8" cy="118.7" r="0.9"/>
<circle cx="666.0" cy="118.5" r="0.9"/>
<circle cx="666.2" cy="118.4" r="0.9"/>
<circle cx="666.4" cy="118.9" r="0.9"/>
<circle cx="666.6" cy="118.3" r="0.9"/>
<circle cx="666.7" cy="118.2" r="0.9"/>
<circle cx="666.9" cy="118.3" r="0.9"/>
<circle cx="667.1" cy="118.4" r="0.9"/>
<circle cx="667.3" cy="118.4" r="0.9"/>
<circle cx="667.5" cy="118.6" r="0.9"/>
<circle cx="667.7" cy="118.4" r="0.9"/>
<circle cx="667.9" cy="118.4" r="0.9"/>
<circle cx="668.1" cy="118.3" r="0.9"/>
<circle cx="668.3" cy="118.6" r="0.9"/>
<circle cx="668.5" cy="118.2" r="0.9"/>
<circle cx="668.7" cy="118.2" r="0.9"/>
<circle cx="668.9" cy="118.3" r="0.9"/>
<circle cx="669.0" cy="118.4" r="0.9"/>
<circle cx="669.2" cy="118.1" r="0.9"/>
<circle cx="669.4" cy="118.8" r="0.9"/>
<circle cx="669.6" cy="118.2" r="0.9"/>
<circle cx="669.8" cy="118.2" r="0.9"/>
<circle cx="670.0" cy="118.2" r="0.9"/>
<circle cx="670.2" cy="118.2" r="0.9"/>
<circle cx="670.4" cy="118.5" r="0.9"/>
<circle cx="670.6" cy="118.4" r="0.9"/>
<circle cx="670.8" cy="118.1" r="0.9"/>
<circle cx="671.0" cy="118.2" r="0.9"/>
<circle cx="671.2" cy="118.2" r="0.9"/>
<circle cx="671.3" cy="118.7" r="0.9"/>
<circle cx="671.5" cy="118.1" r="0.9"/>
<circle cx="671.7" cy="118.0" r="0.9"/>
<circle cx="671.9" cy="118.0" r="0.9"/>
<circle cx="672.1" cy="118.2" r="0.9"/>
<circle cx="672.3" cy="118.8" r="0.9"/>
<circle cx="672.5" cy="118.0" r="0.9"/>
<circle cx="672.7" cy="118.3" r="0.9"/>
<circle cx="672.9" cy="119.0" r="0.9"/>
<circle cx="673.1" cy="118.2" r="0.9"/>
<circle cx="673.3" cy="118.7" r="0.9"/>
<circle cx="673.5" cy="118.7" r="0.9"/>
<circle cx="673.6" cy="118.5" r="0.9"/>
<circle cx="673.8" cy="117.9" r="0.9"/>
<circle cx="674.0" cy="118.4" r="0.9"/>
<circle cx="674.2" cy="118.2" r="0.9"/>
<circle cx="674.4" cy="117.8" r="0.9"/>
<circle cx="674.6" cy="117.8" r="0.9"/>
<circle cx="674.8" cy="118.3" r="0.9"/>
<circle cx="675.0" cy="118.4" r="0.9"/>
<circle cx="675.2" cy="118.7" r="0.9"/>
<circle cx="675.4" cy="118.5" r="0.9"/>
<circle cx="675.6" cy="118.2" r="0.9"/>
<circle cx="675.8" cy="118.2" r="0.9"/>
<circle cx="675.9" cy="118.3" r="0.9"/>
<circle cx="676.1" cy="118.0" r="0.9"/>
<circle cx="676.3" cy="118.5" r="0.9"/>
<circle cx="676.5" cy="118.3" r="0.9"/>
<circle cx="676.7" cy="118.1" r="0.9"/>
<circle cx="676.9" cy="118.1" r="0.9"/>
<circle cx="677.1" cy="118.0" r="0.9"/>
<circle cx="677.3" cy="118.2" r="0.9"/>
<circle cx="677.5" cy="118.4" r="0.9"/>
<circle cx="677.7" cy="118.2" r="0.9"/>
<circle cx="677.9" cy="118.6" r="0.9"/>
<circle cx="678.1" cy="118.8" r="0.9"/>
<circle cx="678.2" cy="118.1" r="0.9"/>
<circle cx="678.4" cy="118.3" r="0.9"/>
<circle cx="678.6" cy="118.2" r="0.9"/>
<circle cx="678.8" cy="118.8" r="0.9"/>
<circle cx="679.0" cy="118.4" r="0.9"/>
<circle cx="679.2" cy="118.5" r="0.9"/>
</g>
<polyline points="571.60,44.51 571.64,59.00 571.69,68.66 571.73,63.22 571.77,76.38 571.81,78.00 571.86,84.98 571.90,86.76 571.94,92.51 571.98,91.00 572.03,95.88 572.07,94.85 572.11,93.58 572.15,95.73 572.20,99.25 572.24,94.26 572.28,96.98 572.32,97.65 572.37,97.12 572.41,98.17 572.45,98.88 572.49,99.27 572.54,99.20 572.58,98.83 572.62,100.56 572.67,101.94 572.71,101.26 572.75,101.78 572.79,102.78 572.84,103.63 572.88,99.31 572.98,101.13 573.09,103.69 573.20,103.11 573.30,103.86 573.41,106.21 573.52,104.37 573.62,106.45 573.73,106.41 573.84,107.69 573.94,107.85 574.05,106.41 574.16,107.92 574.26,109.42 574.37,108.71 574.48,106.84 574.58,109.50 574.69,103.31 574.80,106.07 574.90,109.44 575.01,107.28 575.11,109.17 575.22,109.27 575.33,110.48 575.43,106.18 575.54,106.38 575.65,108.00 575.75,109.75 575.86,109.46 575.97,108.09 576.07,107.68 576.18,111.14 576.29,109.66 576.39,109.59 576.50,109.40 576.61,111.20 576.71,110.74 576.82,109.16 576.93,111.00 577.03,106.43 577.14,108.12 577.24,109.58 577.35,113.00 577.46,111.57 577.56,111.54 577.67,111.59 577.78,109.16 577.88,109.32 577.99,110.35 578.18,110.31 578.37,111.67 578.57,110.72 578.76,108.83 578.95,111.10 579.14,109.39 579.33,109.68 579.52,113.17 579.72,109.80 579.91,110.69 580.10,111.52 580.29,109.77 580.48,110.30 580.67,112.16 580.87,111.79 581.06,109.51 581.25,111.78 581.44,113.63 581.63,113.19 581.82,112.85 582.02,112.29 582.21,112.25 582.40,114.52 582.59,109.96 582.78,109.55 582.97,114.34 583.17,112.98 583.36,114.29 583.55,111.24 583.74,112.19 583.93,114.00 584.12,111.99 584.32,113.15 584.51,113.01 584.70,111.61 584.89,114.91 585.08,111.36 585.27,112.90 585.47,113.55 585.66,111.11 585.85,113.79 586.04,114.76 586.23,112.61 586.42,110.72 586.62,110.96 586.81,115.25 587.00,112.94 587.19,112.63 587.38,112.22 587.58,112.17 587.77,112.23 587.96,113.65 588.15,113.74 588.34,112.59 588.53,112.62 588.73,113.78 588.92,115.18 589.11,114.69 589.30,114.62 589.49,114.76 589.68,115.06 589.88,113.65 590.07,113.32 590.26,114.22 590.45,114.30 590.64,114.28 590.83,113.50 591.03,113.28 591.22,113.03 591.41,113.25 591.60,111.93 591.79,114.72 591.98,113.11 592.18,111.08 592.37,113.42 592.56,113.25 592.75,114.33 592.94,115.51 593.13,114.56 593.33,112.44 593.52,113.20 593.71,114.41 593.90,112.66 594.09,114.52 594.28,115.52 594.48,111.93 594.67,113.17 594.86,115.28 595.05,113.11 595.24,115.25 595.43,115.31 595.63,114.73 595.82,111.65 596.01,115.88 596.20,113.36 596.39,114.01 596.58,113.65 596.78,114.50 596.97,114.25 597.16,113.00 597.35,111.82 597.54,111.49 597.74,112.40 597.93,114.88 598.12,112.80 598.31,114.18 598.50,114.17 598.69,112.70 598.89,113.07 599.08,114.93 599.27,112.32 599.46,110.66 599.65,113.15 599.84,113.39 600.04,112.94 600.23,113.73 600.42,113.68 600.61,112.71 600.80,115.27 600.99,113.96 601.19,115.33 601.38,112.86 601.57,114.23 601.76,116.31 601.95,113.44 602.14,114.91 602.34,114.70 602.53,112.25 602.72,114.50 602.91,115.95 603.10,114.50 603.29,114.93 603.49,114.24 603.68,114.61 603.87,114.37 604.06,114.66 604.25,114.65 604.44,116.25 604.64,112.96 604.83,113.83 605.02,115.65 605.21,113.99 605.40,115.29 605.59,114.22 605.79,113.53 605.98,113.34 606.17,115.25 606.36,114.31 606.55,114.38 606.75,115.95 606.94,113.98 607.13,116.21 607.32,113.90 607.51,115.54 607.70,115.44 607.90,115.78 608.09,112.22 608.28,115.53 608.47,113.58 608.66,114.04 608.85,113.22 609.05,116.57 609.24,114.93 609.43,113.62 609.62,114.06 609.81,114.87 610.00,115.12 610.20,114.87 610.39,115.77 610.58,115.01 610.77,114.98 610.96,114.60 611.15,114.28 611.35,115.93 611.54,113.62 611.73,111.44 611.92,113.95 612.11,115.17 612.30,114.85 612.50,116.62 612.69,116.14 612.88,112.71 613.07,113.79 613.26,114.72 613.45,116.41 613.65,114.72 613.84,116.75 614.03,113.68 614.22,116.05 614.41,116.31 614.60,113.12 614.80,115.25 614.99,115.03 615.18,113.54 615.37,115.48 615.56,116.02 615.75,115.55 615.95,114.50 616.14,114.63 616.33,115.00 616.52,114.52 616.71,115.98 616.91,115.65 617.10,114.44 617.29,114.20 617.48,114.76 617.67,114.17 617.86,112.65 618.06,116.01 618.25,114.66 618.44,116.64 618.63,115.71 618.82,114.20 619.01,113.78 619.21,114.54 619.40,115.37 619.59,115.73 619.78,116.49 619.97,114.61 620.16,113.14 620.36,114.55 620.55,114.24 620.74,113.99 620.93,115.35 621.12,114.07 621.31,116.76 621.51,115.11 621.70,113.49 621.89,113.85 622.08,114.45 622.27,112.91 622.46,114.29 622.66,115.40 622.85,114.92 623.04,113.91 623.23,115.32 623.42,115.84 623.61,116.20 623.81,113.83 624.00,115.44 624.19,116.80 624.38,115.27 624.57,114.17 624.76,113.70 624.96,113.33 625.15,113.83 625.34,116.39 625.53,116.63 625.72,115.45 625.91,114.51 626.11,113.58 626.30,114.40 626.49,112.28 626.68,114.47 626.87,113.89 627.07,116.69 627.26,115.22 627.45,115.07 627.64,114.57 627.83,114.46 628.02,114.08 628.22,116.79 628.41,115.58 628.60,115.34 628.79,116.51 628.98,114.73 629.17,116.08 629.37,114.78 629.56,114.75 629.75,115.11 629.94,116.30 630.13,112.50 630.32,116.74 630.52,113.62 630.71,114.21 630.90,114.15 631.09,114.71 631.28,113.76 631.47,114.79 631.67,115.01 631.86,114.68 632.05,114.98 632.24,115.33 632.43,115.59 632.62,113.41 632.82,115.99 633.01,115.14 633.20,115.78 633.39,116.12 633.58,115.66 633.77,114.82 633.97,116.56 634.16,114.32 634.35,116.44 634.54,114.68 634.73,114.02 634.92,114.56 635.12,114.18 635.31,115.15 635.50,114.86 635.69,113.25 635.88,115.81 636.08,114.47 636.27,114.57 636.46,114.25 636.65,115.17 636.84,116.73 637.03,113.47 637.23,115.75 637.42,116.54 637.61,116.10 637.80,114.74 637.99,113.91 638.18,116.83 638.38,117.06 638.57,114.33 638.76,116.74 638.95,116.48 639.14,115.28 639.33,114.30 639.53,115.78 639.72,116.72 639.91,115.47 640.10,115.24 640.29,115.54 640.48,114.70 640.68,114.72 640.87,115.16 641.06,114.66 641.25,115.92 641.44,113.77 641.63,115.86 641.83,115.67 642.02,114.80 642.21,114.37 642.40,114.53 642.59,116.01 642.78,113.61 642.98,116.00 643.17,115.57 643.36,113.89 643.55,116.95 643.74,115.89 643.93,116.64 644.13,116.65 644.32,115.28 644.51,115.66 644.70,114.63 644.89,116.69 645.09,114.52 645.28,115.20 645.47,114.84 645.66,116.68 645.85,114.96 646.04,114.79 646.24,116.01 646.43,113.85 646.62,115.78 646.81,115.83 647.00,115.89 647.19,114.97 647.39,114.80 647.58,113.03 647.77,116.24 647.96,114.22 648.15,114.88 648.34,116.09 648.54,115.56 648.73,115.15 648.92,114.60 649.11,115.49 649.30,113.89 649.49,115.74 649.69,114.45 649.88,114.55 650.07,116.04 650.26,116.57 650.45,114.74 650.64,114.15 650.84,114.60 651.03,115.90 651.22,114.49 651.41,114.66 651.60,117.06 651.79,114.37 651.99,114.40 652.18,116.16 652.37,115.79 652.56,117.11 652.75,115.56 652.94,116.28 653.14,115.51 653.33,116.55 653.52,114.52 653.71,114.10 653.90,113.28 654.09,115.61 654.29,115.43 654.48,116.51 654.67,114.80 654.86,112.99 655.05,115.66 655.25,114.71 655.44,115.37 655.63,116.08 655.82,115.30 656.01,114.27 656.20,114.56 656.40,115.61 656.59,116.37 656.78,115.03 656.97,114.97 657.16,115.50 657.35,114.97 657.55,116.65 657.74,115.35 657.93,114.88 658.12,114.10 658.31,116.39 658.50,114.87 658.70,114.39 658.89,113.96 659.08,114.06 659.27,116.64 659.46,114.31 659.65,115.56 659.85,113.99 660.04,115.03 660.23,114.02 660.42,117.15 660.61,114.22 660.80,115.54 661.00,116.65 661.19,114.99 661.38,115.74 661.57,115.73 661.76,114.01 661.95,117.09 662.15,116.08 662.34,115.04 662.53,114.62 662.72,115.65 662.91,115.82 663.10,113.01 663.30,115.65 663.49,115.98 663.68,116.38 663.87,116.17 664.06,112.51 664.25,115.16 664.45,116.58 664.64,115.35 664.83,114.40 665.02,115.19 665.21,115.69 665.41,114.11 665.60,115.55 665.79,115.72 665.98,113.36 666.17,114.25 666.36,114.86 666.56,115.95 666.75,114.22 666.94,114.88 667.13,113.05 667.32,115.95 667.51,115.20 667.71,114.02 667.90,115.46 668.09,114.37 668.28,114.61 668.47,115.19 668.66,117.07 668.86,113.90 669.05,115.71 669.24,113.89 669.43,114.47 669.62,114.13 669.81,117.07 670.01,114.48 670.20,115.35 670.39,115.14 670.58,115.66 670.77,115.48 670.96,116.02 671.16,114.29 671.35,114.58 671.54,114.56 671.73,115.93 671.92,116.11 672.11,114.98 672.31,114.52 672.50,116.42 672.69,115.85 672.88,115.02 673.07,115.17 673.26,116.02 673.46,114.30 673.65,116.22 673.84,114.10 674.03,116.77 674.22,115.81 674.42,116.67 674.61,114.60 674.80,115.70 674.99,113.98 675.18,112.77 675.37,113.94 675.57,116.03 675.76,117.16 675.95,114.93 676.14,113.53 676.33,114.24 676.52,116.95 676.72,115.28 676.91,112.56 677.10,114.17 677.29,114.33 677.48,114.09 677.67,114.58 677.87,116.50 678.06,115.53 678.25,113.56 678.44,116.19 678.63,116.25 678.82,114.72 679.02,114.48 679.21,115.66" fill="none" stroke="#3BB8F0" stroke-width="0.6"/>
<g fill="none" stroke="#3BB8F0" stroke-width="0.5">
<circle cx="571.6" cy="44.5" r="0.9"/>
<circle cx="571.6" cy="59.0" r="0.9"/>
<circle cx="571.7" cy="68.7" r="0.9"/>
<circle cx="571.7" cy="63.2" r="0.9"/>
<circle cx="571.8" cy="76.4" r="0.9"/>
<circle cx="571.8" cy="78.0" r="0.9"/>
<circle cx="571.9" cy="85.0" r="0.9"/>
<circle cx="571.9" cy="86.8" r="0.9"/>
<circle cx="571.9" cy="92.5" r="0.9"/>
<circle cx="572.0" cy="91.0" r="0.9"/>
<circle cx="572.0" cy="95.9" r="0.9"/>
<circle cx="572.1" cy="94.8" r="0.9"/>
<circle cx="572.1" cy="93.6" r="0.9"/>
<circle cx="572.2" cy="95.7" r="0.9"/>
<circle cx="572.2" cy="99.3" r="0.9"/>
<circle cx="572.2" cy="94.3" r="0.9"/>
<circle cx="572.3" cy="97.0" r="0.9"/>
<circle cx="572.3" cy="97.7" r="0.9"/>
<circle cx="572.4" cy="97.1" r="0.9"/>
<circle cx="572.4" cy="98.2" r="0.9"/>
<circle cx="572.5" cy="98.9" r="0.9"/>
<circle cx="572.5" cy="99.3" r="0.9"/>
<circle cx="572.5" cy="99.2" r="0.9"/>
<circle cx="572.6" cy="98.8" r="0.9"/>
<circle cx="572.6" cy="100.6" r="0.9"/>
<circle cx="572.7" cy="101.9" r="0.9"/>
<circle cx="572.7" cy="101.3" r="0.9"/>
<circle cx="572.8" cy="101.8" r="0.9"/>
<circle cx="572.8" cy="102.8" r="0.9"/>
<circle cx="572.8" cy="103.6" r="0.9"/>
<circle cx="572.9" cy="99.3" r="0.9"/>
<circle cx="573.0" cy="101.1" r="0.9"/>
<circle cx="573.1" cy="103.7" r="0.9"/>
<circle cx="573.2" cy="103.1" r="0.9"/>
<circle cx="573.3" cy="103.9" r="0.9"/>
<circle cx="573.4" cy="106.2" r="0.9"/>
<circle cx="573.5" cy="104.4" r="0.9"/>
<circle cx="573.6" cy="106.4" r="0.9"/>
<circle cx="573.7" cy="106.4" r="0.9"/>
<circle cx="573.8" cy="107.7" r="0.9"/>
<circle cx="573.9" cy="107.8" r="0.9"/>
<circle cx="574.0" cy="106.4" r="0.9"/>
<circle cx="574.2" cy="107.9" r="0.9"/>
<circle cx="574.3" cy="109.4" r="0.9"/>
<circle cx="574.4" cy="108.7" r="0.9"/>
<circle cx="574.5" cy="106.8" r="0.9"/>
<circle cx="574.6" cy="109.5" r="0.9"/>
<circle cx="574.7" cy="103.3" r="0.9"/>
<circle cx="574.8" cy="106.1" r="0.9"/>
<circle cx="574.9" cy="109.4" r="0.9"/>
<circle cx="575.0" cy="107.3" r="0.9"/>
<circle cx="575.1" cy="109.2" r="0.9"/>
<circle cx="575.2" cy="109.3" r="0.9"/>
<circle cx="575.3" cy="110.5" r="0.9"/>
<circle cx="575.4" cy="106.2" r="0.9"/>
<circle cx="575.5" cy="106.4" r="0.9"/>
<circle cx="575.6" cy="108.0" r="0.9"/>
<circle cx="575.8" cy="109.7" r="0.9"/>
<circle cx="575.9" cy="109.5" r="0.9"/>
<circle cx="576.0" cy="108.1" r="0.9"/>
<circle cx="576.1" cy="107.7" r="0.9"/>
<circle cx="576.2" cy="111.1" r="0.9"/>
<circle cx="576.3" cy="109.7" r="0.9"/>
<circle cx="576.4" cy="109.6" r="0.9"/>
<circle cx="576.5" cy="109.4" r="0.9"/>
<circle cx="576.6" cy="111.2" r="0.9"/>
<circle cx="576.7" cy="110.7" r="0.9"/>
<circle cx="576.8" cy="109.2" r="0.9"/>
<circle cx="576.9" cy="111.0" r="0.9"/>
<circle cx="577.0" cy="106.4" r="0.9"/>
<circle cx="577.1" cy="108.1" r="0.9"/>
<circle cx="577.2" cy="109.6" r="0.9"/>
<circle cx="577.4" cy="113.0" r="0.9"/>
<circle cx="577.5" cy="111.6" r="0.9"/>
<circle cx="577.6" cy="111.5" r="0.9"/>
<circle cx="577.7" cy="111.6" r="0.9"/>
<circle cx="577.8" cy="109.2" r="0.9"/>
<circle cx="577.9" cy="109.3" r="0.9"/>
<circle cx="578.0" cy="110.4" r="0.9"/>
<circle cx="578.2" cy="110.3" r="0.9"/>
<circle cx="578.4" cy="111.7" r="0.9"/>
<circle cx="578.6" cy="110.7" r="0.9"/>
<circle cx="578.8" cy="108.8" r="0.9"/>
<circle cx="578.9" cy="111.1" r="0.9"/>
<circle cx="579.1" cy="109.4" r="0.9"/>
<circle cx="579.3" cy="109.7" r="0.9"/>
<circle cx="579.5" cy="113.2" r="0.9"/>
<circle cx="579.7" cy="109.8" r="0.9"/>
<circle cx="579.9" cy="110.7" r="0.9"/>
<circle cx="580.1" cy="111.5" r="0.9"/>
<circle cx="580.3" cy="109.8" r="0.9"/>
<circle cx="580.5" cy="110.3" r="0.9"/>
<circle cx="580.7" cy="112.2" r="0.9"/>
<circle cx="580.9" cy="111.8" r="0.9"/>
<circle cx="581.1" cy="109.5" r="0.9"/>
<circle cx="581.2" cy="111.8" r="0.9"/>
<circle cx="581.4" cy="113.6" r="0.9"/>
<circle cx="581.6" cy="113.2" r="0.9"/>
<circle cx="581.8" cy="112.8" r="0.9"/>
<circle cx="582.0" cy="112.3" r="0.9"/>
<circle cx="582.2" cy="112.3" r="0.9"/>
<circle cx="582.4" cy="114.5" r="0.9"/>
<circle cx="582.6" cy="110.0" r="0.9"/>
<circle cx="582.8" cy="109.5" r="0.9"/>
<circle cx="583.0" cy="114.3" r="0.9"/>
<circle cx="583.2" cy="113.0" r="0.9"/>
<circle cx="583.4" cy="114.3" r="0.9"/>
<circle cx="583.5" cy="111.2" r="0.9"/>
<circle cx="583.7" cy="112.2" r="0.9"/>
<circle cx="583.9" cy="114.0" r="0.9"/>
<circle cx="584.1" cy="112.0" r="0.9"/>
<circle cx="584.3" cy="113.1" r="0.9"/>
<circle cx="584.5" cy="113.0" r="0.9"/>
<circle cx="584.7" cy="111.6" r="0.9"/>
<circle cx="584.9" cy="114.9" r="0.9"/>
<circle cx="585.1" cy="111.4" r="0.9"/>
<circle cx="585.3" cy="112.9" r="0.9"/>
<circle cx="585.5" cy="113.5" r="0.9"/>
<circle cx="585.7" cy="111.1" r="0.9"/>
<circle cx="585.8" cy="113.8" r="0.9"/>
<circle cx="586.0" cy="114.8" r="0.9"/>
<circle cx="586.2" cy="112.6" r="0.9"/>
<circle cx="586.4" cy="110.7" r="0.9"/>
<circle cx="586.6" cy="111.0" r="0.9"/>
<circle cx="586.8" cy="115.2" r="0.9"/>
<circle cx="587.0" cy="112.9" r="0.9"/>
<circle cx="587.2" cy="112.6" r="0.9"/>
<circle cx="587.4" cy="112.2" r="0.9"/>
<circle cx="587.6" cy="112.2" r="0.9"/>
<circle cx="587.8" cy="112.2" r="0.9"/>
<circle cx="588.0" cy="113.6" r="0.9"/>
<circle cx="588.2" cy="113.7" r="0.9"/>
<circle cx="588.3" cy="112.6" r="0.9"/>
<circle cx="588.5" cy="112.6" r="0.9"/>
<circle cx="588.7" cy="113.8" r="0.9"/>
<circle cx="588.9" cy="115.2" r="0.9"/>
<circle cx="589.1" cy="114.7" r="0.9"/>
<circle cx="589.3" cy="114.6" r="0.9"/>
<circle cx="589.5" cy="114.8" r="0.9"/>
<circle cx="589.7" cy="115.1" r="0.9"/>
<circle cx="589.9" cy="113.6" r="0.9"/>
<circle cx="590.1" cy="113.3" r="0.9"/>
<circle cx="590.3" cy="114.2" r="0.9"/>
<circle cx="590.5" cy="114.3" r="0.9"/>
<circle cx="590.6" cy="114.3" r="0.9"/>
<circle cx="590.8" cy="113.5" r="0.9"/>
<circle cx="591.0" cy="113.3" r="0.9"/>
<circle cx="591.2" cy="113.0" r="0.9"/>
<circle cx="591.4" cy="113.3" r="0.9"/>
<circle cx="591.6" cy="111.9" r="0.9"/>
<circle cx="591.8" cy="114.7" r="0.9"/>
<circle cx="592.0" cy="113.1" r="0.9"/>
<circle cx="592.2" cy="111.1" r="0.9"/>
<circle cx="592.4" cy="113.4" r="0.9"/>
<circle cx="592.6" cy="113.3" r="0.9"/>
<circle cx="592.8" cy="114.3" r="0.9"/>
<circle cx="592.9" cy="115.5" r="0.9"/>
<circle cx="593.1" cy="114.6" r="0.9"/>
<circle cx="593.3" cy="112.4" r="0.9"/>
<circle cx="593.5" cy="113.2" r="0.9"/>
<circle cx="593.7" cy="114.4" r="0.9"/>
<circle cx="593.9" cy="112.7" r="0.9"/>
<circle cx="594.1" cy="114.5" r="0.9"/>
<circle cx="594.3" cy="115.5" r="0.9"/>
<circle cx="594.5" cy="111.9" r="0.9"/>
<circle cx="594.7" cy="113.2" r="0.9"/>
<circle cx="594.9" cy="115.3" r="0.9"/>
<circle cx="595.1" cy="113.1" r="0.9"/>
<circle cx="595.2" cy="115.2" r="0.9"/>
<circle cx="595.4" cy="115.3" r="0.9"/>
<circle cx="595.6" cy="114.7" r="0.9"/>
<circle cx="595.8" cy="111.6" r="0.9"/>
<circle cx="596.0" cy="115.9" r="0.9"/>
<circle cx="596.2" cy="113.4" r="0.9"/>
<circle cx="596.4" cy="114.0" r="0.9"/>
<circle cx="596.6" cy="113.6" r="0.9"/>
<circle cx="596.8" cy="114.5" r="0.9"/>
<circle cx="597.0" cy="114.3" r="0.9"/>
<circle cx="597.2" cy="113.0" r="0.9"/>
<circle cx="597.4" cy="111.8" r="0.9"/>
<circle cx="597.5" cy="111.5" r="0.9"/>
<circle cx="597.7" cy="112.4" r="0.9"/>
<circle cx="597.9" cy="114.9" r="0.9"/>
<circle cx="598.1" cy="112.8" r="0.9"/>
<circle cx="598.3" cy="114.2" r="0.9"/>
<circle cx="598.5" cy="114.2" r="0.9"/>
<circle cx="598.7" cy="112.7" r="0.9"/>
<circle cx="598.9" cy="113.1" r="0.9"/>
<circle cx="599.1" cy="114.9" r="0.9"/>
<circle cx="599.3" cy="112.3" r="0.9"/>
<circle cx="599.5" cy="110.7" r="0.9"/>
<circle cx="599.7" cy="113.1" r="0.9"/>
<circle cx="599.8" cy="113.4" r="0.9"/>
<circle cx="600.0" cy="112.9" r="0.9"/>
<circle cx="600.2" cy="113.7" r="0.9"/>
<circle cx="600.4" cy="113.7" r="0.9"/>
<circle cx="600.6" cy="112.7" r="0.9"/>
<circle cx="600.8" cy="115.3" r="0.9"/>
<circle cx="601.0" cy="114.0" r="0.9"/>
<circle cx="601.2" cy="115.3" r="0.9"/>
<circle cx="601.4" cy="112.9" r="0.9"/>
<circle cx="601.6" cy="114.2" r="0.9"/>
<circle cx="601.8" cy="116.3" r="0.9"/>
<circle cx="602.0" cy="113.4" r="0.9"/>
<circle cx="602.1" cy="114.9" r="0.9"/>
<circle cx="602.3" cy="114.7" r="0.9"/>
<circle cx="602.5" cy="112.3" r="0.9"/>
<circle cx="602.7" cy="114.5" r="0.9"/>
<circle cx="602.9" cy="115.9" r="0.9"/>
<circle cx="603.1" cy="114.5" r="0.9"/>
<circle cx="603.3" cy="114.9" r="0.9"/>
<circle cx="603.5" cy="114.2" r="0.9"/>
<circle cx="603.7" cy="114.6" r="0.9"/>
<circle cx="603.9" cy="114.4" r="0.9"/>
<circle cx="604.1" cy="114.7" r="0.9"/>
<circle cx="604.3" cy="114.7" r="0.9"/>
<circle cx="604.4" cy="116.3" r="0.9"/>
<circle cx="604.6" cy="113.0" r="0.9"/>
<circle cx="604.8" cy="113.8" r="0.9"/>
<circle cx="605.0" cy="115.6" r="0.9"/>
<circle cx="605.2" cy="114.0" r="0.9"/>
<circle cx="605.4" cy="115.3" r="0.9"/>
<circle cx="605.6" cy="114.2" r="0.9"/>
<circle cx="605.8" cy="113.5" r="0.9"/>
<circle cx="606.0" cy="113.3" r="0.9"/>
<circle cx="606.2" cy="115.3" r="0.9"/>
<circle cx="606.4" cy="114.3" r="0.9"/>
<circle cx="606.6" cy="114.4" r="0.9"/>
<circle cx="606.7" cy="116.0" r="0.9"/>
<circle cx="606.9" cy="114.0" r="0.9"/>
<circle cx="607.1" cy="116.2" r="0.9"/>
<circle cx="607.3" cy="113.9" r="0.9"/>
<circle cx="607.5" cy="115.5" r="0.9"/>
<circle cx="607.7" cy="115.4" r="0.9"/>
<circle cx="607.9" cy="115.8" r="0.9"/>
<circle cx="608.1" cy="112.2" r="0.9"/>
<circle cx="608.3" cy="115.5" r="0.9"/>
<circle cx="608.5" cy="113.6" r="0.9"/>
<circle cx="608.7" cy="114.0" r="0.9"/>
<circle cx="608.9" cy="113.2" r="0.9"/>
<circle cx="609.0" cy="116.6" r="0.9"/>
<circle cx="609.2" cy="114.9" r="0.9"/>
<circle cx="609.4" cy="113.6" r="0.9"/>
<circle cx="609.6" cy="114.1" r="0.9"/>
<circle cx="609.8" cy="114.9" r="0.9"/>
<circle cx="610.0" cy="115.1" r="0.9"/>
<circle cx="610.2" cy="114.9" r="0.9"/>
<circle cx="610.4" cy="115.8" r="0.9"/>
<circle cx="610.6" cy="115.0" r="0.9"/>
<circle cx="610.8" cy="115.0" r="0.9"/>
<circle cx="611.0" cy="114.6" r="0.9"/>
<circle cx="611.2" cy="114.3" r="0.9"/>
<circle cx="611.3" cy="115.9" r="0.9"/>
<circle cx="611.5" cy="113.6" r="0.9"/>
<circle cx="611.7" cy="111.4" r="0.9"/>
<circle cx="611.9" cy="113.9" r="0.9"/>
<circle cx="612.1" cy="115.2" r="0.9"/>
<circle cx="612.3" cy="114.8" r="0.9"/>
<circle cx="612.5" cy="116.6" r="0.9"/>
<circle cx="612.7" cy="116.1" r="0.9"/>
<circle cx="612.9" cy="112.7" r="0.9"/>
<circle cx="613.1" cy="113.8" r="0.9"/>
<circle cx="613.3" cy="114.7" r="0.9"/>
<circle cx="613.5" cy="116.4" r="0.9"/>
<circle cx="613.6" cy="114.7" r="0.9"/>
<circle cx="613.8" cy="116.8" r="0.9"/>
<circle cx="614.0" cy="113.7" r="0.9"/>
<circle cx="614.2" cy="116.0" r="0.9"/>
<circle cx="614.4" cy="116.3" r="0.9"/>
<circle cx="614.6" cy="113.1" r="0.9"/>
<circle cx="614.8" cy="115.3" r="0.9"/>
<circle cx="615.0" cy="115.0" r="0.9"/>
<circle cx="615.2" cy="113.5" r="0.9"/>
<circle cx="615.4" cy="115.5" r="0.9"/>
<circle cx="615.6" cy="116.0" r="0.9"/>
<circle cx="615.8" cy="115.5" r="0.9"/>
<circle cx="615.9" cy="114.5" r="0.9"/>
<circle cx="616.1" cy="114.6" r="0.9"/>
<circle cx="616.3" cy="115.0" r="0.9"/>
<circle cx="616.5" cy="114.5" r="0.9"/>
<circle cx="616.7" cy="116.0" r="0.9"/>
<circle cx="616.9" cy="115.7" r="0.9"/>
<circle cx="617.1" cy="114.4" r="0.9"/>
<circle cx="617.3" cy="114.2" r="0.9"/>
<circle cx="617.5" cy="114.8" r="0.9"/>
<circle cx="617.7" cy="114.2" r="0.9"/>
<circle cx="617.9" cy="112.6" r="0.9"/>
<circle cx="618.1" cy="116.0" r="0.9"/>
<circle cx="618.2" cy="114.7" r="0.9"/>
<circle cx="618.4" cy="116.6" r="0.9"/>
<circle cx="618.6" cy="115.7" r="0.9"/>
<circle cx="618.8" cy="114.2" r="0.9"/>
<circle cx="619.0" cy="113.8" r="0.9"/>
<circle cx="619.2" cy="114.5" r="0.9"/>
<circle cx="619.4" cy="115.4" r="0.9"/>
<circle cx="619.6" cy="115.7" r="0.9"/>
<circle cx="619.8" cy="116.5" r="0.9"/>
<circle cx="620.0" cy="114.6" r="0.9"/>
<circle cx="620.2" cy="113.1" r="0.9"/>
<circle cx="620.4" cy="114.6" r="0.9"/>
<circle cx="620.5" cy="114.2" r="0.9"/>
<circle cx="620.7" cy="114.0" r="0.9"/>
<circle cx="620.9" cy="115.3" r="0.9"/>
<circle cx="621.1" cy="114.1" r="0.9"/>
<circle cx="621.3" cy="116.8" r="0.9"/>
<circle cx="621.5" cy="115.1" r="0.9"/>
<circle cx="621.7" cy="113.5" r="0.9"/>
<circle cx="621.9" cy="113.8" r="0.9"/>
<circle cx="622.1" cy="114.4" r="0.9"/>
<circle cx="622.3" cy="112.9" r="0.9"/>
<circle cx="622.5" cy="114.3" r="0.9"/>
<circle cx="622.7" cy="115.4" r="0.9"/>
<circle cx="622.8" cy="114.9" r="0.9"/>
<circle cx="623.0" cy="113.9" r="0.9"/>
<circle cx="623.2" cy="115.3" r="0.9"/>
<circle cx="623.4" cy="115.8" r="0.9"/>
<circle cx="623.6" cy="116.2" r="0.9"/>
<circle cx="623.8" cy="113.8" r="0.9"/>
<circle cx="624.0" cy="115.4" r="0.9"/>
<circle cx="624.2" cy="116.8" r="0.9"/>
<circle cx="624.4" cy="115.3" r="0.9"/>
<circle cx="624.6" cy="114.2" r="0.9"/>
<circle cx="624.8" cy="113.7" r="0.9"/>
<circle cx="625.0" cy="113.3" r="0.9"/>
<circle cx="625.1" cy="113.8" r="0.9"/>
<circle cx="625.3" cy="116.4" r="0.9"/>
<circle cx="625.5" cy="116.6" r="0.9"/>
<circle cx="625.7" cy="115.4" r="0.9"/>
<circle cx="625.9" cy="114.5" r="0.9"/>
<circle cx="626.1" cy="113.6" r="0.9"/>
<circle cx="626.3" cy="114.4" r="0.9"/>
<circle cx="626.5" cy="112.3" r="0.9"/>
<circle cx="626.7" cy="114.5" r="0.9"/>
<circle cx="626.9" cy="113.9" r="0.9"/>
<circle cx="627.1" cy="116.7" r="0.9"/>
<circle cx="627.3" cy="115.2" r="0.9"/>
<circle cx="627.4" cy="115.1" r="0.9"/>
<circle cx="627.6" cy="114.6" r="0.9"/>
<circle cx="627.8" cy="114.5" r="0.9"/>
<circle cx="628.0" cy="114.1" r="0.9"/>
<circle cx="628.2" cy="116.8" r="0.9"/>
<circle cx="628.4" cy="115.6" r="0.9"/>
<circle cx="628.6" cy="115.3" r="0.9"/>
<circle cx="628.8" cy="116.5" r="0.9"/>
<circle cx="629.0" cy="114.7" r="0.9"/>
<circle cx="629.2" cy="116.1" r="0.9"/>
<circle cx="629.4" cy="114.8" r="0.9"/>
<circle cx="629.6" cy="114.7" r="0.9"/>
<circle cx="629.7" cy="115.1" r="0.9"/>
<circle cx="629.9" cy="116.3" r="0.9"/>
<circle cx="630.1" cy="112.5" r="0.9"/>
<circle cx="630.3" cy="116.7" r="0.9"/>
<circle cx="630.5" cy="113.6" r="0.9"/>
<circle cx="630.7" cy="114.2" r="0.9"/>
<circle cx="630.9" cy="114.1" r="0.9"/>
<circle cx="631.1" cy="114.7" r="0.9"/>
<circle cx="631.3" cy="113.8" r="0.9"/>
<circle cx="631.5" cy="114.8" r="0.9"/>
<circle cx="631.7" cy="115.0" r="0.9"/>
<circle cx="631.9" cy="114.7" r="0.9"/>
<circle cx="632.0" cy="115.0" r="0.9"/>
<circle cx="632.2" cy="115.3" r="0.9"/>
<circle cx="632.4" cy="115.6" r="0.9"/>
<circle cx="632.6" cy="113.4" r="0.9"/>
<circle cx="632.8" cy="116.0" r="0.9"/>
<circle cx="633.0" cy="115.1" r="0.9"/>
<circle cx="633.2" cy="115.8" r="0.9"/>
<circle cx="633.4" cy="116.1" r="0.9"/>
<circle cx="633.6" cy="115.7" r="0.9"/>
<circle cx="633.8" cy="114.8" r="0.9"/>
<circle cx="634.0" cy="116.6" r="0.9"/>
<circle cx="634.2" cy="114.3" r="0.9"/>
<circle cx="634.3" cy="116.4" r="0.9"/>
<circle cx="634.5" cy="114.7" r="0.9"/>
<circle cx="634.7" cy="114.0" r="0.9"/>
<circle cx="634.9" cy="114.6" r="0.9"/>
<circle cx="635.1" cy="114.2" r="0.9"/>
<circle cx="635.3" cy="115.1" r="0.9"/>
<circle cx="635.5" cy="114.9" r="0.9"/>
<circle cx="635.7" cy="113.2" r="0.9"/>
<circle cx="635.9" cy="115.8" r="0.9"/>
<circle cx="636.1" cy="114.5" r="0.9"/>
<circle cx="636.3" cy="114.6" r="0.9"/>
<circle cx="636.5" cy="114.3" r="0.9"/>
<circle cx="636.7" cy="115.2" r="0.9"/>
<circle cx="636.8" cy="116.7" r="0.9"/>
<circle cx="637.0" cy="113.5" r="0.9"/>
<circle cx="637.2" cy="115.8" r="0.9"/>
<circle cx="637.4" cy="116.5" r="0.9"/>
<circle cx="637.6" cy="116.1" r="0.9"/>
<circle cx="637.8" cy="114.7" r="0.9"/>
<circle cx="638.0" cy="113.9" r="0.9"/>
<circle cx="638.2" cy="116.8" r="0.9"/>
<circle cx="638.4" cy="117.1" r="0.9"/>
<circle cx="638.6" cy="114.3" r="0.9"/>
<circle cx="638.8" cy="116.7" r="0.9"/>
<circle cx="639.0" cy="116.5" r="0.9"/>
<circle cx="639.1" cy="115.3" r="0.9"/>
<circle cx="639.3" cy="114.3" r="0.9"/>
<circle cx="639.5" cy="115.8" r="0.9"/>
<circle cx="639.7" cy="116.7" r="0.9"/>
<circle cx="639.9" cy="115.5" r="0.9"/>
<circle cx="640.1" cy="115.2" r="0.9"/>
<circle cx="640.3" cy="115.5" r="0.9"/>
<circle cx="640.5" cy="114.7" r="0.9"/>
<circle cx="640.7" cy="114.7" r="0.9"/>
<circle cx="640.9" cy="115.2" r="0.9"/>
<circle cx="641.1" cy="114.7" r="0.9"/>
<circle cx="641.3" cy="115.9" r="0.9"/>
<circle cx="641.4" cy="113.8" r="0.9"/>
<circle cx="641.6" cy="115.9" r="0.9"/>
<circle cx="641.8" cy="115.7" r="0.9"/>
<circle cx="642.0" cy="114.8" r="0.9"/>
<circle cx="642.2" cy="114.4" r="0.9"/>
<circle cx="642.4" cy="114.5" r="0.9"/>
<circle cx="642.6" cy="116.0" r="0.9"/>
<circle cx="642.8" cy="113.6" r="0.9"/>
<circle cx="643.0" cy="116.0" r="0.9"/>
<circle cx="643.2" cy="115.6" r="0.9"/>
<circle cx="643.4" cy="113.9" r="0.9"/>
<circle cx="643.6" cy="116.9" r="0.9"/>
<circle cx="643.7" cy="115.9" r="0.9"/>
<circle cx="643.9" cy="116.6" r="0.9"/>
<circle cx="644.1" cy="116.7" r="0.9"/>
<circle cx="644.3" cy="115.3" r="0.9"/>
<circle cx="644.5" cy="115.7" r="0.9"/>
<circle cx="644.7" cy="114.6" r="0.9"/>
<circle cx="644.9" cy="116.7" r="0.9"/>
<circle cx="645.1" cy="114.5" r="0.9"/>
<circle cx="645.3" cy="115.2" r="0.9"/>
<circle cx="645.5" cy="114.8" r="0.9"/>
<circle cx="645.7" cy="116.7" r="0.9"/>
<circle cx="645.9" cy="115.0" r="0.9"/>
<circle cx="646.0" cy="114.8" r="0.9"/>
<circle cx="646.2" cy="116.0" r="0.9"/>
<circle cx="646.4" cy="113.8" r="0.9"/>
<circle cx="646.6" cy="115.8" r="0.9"/>
<circle cx="646.8" cy="115.8" r="0.9"/>
<circle cx="647.0" cy="115.9" r="0.9"/>
<circle cx="647.2" cy="115.0" r="0.9"/>
<circle cx="647.4" cy="114.8" r="0.9"/>
<circle cx="647.6" cy="113.0" r="0.9"/>
<circle cx="647.8" cy="116.2" r="0.9"/>
<circle cx="648.0" cy="114.2" r="0.9"/>
<circle cx="648.2" cy="114.9" r="0.9"/>
<circle cx="648.3" cy="116.1" r="0.9"/>
<circle cx="648.5" cy="115.6" r="0.9"/>
<circle cx="648.7" cy="115.2" r="0.9"/>
<circle cx="648.9" cy="114.6" r="0.9"/>
<circle cx="649.1" cy="115.5" r="0.9"/>
<circle cx="649.3" cy="113.9" r="0.9"/>
<circle cx="649.5" cy="115.7" r="0.9"/>
<circle cx="649.7" cy="114.4" r="0.9"/>
<circle cx="649.9" cy="114.5" r="0.9"/>
<circle cx="650.1" cy="116.0" r="0.9"/>
<circle cx="650.3" cy="116.6" r="0.9"/>
<circle cx="650.5" cy="114.7" r="0.9"/>
<circle cx="650.6" cy="114.1" r="0.9"/>
<circle cx="650.8" cy="114.6" r="0.9"/>
<circle cx="651.0" cy="115.9" r="0.9"/>
<circle cx="651.2" cy="114.5" r="0.9"/>
<circle cx="651.4" cy="114.7" r="0.9"/>
<circle cx="651.6" cy="117.1" r="0.9"/>
<circle cx="651.8" cy="114.4" r="0.9"/>
<circle cx="652.0" cy="114.4" r="0.9"/>
<circle cx="652.2" cy="116.2" r="0.9"/>
<circle cx="652.4" cy="115.8" r="0.9"/>
<circle cx="652.6" cy="117.1" r="0.9"/>
<circle cx="652.8" cy="115.6" r="0.9"/>
<circle cx="652.9" cy="116.3" r="0.9"/>
<circle cx="653.1" cy="115.5" r="0.9"/>
<circle cx="653.3" cy="116.6" r="0.9"/>
<circle cx="653.5" cy="114.5" r="0.9"/>
<circle cx="653.7" cy="114.1" r="0.9"/>
<circle cx="653.9" cy="113.3" r="0.9"/>
<circle cx="654.1" cy="115.6" r="0.9"/>
<circle cx="654.3" cy="115.4" r="0.9"/>
<circle cx="654.5" cy="116.5" r="0.9"/>
<circle cx="654.7" cy="114.8" r="0.9"/>
<circle cx="654.9" cy="113.0" r="0.9"/>
<circle cx="655.1" cy="115.7" r="0.9"/>
<circle cx="655.2" cy="114.7" r="0.9"/>
<circle cx="655.4" cy="115.4" r="0.9"/>
<circle cx="655.6" cy="116.1" r="0.9"/>
<circle cx="655.8" cy="115.3" r="0.9"/>
<circle cx="656.0" cy="114.3" r="0.9"/>
<circle cx="656.2" cy="114.6" r="0.9"/>
<circle cx="656.4" cy="115.6" r="0.9"/>
<circle cx="656.6" cy="116.4" r="0.9"/>
<circle cx="656.8" cy="115.0" r="0.9"/>
<circle cx="657.0" cy="115.0" r="0.9"/>
<circle cx="657.2" cy="115.5" r="0.9"/>
<circle cx="657.4" cy="115.0" r="0.9"/>
<circle cx="657.5" cy="116.7" r="0.9"/>
<circle cx="657.7" cy="115.4" r="0.9"/>
<circle cx="657.9" cy="114.9" r="0.9"/>
<circle cx="658.1" cy="114.1" r="0.9"/>
<circle cx="658.3" cy="116.4" r="0.9"/>
<circle cx="658.5" cy="114.9" r="0.9"/>
<circle cx="658.7" cy="114.4" r="0.9"/>
<circle cx="658.9" cy="114.0" r="0.9"/>
<circle cx="659.1" cy="114.1" r="0.9"/>
<circle cx="659.3" cy="116.6" r="0.9"/>
<circle cx="659.5" cy="114.3" r="0.9"/>
<circle cx="659.7" cy="115.6" r="0.9"/>
<circle cx="659.8" cy="114.0" r="0.9"/>
<circle cx="660.0" cy="115.0" r="0.9"/>
<circle cx="660.2" cy="114.0" r="0.9"/>
<circle cx="660.4" cy="117.1" r="0.9"/>
<circle cx="660.6" cy="114.2" r="0.9"/>
<circle cx="660.8" cy="115.5" r="0.9"/>
<circle cx="661.0" cy="116.7" r="0.9"/>
<circle cx="661.2" cy="115.0" r="0.9"/>
<circle cx="661.4" cy="115.7" r="0.9"/>
<circle cx="661.6" cy="115.7" r="0.9"/>
<circle cx="661.8" cy="114.0" r="0.9"/>
<circle cx="662.0" cy="117.1" r="0.9"/>
<circle cx="662.1" cy="116.1" r="0.9"/>
<circle cx="662.3" cy="115.0" r="0.9"/>
<circle cx="662.5" cy="114.6" r="0.9"/>
<circle cx="662.7" cy="115.6" r="0.9"/>
<circle cx="662.9" cy="115.8" r="0.9"/>
<circle cx="663.1" cy="113.0" r="0.9"/>
<circle cx="663.3" cy="115.7" r="0.9"/>
<circle cx="663.5" cy="116.0" r="0.9"/>
<circle cx="663.7" cy="116.4" r="0.9"/>
<circle cx="663.9" cy="116.2" r="0.9"/>
<circle cx="664.1" cy="112.5" r="0.9"/>
<circle cx="664.3" cy="115.2" r="0.9"/>
<circle cx="664.4" cy="116.6" r="0.9"/>
<circle cx="664.6" cy="115.3" r="0.9"/>
<circle cx="664.8" cy="114.4" r="0.9"/>
<circle cx="665.0" cy="115.2" r="0.9"/>
<circle cx="665.2" cy="115.7" r="0.9"/>
<circle cx="665.4" cy="114.1" r="0.9"/>
<circle cx="665.6" cy="115.6" r="0.9"/>
<circle cx="665.8" cy="115.7" r="0.9"/>
<circle cx="666.0" cy="113.4" r="0.9"/>
<circle cx="666.2" cy="114.3" r="0.9"/>
<circle cx="666.4" cy="114.9" r="0.9"/>
<circle cx="666.6" cy="115.9" r="0.9"/>
<circle cx="666.7" cy="114.2" r="0.9"/>
<circle cx="666.9" cy="114.9" r="0.9"/>
<circle cx="667.1" cy="113.0" r="0.9"/>
<circle cx="667.3" cy="116.0" r="0.9"/>
<circle cx="667.5" cy="115.2" r="0.9"/>
<circle cx="667.7" cy="114.0" r="0.9"/>
<circle cx="667.9" cy="115.5" r="0.9"/>
<circle cx="668.1" cy="114.4" r="0.9"/>
<circle cx="668.3" cy="114.6" r="0.9"/>
<circle cx="668.5" cy="115.2" r="0.9"/>
<circle cx="668.7" cy="117.1" r="0.9"/>
<circle cx="668.9" cy="113.9" r="0.9"/>
<circle cx="669.0" cy="115.7" r="0.9"/>
<circle cx="669.2" cy="113.9" r="0.9"/>
<circle cx="669.4" cy="114.5" r="0.9"/>
<circle cx="669.6" cy="114.1" r="0.9"/>
<circle cx="669.8" cy="117.1" r="0.9"/>
<circle cx="670.0" cy="114.5" r="0.9"/>
<circle cx="670.2" cy="115.4" r="0.9"/>
<circle cx="670.4" cy="115.1" r="0.9"/>
<circle cx="670.6" cy="115.7" r="0.9"/>
<circle cx="670.8" cy="115.5" r="0.9"/>
<circle cx="671.0" cy="116.0" r="0.9"/>
<circle cx="671.2" cy="114.3" r="0.9"/>
<circle cx="671.3" cy="114.6" r="0.9"/>
<circle cx="671.5" cy="114.6" r="0.9"/>
<circle cx="671.7" cy="115.9" r="0.9"/>
<circle cx="671.9" cy="116.1" r="0.9"/>
<circle cx="672.1" cy="115.0" r="0.9"/>
<circle cx="672.3" cy="114.5" r="0.9"/>
<circle cx="672.5" cy="116.4" r="0.9"/>
<circle cx="672.7" cy="115.8" r="0.9"/>
<circle cx="672.9" cy="115.0" r="0.9"/>
<circle cx="673.1" cy="115.2" r="0.9"/>
<circle cx="673.3" cy="116.0" r="0.9"/>
<circle cx="673.5" cy="114.3" r="0.9"/>
<circle cx="673.6" cy="116.2" r="0.9"/>
<circle cx="673.8" cy="114.1" r="0.9"/>
<circle cx="674.0" cy="116.8" r="0.9"/>
<circle cx="674.2" cy="115.8" r="0.9"/>
<circle cx="674.4" cy="116.7" r="0.9"/>
<circle cx="674.6" cy="114.6" r="0.9"/>
<circle cx="674.8" cy="115.7" r="0.9"/>
<circle cx="675.0" cy="114.0" r="0.9"/>
<circle cx="675.2" cy="112.8" r="0.9"/>
<circle cx="675.4" cy="113.9" r="0.9"/>
<circle cx="675.6" cy="116.0" r="0.9"/>
<circle cx="675.8" cy="117.2" r="0.9"/>
<circle cx="675.9" cy="114.9" r="0.9"/>
<circle cx="676.1" cy="113.5" r="0.9"/>
<circle cx="676.3" cy="114.2" r="0.9"/>
<circle cx="676.5" cy="116.9" r="0.9"/>
<circle cx="676.7" cy="115.3" r="0.9"/>
<circle cx="676.9" cy="112.6" r="0.9"/>
<circle cx="677.1" cy="114.2" r="0.9"/>
<circle cx="677.3" cy="114.3" r="0.9"/>
<circle cx="677.5" cy="114.1" r="0.9"/>
<circle cx="677.7" cy="114.6" r="0.9"/>
<circle cx="677.9" cy="116.5" r="0.9"/>
<circle cx="678.1" cy="115.5" r="0.9"/>
<circle cx="678.2" cy="113.6" r="0.9"/>
<circle cx="678.4" cy="116.2" r="0.9"/>
<circle cx="678.6" cy="116.2" r="0.9"/>
<circle cx="678.8" cy="114.7" r="0.9"/>
<circle cx="679.0" cy="114.5" r="0.9"/>
<circle cx="679.2" cy="115.7" r="0.9"/>
</g>
<rect x="569.40" y="26.80" width="114.00" height="96.60" fill="none" stroke="#161616" stroke-width="1.0"/>
<path d="M571.60,123.40v-2.2 M571.60,26.80v2.2 M614.20,123.40v-2.2 M614.20,26.80v2.2 M656.80,123.40v-2.2 M656.80,26.80v2.2 M569.40,91.20h2.2 M683.40,91.20h-2.2 M569.40,59.00h2.2 M683.40,59.00h-2.2 " stroke="#161616" stroke-width="0.8" fill="none"/>
<text transform="translate(567.00 126.50) scale(0.9 1)" font-size="10.0" text-anchor="end" fill="#000">0</text>
<text transform="translate(567.00 94.30) scale(0.9 1)" font-size="10.0" text-anchor="end" fill="#000">0.1</text>
<text transform="translate(567.00 62.10) scale(0.9 1)" font-size="10.0" text-anchor="end" fill="#000">0.2</text>
<text transform="translate(567.00 29.90) scale(0.9 1)" font-size="10.0" text-anchor="end" fill="#000">0.3</text>
<text transform="translate(571.60 134.60) scale(0.9 1)" font-size="10.0" text-anchor="middle" fill="#000">0</text>
<text transform="translate(613.70 134.60) scale(0.9 1)" font-size="10.0" text-anchor="middle" fill="#000">2·10<tspan font-size="6.5" dy="-3.4">3</tspan></text>
<text transform="translate(656.30 134.60) scale(0.9 1)" font-size="10.0" text-anchor="middle" fill="#000">4·10<tspan font-size="6.5" dy="-3.4">3</tspan></text>
<text transform="translate(630.20 145.40) scale(0.9 1)" font-size="10.0" text-anchor="middle" fill="#000">Epochs</text>
<text transform="translate(553.20 75.20) rotate(-90) scale(0.9 1)" font-size="10.0" text-anchor="middle" fill="#000">Mean absolute error</text>
<polyline points="582.80,10.60 598.40,10.60" fill="none" stroke="#FF00FF" stroke-width="0.6"/>
<circle cx="590.6" cy="10.6" r="1" fill="none" stroke="#FF00FF" stroke-width="0.5"/>
<polyline points="582.80,20.90 598.40,20.90" fill="none" stroke="#3BB8F0" stroke-width="0.6"/>
<circle cx="590.6" cy="20.9" r="1" fill="none" stroke="#3BB8F0" stroke-width="0.5"/>
<text transform="translate(603.40 14.00) scale(0.865 1)" font-size="10.0" text-anchor="start" fill="#000">Training Error</text>
<text transform="translate(603.40 24.20) scale(0.88 1)" font-size="10.0" text-anchor="start" fill="#000">Validation Error</text>
<text x="260.60" y="158.60" font-size="13.4" text-anchor="start" font-weight="bold" fill="#000">(c)</text>
<polygon points="292,169.8 293.9,172 292,174.2 290.1,172" fill="#0808FF"/>
<text transform="translate(304.00 174.80) scale(0.9 1)" font-size="10.0" text-anchor="start" fill="#0808FF">UA</text>
<polyline points="323.30,171.80 336.70,171.80" fill="none" stroke="#FF0808" stroke-width="1.3"/>
<text transform="translate(343.00 174.80) scale(0.9 1)" font-size="10.0" text-anchor="start" fill="#FF0808">CG</text>
<polyline points="361.00,171.80 375.00,171.80" fill="none" stroke="#FF0808" stroke-width="1.2" stroke-dasharray="2.4,1.3"/>
<text transform="translate(378.60 174.80) scale(0.9 1)" font-size="10.0" text-anchor="start" fill="#FF0808">Potential</text>
<clipPath id="cc"><rect x="293.3" y="179.8" width="112.5" height="99.19999999999999"/></clipPath>
<g clip-path="url(#cc)">
<polyline points="293.30,249.70 293.56,249.70 293.82,249.70 294.08,249.70 294.34,249.70 294.60,249.70 294.86,249.70 295.13,249.70 295.39,249.70 295.65,249.70 295.91,249.70 296.17,249.70 296.43,249.70 296.69,249.70 296.95,249.70 297.21,249.70 297.47,249.70 297.73,249.70 297.99,249.70 298.26,249.70 298.52,249.70 298.78,249.70 299.04,249.70 299.30,249.70 299.56,249.70 299.82,249.70 300.08,249.70 300.34,249.70 300.60,249.70 300.86,249.70 301.12,249.70 301.39,249.70 301.65,249.70 301.91,249.70 302.17,249.70 302.43,249.70 302.69,249.70 302.95,249.70 303.21,249.70 303.47,249.70 303.73,249.70 303.99,249.70 304.25,249.70 304.51,249.70 304.78,249.70 305.04,249.70 305.30,249.70 305.56,249.70 305.82,249.70 306.08,249.70 306.34,249.70 306.60,249.70 306.86,249.70 307.12,249.70 307.38,249.70 307.64,249.70 307.91,249.70 308.17,249.70 308.43,249.70 308.69,249.70 308.95,249.70 309.21,249.70 309.47,249.70 309.73,249.70 309.99,249.70 310.25,249.70 310.51,249.70 310.77,249.70 311.03,249.70 311.30,249.69 311.56,249.66 311.82,249.60 312.08,249.51 312.34,249.37 312.60,249.18 312.86,248.93 313.12,248.61 313.38,248.21 313.64,247.74 313.90,247.19 314.16,246.55 314.43,245.83 314.69,245.02 314.95,244.11 315.21,243.12 315.47,242.04 315.73,240.87 315.99,239.62 316.25,238.29 316.51,236.89 316.77,235.41 317.03,233.87 317.29,232.27 317.56,230.62 317.82,228.93 318.08,227.20 318.34,225.45 318.60,223.69 318.86,221.91 319.12,220.15 319.38,218.40 319.64,216.67 319.90,214.99 320.16,213.36 320.42,211.79 320.68,210.29 320.95,208.89 321.21,207.58 321.47,206.39 321.73,205.32 321.99,204.39 322.25,203.60 322.51,202.97 322.77,202.52 323.03,202.24 323.29,202.19 323.55,203.14 323.81,204.03 324.08,204.88 324.34,205.69 324.60,206.46 324.86,207.19 325.12,207.89 325.38,208.56 325.64,209.20 325.90,209.82 326.16,210.42 326.42,210.99 326.68,211.55 326.94,212.08 327.21,212.60 327.47,213.10 327.73,213.58 327.99,214.05 328.25,214.50 328.51,214.93 328.77,215.35 329.03,215.75 329.29,216.14 329.55,216.51 329.81,216.87 330.07,217.21 330.33,217.53 330.60,217.84 330.86,218.13 331.12,218.41 331.38,218.67 331.64,218.91 331.90,219.14 332.16,219.35 332.42,219.55 332.68,219.73 332.94,219.89 333.20,220.04 333.46,220.17 333.73,220.28 333.99,220.38 334.25,220.46 334.51,220.53 334.77,220.58 335.03,220.61 335.29,220.64 335.55,220.65 335.81,220.64 336.07,220.62 336.33,220.59 336.59,220.55 336.85,220.50 337.12,220.44 337.38,220.36 337.64,220.28 337.90,220.19 338.16,220.09 338.42,219.98 338.68,219.86 338.94,219.74 339.20,219.62 339.46,219.49 339.72,219.35 339.98,219.21 340.25,219.07 340.51,218.93 340.77,218.79 341.03,218.64 341.29,218.50 341.55,218.36 341.81,218.22 342.07,218.08 342.33,217.94 342.59,217.81 342.85,217.68 343.11,217.55 343.38,217.43 343.64,217.32 343.90,217.21 344.16,217.10 344.42,217.00 344.68,216.91 344.94,216.83 345.20,216.75 345.46,216.68 345.72,216.61 345.98,216.56 346.24,216.51 346.50,216.46 346.77,216.43 347.03,216.40 347.29,216.38 347.55,216.37 347.81,216.37 348.07,216.37 348.33,216.38 348.59,216.39 348.85,216.41 349.11,216.44 349.37,216.48 349.63,216.52 349.90,216.56 350.16,216.61 350.42,216.67 350.68,216.73 350.94,216.79 351.20,216.86 351.46,216.93 351.72,217.00 351.98,217.08 352.24,217.16 352.50,217.24 352.76,217.32 353.03,217.40 353.29,217.48 353.55,217.57 353.81,217.65 354.07,217.73 354.33,217.82 354.59,217.90 354.85,217.98 355.11,218.06 355.37,218.13 355.63,218.21 355.89,218.28 356.15,218.35 356.42,218.41 356.68,218.47 356.94,218.53 357.20,218.59 357.46,218.64 357.72,218.68 357.98,218.73 358.24,218.77 358.50,218.80 358.76,218.83 359.02,218.86 359.28,218.88 359.55,218.90 359.81,218.91 360.07,218.92 360.33,218.93 360.59,218.93 360.85,218.93 361.11,218.92 361.37,218.91 361.63,218.90 361.89,218.88 362.15,218.86 362.41,218.83 362.68,218.81 362.94,218.78 363.20,218.74 363.46,218.71 363.72,218.67 363.98,218.63 364.24,218.59 364.50,218.55 364.76,218.50 365.02,218.46 365.28,218.41 365.54,218.37 365.80,218.32 366.07,218.27 366.33,218.22 366.59,218.18 366.85,218.13 367.11,218.08 367.37,218.04 367.63,217.99 367.89,217.95 368.15,217.90 368.41,217.86 368.67,217.82 368.93,217.79 369.20,217.75 369.46,217.71 369.72,217.68 369.98,217.65 370.24,217.62 370.50,217.60 370.76,217.57 371.02,217.55 371.28,217.53 371.54,217.52 371.80,217.50 372.06,217.49 372.32,217.48 372.59,217.48 372.85,217.47 373.11,217.47 373.37,217.47 373.63,217.47 373.89,217.48 374.15,217.49 374.41,217.49 374.67,217.51 374.93,217.52 375.19,217.53 375.45,217.55 375.72,217.57 375.98,217.59 376.24,217.61 376.50,217.63 376.76,217.65 377.02,217.68 377.28,217.70 377.54,217.73 377.80,217.75 378.06,217.78 378.32,217.80 378.58,217.83 378.85,217.86 379.11,217.89 379.37,217.91 379.63,217.94 379.89,217.97 380.15,217.99 380.41,218.02 380.67,218.04 380.93,218.07 381.19,218.09 381.45,218.11 381.71,218.13 381.97,218.15 382.24,218.17 382.50,218.19 382.76,218.21 383.02,218.22 383.28,218.24 383.54,218.25 383.80,218.26 384.06,218.27 384.32,218.28 384.58,218.29 384.84,218.29 385.10,218.30 385.37,218.30 385.63,218.30 385.89,218.30 386.15,218.30 386.41,218.30 386.67,218.30 386.93,218.29 387.19,218.29 387.45,218.28 387.71,218.27 387.97,218.26 388.23,218.25 388.50,218.24 388.76,218.23 389.02,218.22 389.28,218.21 389.54,218.19 389.80,218.18 390.06,218.16 390.32,218.15 390.58,218.13 390.84,218.12 391.10,218.10 391.36,218.09 391.62,218.07 391.89,218.06 392.15,218.04 392.41,218.03 392.67,218.01 392.93,218.00 393.19,217.98 393.45,217.97 393.71,217.96 393.97,217.94 394.23,217.93 394.49,217.92 394.75,217.91 395.02,217.90 395.28,217.89 395.54,217.88 395.80,217.87 396.06,217.86 396.32,217.86 396.58,217.85 396.84,217.84 397.10,217.84 397.36,217.84" fill="none" stroke="#0808FF" stroke-width="3.7" stroke-linecap="round" stroke-linejoin="round"/>
<polyline points="293.30,249.70 293.56,249.70 293.82,249.70 294.08,249.70 294.34,249.70 294.60,249.70 294.86,249.70 295.13,249.70 295.39,249.70 295.65,249.70 295.91,249.70 296.17,249.70 296.43,249.70 296.69,249.70 296.95,249.70 297.21,249.70 297.47,249.70 297.73,249.70 297.99,249.70 298.26,249.70 298.52,249.70 298.78,249.70 299.04,249.70 299.30,249.70 299.56,249.70 299.82,249.70 300.08,249.70 300.34,249.70 300.60,249.70 300.86,249.70 301.12,249.70 301.39,249.70 301.65,249.70 301.91,249.70 302.17,249.70 302.43,249.70 302.69,249.70 302.95,249.70 303.21,249.70 303.47,249.70 303.73,249.70 303.99,249.70 304.25,249.70 304.51,249.70 304.78,249.70 305.04,249.70 305.30,249.70 305.56,249.70 305.82,249.70 306.08,249.70 306.34,249.70 306.60,249.70 306.86,249.70 307.12,249.70 307.38,249.70 307.64,249.70 307.91,249.70 308.17,249.70 308.43,249.70 308.69,249.70 308.95,249.70 309.21,249.70 309.47,249.70 309.73,249.70 309.99,249.70 310.25,249.70 310.51,249.70 310.77,249.70 311.03,249.70 311.30,249.70 311.56,249.70 311.82,249.70 312.08,249.70 312.34,249.70 312.60,249.70 312.86,249.70 313.12,249.70 313.38,249.70 313.64,249.70 313.90,249.70 314.16,249.70 314.43,249.70 314.69,249.70 314.95,249.70 315.21,249.70 315.47,249.70 315.73,249.70 315.99,249.70 316.25,249.70 316.51,249.70 316.77,249.70 317.03,249.70 317.29,249.70 317.56,249.70 317.82,249.70 318.08,249.70 318.34,249.70 318.60,249.70 318.86,249.70 319.12,249.70 319.38,249.70 319.64,249.70 319.90,249.67 320.16,248.81 320.42,246.84 320.68,243.93 320.95,240.22 321.21,235.88 321.47,231.07 321.73,225.95 321.99,220.67 322.25,215.38 322.51,210.26 322.77,205.45 323.03,201.12 323.29,197.43 323.55,194.52 323.81,192.56 324.08,191.71 324.34,192.76 324.60,194.03 324.86,195.27 325.12,196.46 325.38,197.62 325.64,198.76 325.90,199.87 326.16,200.96 326.42,202.04 326.68,203.10 326.94,204.14 327.21,205.17 327.47,206.19 327.73,207.20 327.99,208.19 328.25,209.17 328.51,210.13 328.77,211.08 329.03,212.01 329.29,212.92 329.55,213.81 329.81,214.68 330.07,215.53 330.33,216.35 330.60,217.14 330.86,217.91 331.12,218.65 331.38,219.36 331.64,220.04 331.90,220.68 332.16,221.29 332.42,221.87 332.68,222.41 332.94,222.91 333.20,223.37 333.46,223.80 333.73,224.19 333.99,224.54 334.25,224.85 334.51,225.12 334.77,225.36 335.03,225.55 335.29,225.71 335.55,225.83 335.81,225.91 336.07,225.96 336.33,225.97 336.59,225.94 336.85,225.89 337.12,225.80 337.38,225.68 337.64,225.53 337.90,225.36 338.16,225.15 338.42,224.93 338.68,224.68 338.94,224.40 339.20,224.11 339.46,223.80 339.72,223.48 339.98,223.14 340.25,222.78 340.51,222.42 340.77,222.05 341.03,221.67 341.29,221.28 341.55,220.90 341.81,220.50 342.07,220.11 342.33,219.72 342.59,219.34 342.85,218.96 343.11,218.58 343.38,218.21 343.64,217.85 343.90,217.50 344.16,217.16 344.42,216.84 344.68,216.52 344.94,216.22 345.20,215.94 345.46,215.67 345.72,215.42 345.98,215.19 346.24,214.97 346.50,214.77 346.77,214.59 347.03,214.43 347.29,214.29 347.55,214.17 347.81,214.06 348.07,213.98 348.33,213.91 348.59,213.86 348.85,213.83 349.11,213.82 349.37,213.83 349.63,213.85 349.90,213.89 350.16,213.95 350.42,214.02 350.68,214.10 350.94,214.20 351.20,214.32 351.46,214.44 351.72,214.58 351.98,214.72 352.24,214.88 352.50,215.04 352.76,215.22 353.03,215.40 353.29,215.58 353.55,215.78 353.81,215.97 354.07,216.17 354.33,216.37 354.59,216.57 354.85,216.78 355.11,216.98 355.37,217.18 355.63,217.38 355.89,217.58 356.15,217.77 356.42,217.96 356.68,218.15 356.94,218.33 357.20,218.50 357.46,218.67 357.72,218.83 357.98,218.98 358.24,219.12 358.50,219.26 358.76,219.38 359.02,219.50 359.28,219.61 359.55,219.71 359.81,219.80 360.07,219.88 360.33,219.95 360.59,220.01 360.85,220.06 361.11,220.10 361.37,220.13 361.63,220.15 361.89,220.16 362.15,220.17 362.41,220.16 362.68,220.14 362.94,220.12 363.20,220.09 363.46,220.05 363.72,220.00 363.98,219.95 364.24,219.88 364.50,219.82 364.76,219.75 365.02,219.67 365.28,219.58 365.54,219.50 365.80,219.41 366.07,219.31 366.33,219.21 366.59,219.11 366.85,219.01 367.11,218.91 367.37,218.80 367.63,218.70 367.89,218.59 368.15,218.49 368.41,218.38 368.67,218.28 368.93,218.18 369.20,218.08 369.46,217.98 369.72,217.89 369.98,217.80 370.24,217.71 370.50,217.62 370.76,217.54 371.02,217.46 371.28,217.39 371.54,217.32 371.80,217.26 372.06,217.20 372.32,217.14 372.59,217.09 372.85,217.05 373.11,217.01 373.37,216.98 373.63,216.95 373.89,216.92 374.15,216.90 374.41,216.89 374.67,216.88 374.93,216.88 375.19,216.88 375.45,216.88 375.72,216.89 375.98,216.91 376.24,216.93 376.50,216.95 376.76,216.97 377.02,217.00 377.28,217.04 377.54,217.07 377.80,217.11 378.06,217.15 378.32,217.20 378.58,217.24 378.85,217.29 379.11,217.34 379.37,217.39 379.63,217.44 379.89,217.50 380.15,217.55 380.41,217.61 380.67,217.66 380.93,217.71 381.19,217.77 381.45,217.82 381.71,217.88 381.97,217.93 382.24,217.98 382.50,218.03 382.76,218.08 383.02,218.12 383.28,218.17 383.54,218.21 383.80,218.25 384.06,218.29 384.32,218.33 384.58,218.37 384.84,218.40 385.10,218.43 385.37,218.45 385.63,218.48 385.89,218.50 386.15,218.52 386.41,218.54 386.67,218.55 386.93,218.56 387.19,218.57 387.45,218.58 387.71,218.58 387.97,218.58 388.23,218.58 388.50,218.58 388.76,218.57 389.02,218.56 389.28,218.55 389.54,218.54 389.80,218.53 390.06,218.51 390.32,218.49 390.58,218.47 390.84,218.45 391.10,218.43 391.36,218.41 391.62,218.38 391.89,218.36 392.15,218.33 392.41,218.30 392.67,218.28 392.93,218.25 393.19,218.22 393.45,218.19 393.71,218.17 393.97,218.14 394.23,218.11 394.49,218.08 394.75,218.05 395.02,218.03 395.28,218.00 395.54,217.97 395.80,217.95 396.06,217.93 396.32,217.90 396.58,217.88 396.84,217.86 397.10,217.84 397.36,217.82" fill="none" stroke="#FF0808" stroke-width="1.3"/>
<polyline points="318.57,-102.97 318.79,19.43 319.01,105.11 319.23,164.03 319.44,203.78 319.66,230.02 319.88,246.94 320.09,257.56 320.31,264.02 320.53,267.82 320.75,269.97 320.96,271.13 321.18,271.72 321.40,272.01 321.61,272.13 321.83,272.18 322.05,272.20 322.27,272.21 322.48,272.21 322.70,272.21 322.92,272.21 323.13,272.21 323.35,272.21 323.57,272.18 323.79,272.06 324.00,271.86 324.22,271.59 324.44,271.26 324.65,270.89 324.87,270.48 325.09,270.04 325.31,269.57 325.52,269.09 325.74,268.60 325.96,268.10 326.17,267.60 326.39,267.09 326.61,266.58 326.82,266.08 327.04,265.58 327.26,265.09 327.48,264.61 327.69,264.14 327.91,263.67 328.13,263.22 328.34,262.77 328.56,262.34 328.78,261.92 329.00,261.51 329.21,261.11 329.43,260.73 329.65,260.35 329.86,259.99 330.08,259.64 330.30,259.30 330.52,258.97 330.73,258.65 330.95,258.34 331.17,258.05 331.38,257.76 331.60,257.48 331.82,257.22 332.04,256.96 332.25,256.71 332.47,256.47 332.69,256.24 332.90,256.02 333.12,255.80 333.34,255.59 333.56,255.39 333.77,255.20 333.99,255.01 334.21,254.83 334.42,254.66 334.64,254.50 334.86,254.34 335.07,254.18 335.29,254.03 335.51,253.89 335.73,253.75 335.94,253.62 336.16,253.49 336.38,253.36 336.59,253.24 336.81,253.13 337.03,253.02 337.25,252.91 337.46,252.81 337.68,252.71 337.90,252.61 338.11,252.52 338.33,252.43 338.55,252.34 338.77,252.26 338.98,252.18 339.20,252.10 339.42,252.03 339.63,251.95 339.85,251.88 340.07,251.82 340.29,251.75 340.50,251.69 340.72,251.63 340.94,251.57 341.15,251.51 341.37,251.46 341.59,251.40 341.81,251.35 342.02,251.30 342.24,251.26 342.46,251.21 342.67,251.17 342.89,251.12 343.11,251.08 343.32,251.04 343.54,251.00 343.76,250.96 343.98,250.93 344.19,250.89 344.41,250.86 344.63,250.83 344.84,250.79 345.06,250.76 345.28,250.73 345.50,250.70 345.71,250.68 345.93,250.65 346.15,250.62 346.36,250.60 346.58,250.57 346.80,250.55 347.02,250.52 347.23,250.50 347.45,250.48 347.67,250.46 347.88,250.44 348.10,250.42 348.32,250.40 348.54,250.38 348.75,250.36 348.97,250.34 349.19,250.33 349.40,250.31 349.62,250.30 349.84,250.28 350.06,250.26 350.27,250.25 350.49,250.24 350.71,250.22 350.92,250.21 351.14,250.20 351.36,250.18 351.57,250.17 351.79,250.16 352.01,250.15 352.23,250.14 352.44,250.13 352.66,250.11 352.88,250.10 353.09,250.09 353.31,250.08 353.53,250.07 353.75,250.07 353.96,250.06 354.18,250.05 354.40,250.04 354.61,250.03 354.83,250.02 355.05,250.02 355.27,250.01 355.48,250.00 355.70,249.99 355.92,249.99 356.13,249.98 356.35,249.97 356.57,249.97 356.79,249.96 357.00,249.95 357.22,249.95 357.44,249.94 357.65,249.94 357.87,249.93 358.09,249.93 358.31,249.92 358.52,249.92 358.74,249.91 358.96,249.91 359.17,249.90 359.39,249.90 359.61,249.89 359.82,249.89 360.04,249.88 360.26,249.88 360.48,249.88 360.69,249.87 360.91,249.87 361.13,249.86 361.34,249.86 361.56,249.86 361.78,249.85 362.00,249.85 362.21,249.85 362.43,249.84 362.65,249.84 362.86,249.84 363.08,249.84 363.30,249.83 363.52,249.83 363.73,249.83 363.95,249.82 364.17,249.82 364.38,249.82 364.60,249.82 364.82,249.81 365.04,249.81 365.25,249.81 365.47,249.81 365.69,249.81 365.90,249.80 366.12,249.80 366.34,249.80 366.56,249.80 366.77,249.79 366.99,249.79 367.21,249.79 367.42,249.79 367.64,249.79 367.86,249.79 368.07,249.78 368.29,249.78 368.51,249.78 368.73,249.78 368.94,249.78 369.16,249.78 369.38,249.77 369.59,249.77 369.81,249.77 370.03,249.77 370.25,249.77 370.46,249.77 370.68,249.77 370.90,249.76 371.11,249.76 371.33,249.76 371.55,249.76 371.77,249.76 371.98,249.76 372.20,249.76 372.42,249.76 372.63,249.76 372.85,249.75 373.07,249.75 373.29,249.75 373.50,249.75 373.72,249.75 373.94,249.75 374.15,249.75 374.37,249.75 374.59,249.75 374.81,249.75 375.02,249.75 375.24,249.74 375.46,249.74 375.67,249.74 375.89,249.74 376.11,249.74 376.32,249.74 376.54,249.74 376.76,249.74 376.98,249.74 377.19,249.74 377.41,249.74 377.63,249.74 377.84,249.74 378.06,249.74 378.28,249.73 378.50,249.73 378.71,249.73 378.93,249.73 379.15,249.73 379.36,249.73 379.58,249.73 379.80,249.73 380.02,249.73 380.23,249.73 380.45,249.73 380.67,249.73 380.88,249.73 381.10,249.73 381.32,249.73 381.54,249.73 381.75,249.73 381.97,249.73 382.19,249.73 382.40,249.72 382.62,249.72 382.84,249.72 383.06,249.72 383.27,249.72 383.49,249.72 383.71,249.72 383.92,249.72 384.14,249.72 384.36,249.72 384.57,249.72 384.79,249.72 385.01,249.72 385.23,249.72 385.44,249.72 385.66,249.72 385.88,249.72 386.09,249.72 386.31,249.72 386.53,249.72 386.75,249.72 386.96,249.72 387.18,249.72 387.40,249.72 387.61,249.72 387.83,249.72 388.05,249.72 388.27,249.72 388.48,249.72 388.70,249.72 388.92,249.72 389.13,249.71 389.35,249.71 389.57,249.71 389.79,249.71 390.00,249.71 390.22,249.71 390.44,249.71 390.65,249.71 390.87,249.71 391.09,249.71 391.31,249.71 391.52,249.71 391.74,249.71 391.96,249.71 392.17,249.71 392.39,249.71 392.61,249.71 392.82,249.71 393.04,249.71 393.26,249.71 393.48,249.71 393.69,249.71 393.91,249.71 394.13,249.71 394.34,249.71 394.56,249.71 394.78,249.71 395.00,249.71 395.21,249.71 395.43,249.71 395.65,249.71 395.86,249.71 396.08,249.71 396.30,249.71 396.52,249.71 396.73,249.71 396.95,249.71 397.17,249.71 397.38,249.71 397.60,249.71 397.82,249.71 398.04,249.71 398.25,249.71 398.47,249.71 398.69,249.71 398.90,249.71 399.12,249.71 399.34,249.71 399.56,249.71 399.77,249.71 399.99,249.71 400.21,249.71 400.42,249.71 400.64,249.71 400.86,249.71 401.07,249.71 401.29,249.71 401.51,249.71 401.73,249.71 401.94,249.71 402.16,249.71 402.38,249.71 402.59,249.71 402.81,249.71 403.03,249.71 403.25,249.71 403.46,249.71 403.68,249.71 403.90,249.71 404.11,249.71 404.33,249.71 404.55,249.71 404.77,249.71 404.98,249.71 405.20,249.71" fill="none" stroke="#FF0808" stroke-width="1.15" stroke-dasharray="2.4,1.4"/>
</g>
<rect x="293.30" y="179.80" width="112.50" height="99.20" fill="none" stroke="#161616" stroke-width="1.0"/>
<path d="M321.43,279.00v-2.2 M321.43,179.80v2.2 M349.55,279.00v-2.2 M349.55,179.80v2.2 M377.68,279.00v-2.2 M377.68,179.80v2.2 M293.30,249.70h2.2 M405.80,249.70h-2.2 M293.30,218.00h2.2 M405.80,218.00h-2.2 M293.30,186.30h2.2 M405.80,186.30h-2.2 " stroke="#161616" stroke-width="0.8" fill="none"/>
<text transform="translate(291.40 252.80) scale(0.9 1)" font-size="10.0" text-anchor="end" fill="#000">0</text>
<text transform="translate(291.40 221.10) scale(0.9 1)" font-size="10.0" text-anchor="end" fill="#000">1</text>
<text transform="translate(291.40 189.40) scale(0.9 1)" font-size="10.0" text-anchor="end" fill="#000">2</text>
<text transform="translate(294.30 289.60) scale(0.9 1)" font-size="10.0" text-anchor="middle" fill="#000">0</text>
<text transform="translate(321.62 289.60) scale(0.9 1)" font-size="10.0" text-anchor="middle" fill="#000">5</text>
<text transform="translate(349.75 289.60) scale(0.9 1)" font-size="10.0" text-anchor="middle" fill="#000">10</text>
<text transform="translate(377.88 289.60) scale(0.9 1)" font-size="10.0" text-anchor="middle" fill="#000">15</text>
<text transform="translate(404.00 289.60) scale(0.9 1)" font-size="10.0" text-anchor="middle" fill="#000">20</text>
<text transform="translate(350.80 300.60) scale(0.9 1)" font-size="10.0" text-anchor="middle" fill="#000">r (Å)</text>
<text transform="translate(285.40 227.40) rotate(-90) scale(0.9 1)" font-size="10.0" text-anchor="middle" fill="#000">g(r)</text>
<text x="422.00" y="158.60" font-size="13.4" text-anchor="start" font-weight="bold" fill="#000">(d)</text>
<polygon points="439.6,170.2 441.2,172 439.6,173.8 438.0,172" fill="none" stroke="#0808FF" stroke-width="1.0"/>
<text transform="translate(452.00 174.80) scale(0.9 1)" font-size="10.0" text-anchor="start" fill="#0808FF">UA</text>
<circle cx="472.9" cy="172.2" r="1.7" fill="none" stroke="#FF0808" stroke-width="1.0"/>
<text transform="translate(485.00 174.80) scale(0.9 1)" font-size="10.0" text-anchor="start" fill="#FF0808">CG</text>
<polyline points="501.00,171.80 514.30,171.80" fill="none" stroke="#2EE02E" stroke-width="1.3" stroke-dasharray="2.2,1.2"/>
<text transform="translate(518.60 174.80) scale(0.9 1)" font-size="10.0" text-anchor="start" fill="#2EE02E">Experiment</text>
<polyline points="457.00,259.00 470.77,251.00 484.54,243.30 498.31,235.80 512.08,227.60 525.85,219.30 539.62,211.00 553.39,203.00" fill="none" stroke="#2EE02E" stroke-width="1.3" stroke-dasharray="2.4,1.4"/>
<polyline points="457.00,260.40 457.00,267.60" fill="none" stroke="#0808FF" stroke-width="0.9"/>
<polygon points="457.0,261.8 458.8,264.0 457.0,266.2 455.2,264.0" fill="#0808FF" stroke="#0808FF" stroke-width="0.5"/>
<polyline points="470.77,252.70 470.77,259.90" fill="none" stroke="#0808FF" stroke-width="0.9"/>
<polygon points="470.77,254.10000000000002 472.57,256.3 470.77,258.5 468.96999999999997,256.3" fill="#0808FF" stroke="#0808FF" stroke-width="0.5"/>
<polyline points="484.54,244.60 484.54,251.80" fill="none" stroke="#0808FF" stroke-width="0.9"/>
<polygon points="484.54,246.0 486.34000000000003,248.2 484.54,250.39999999999998 482.74,248.2" fill="#0808FF" stroke="#0808FF" stroke-width="0.5"/>
<polyline points="498.31,236.60 498.31,243.80" fill="none" stroke="#0808FF" stroke-width="0.9"/>
<polygon points="498.31,238.0 500.11,240.2 498.31,242.39999999999998 496.51,240.2" fill="#0808FF" stroke="#0808FF" stroke-width="0.5"/>
<polyline points="512.08,228.40 512.08,235.60" fill="none" stroke="#0808FF" stroke-width="0.9"/>
<polygon points="512.08,229.8 513.88,232.0 512.08,234.2 510.28000000000003,232.0" fill="#0808FF" stroke="#0808FF" stroke-width="0.5"/>
<polyline points="525.85,220.20 525.85,227.40" fill="none" stroke="#0808FF" stroke-width="0.9"/>
<polygon points="525.85,221.60000000000002 527.65,223.8 525.85,226.0 524.0500000000001,223.8" fill="#0808FF" stroke="#0808FF" stroke-width="0.5"/>
<polyline points="539.62,211.60 539.62,218.80" fill="none" stroke="#0808FF" stroke-width="0.9"/>
<polygon points="539.62,213.0 541.42,215.2 539.62,217.39999999999998 537.82,215.2" fill="#0808FF" stroke="#0808FF" stroke-width="0.5"/>
<polyline points="553.39,203.80 553.39,211.00" fill="none" stroke="#0808FF" stroke-width="0.9"/>
<polygon points="553.39,205.20000000000002 555.1899999999999,207.4 553.39,209.6 551.59,207.4" fill="#0808FF" stroke="#0808FF" stroke-width="0.5"/>
<polyline points="457.00,250.40 457.00,266.80" fill="none" stroke="#FF0808" stroke-width="1.0"/>
<polyline points="455.30,250.40 458.70,250.40" fill="none" stroke="#FF0808" stroke-width="1.0"/>
<polyline points="455.30,266.80 458.70,266.80" fill="none" stroke="#FF0808" stroke-width="1.0"/>
<circle cx="457.0" cy="259.0" r="1.9" fill="#fff" stroke="#FF0808" stroke-width="1.0"/>
<polyline points="470.77,242.40 470.77,258.80" fill="none" stroke="#FF0808" stroke-width="1.0"/>
<polyline points="469.07,242.40 472.47,242.40" fill="none" stroke="#FF0808" stroke-width="1.0"/>
<polyline points="469.07,258.80 472.47,258.80" fill="none" stroke="#FF0808" stroke-width="1.0"/>
<circle cx="470.77" cy="251.0" r="1.9" fill="#fff" stroke="#FF0808" stroke-width="1.0"/>
<polyline points="484.54,234.70 484.54,251.10" fill="none" stroke="#FF0808" stroke-width="1.0"/>
<polyline points="482.84,234.70 486.24,234.70" fill="none" stroke="#FF0808" stroke-width="1.0"/>
<polyline points="482.84,251.10 486.24,251.10" fill="none" stroke="#FF0808" stroke-width="1.0"/>
<circle cx="484.54" cy="243.3" r="1.9" fill="#fff" stroke="#FF0808" stroke-width="1.0"/>
<polyline points="498.31,227.20 498.31,243.60" fill="none" stroke="#FF0808" stroke-width="1.0"/>
<polyline points="496.61,227.20 500.01,227.20" fill="none" stroke="#FF0808" stroke-width="1.0"/>
<polyline points="496.61,243.60 500.01,243.60" fill="none" stroke="#FF0808" stroke-width="1.0"/>
<circle cx="498.31" cy="235.8" r="1.9" fill="#fff" stroke="#FF0808" stroke-width="1.0"/>
<polyline points="512.08,219.00 512.08,235.40" fill="none" stroke="#FF0808" stroke-width="1.0"/>
<polyline points="510.38,219.00 513.78,219.00" fill="none" stroke="#FF0808" stroke-width="1.0"/>
<polyline points="510.38,235.40 513.78,235.40" fill="none" stroke="#FF0808" stroke-width="1.0"/>
<circle cx="512.08" cy="227.6" r="1.9" fill="#fff" stroke="#FF0808" stroke-width="1.0"/>
<polyline points="525.85,210.70 525.85,227.10" fill="none" stroke="#FF0808" stroke-width="1.0"/>
<polyline points="524.15,210.70 527.55,210.70" fill="none" stroke="#FF0808" stroke-width="1.0"/>
<polyline points="524.15,227.10 527.55,227.10" fill="none" stroke="#FF0808" stroke-width="1.0"/>
<circle cx="525.85" cy="219.3" r="1.9" fill="#fff" stroke="#FF0808" stroke-width="1.0"/>
<polyline points="539.62,202.40 539.62,218.80" fill="none" stroke="#FF0808" stroke-width="1.0"/>
<polyline points="537.92,202.40 541.32,202.40" fill="none" stroke="#FF0808" stroke-width="1.0"/>
<polyline points="537.92,218.80 541.32,218.80" fill="none" stroke="#FF0808" stroke-width="1.0"/>
<circle cx="539.62" cy="211.0" r="1.9" fill="#fff" stroke="#FF0808" stroke-width="1.0"/>
<polyline points="553.39,194.40 553.39,210.80" fill="none" stroke="#FF0808" stroke-width="1.0"/>
<polyline points="551.69,194.40 555.09,194.40" fill="none" stroke="#FF0808" stroke-width="1.0"/>
<polyline points="551.69,210.80 555.09,210.80" fill="none" stroke="#FF0808" stroke-width="1.0"/>
<circle cx="553.39" cy="203.0" r="1.9" fill="#fff" stroke="#FF0808" stroke-width="1.0"/>
<rect x="446.50" y="179.20" width="112.30" height="99.30" fill="none" stroke="#161616" stroke-width="1.0"/>
<path d="M481.20,278.50v-2.2 M481.20,179.20v2.2 M515.90,278.50v-2.2 M515.90,179.20v2.2 M550.60,278.50v-2.2 M550.60,179.20v2.2 M446.50,251.40h2.2 M558.80,251.40h-2.2 M446.50,225.80h2.2 M558.80,225.80h-2.2 M446.50,200.20h2.2 M558.80,200.20h-2.2 " stroke="#161616" stroke-width="0.8" fill="none"/>
<text transform="translate(444.60 280.90) scale(0.9 1)" font-size="10.0" text-anchor="end" fill="#000">1</text>
<text transform="translate(444.60 255.30) scale(0.9 1)" font-size="10.0" text-anchor="end" fill="#000">1.05</text>
<text transform="translate(444.60 229.70) scale(0.9 1)" font-size="10.0" text-anchor="end" fill="#000">1.1</text>
<text transform="translate(444.60 204.10) scale(0.9 1)" font-size="10.0" text-anchor="end" fill="#000">1.15</text>
<text transform="translate(446.50 289.60) scale(0.9 1)" font-size="10.0" text-anchor="middle" fill="#000">300</text>
<text transform="translate(481.20 289.60) scale(0.9 1)" font-size="10.0" text-anchor="middle" fill="#000">350</text>
<text transform="translate(515.90 289.60) scale(0.9 1)" font-size="10.0" text-anchor="middle" fill="#000">400</text>
<text transform="translate(550.60 289.60) scale(0.9 1)" font-size="10.0" text-anchor="middle" fill="#000">450</text>
<text transform="translate(503.00 300.00) scale(0.9 1)" font-size="10.0" text-anchor="middle" fill="#000">T (K)</text>
<text transform="translate(426.60 230.00) rotate(-90) scale(0.9 1)" font-size="10.0" text-anchor="middle" fill="#000">Specific Volume (cm<tspan font-size="6.5" dy="-3.4">3</tspan><tspan dy="3.4">/g)</tspan></text>
<rect x="546.6" y="197.6" width="11.2" height="11.1" fill="none" stroke="#FF0808" stroke-width="0.8"/>
<polyline points="557.80,197.60 580.00,179.00" fill="none" stroke="#FF4040" stroke-width="0.55"/>
<polyline points="557.80,208.70 580.00,279.80" fill="none" stroke="#FF4040" stroke-width="0.55"/>
<text x="563.00" y="156.60" font-size="13.4" text-anchor="start" font-weight="bold" fill="#000">(e)</text>
<text x="579.3" y="174.3" font-size="10.6" text-anchor="start" fill="#FF2222">Density, ρ = 0.875 g/cm<tspan font-size="7" dy="-3.5">3</tspan></text>
<clipPath id="ce"><rect x="579.8" y="178.8" width="105.70000000000005" height="101.0"/></clipPath>
<g clip-path="url(#ce)">
<rect x="579.8" y="178.8" width="105.70000000000005" height="101.0" fill="#fff"/>
<path d="M666.9,241.7L664.9,235.0L662.6,232.5L658.1,229.0L655.1,224.1L651.3,224.1L647.9,219.4L650.2,216.5L650.5,212.1L652.9,207.1L652.8,204.1L652.1,199.2M664.4,241.7L658.4,242.7L653.8,246.4L648.6,246.7L644.8,247.3L640.1,250.3L638.3,252.8L632.0,255.0L626.8,254.1M620.7,266.5L620.9,272.1L616.8,276.3L616.6,281.6L622.2,285.3L624.9,286.7L629.2,286.0L634.5,285.4L637.3,283.9L641.8,284.2L647.8,284.6L651.8,283.8L655.0,280.4L658.9,275.8M680.5,264.9L683.0,266.6L687.4,270.4L688.0,276.7L686.2,282.0L681.6,286.7L678.8,288.2L678.6,293.0L679.5,299.4L677.3,305.0L678.7,307.7L682.4,312.8L686.4,312.0L689.7,311.0L692.4,307.4M581.2,191.4L577.8,188.7L576.1,184.5L574.7,181.8L576.1,176.6L574.1,170.9L571.5,164.6L567.8,161.8L567.1,155.0L568.4,150.8M662.3,224.0L656.4,227.2L651.2,229.7L647.9,232.7L646.5,237.8L646.9,244.0L644.9,249.3L642.9,251.6L638.7,253.6L637.5,258.0L637.7,261.1L639.0,267.7L640.6,272.8M596.6,284.5L599.9,281.7L601.3,278.0L601.1,274.7L602.2,270.2L603.7,267.5L606.5,261.7L607.2,255.0L609.2,250.2L614.5,247.1L615.5,241.0L616.5,237.6L618.3,235.1M618.9,216.1L620.2,212.7L618.3,206.6L616.3,203.2L615.7,196.5L614.9,190.9L616.2,184.9L615.2,178.8L613.3,175.4L609.0,172.1L607.5,168.0M652.7,203.3L658.2,205.6L662.7,208.0L664.8,203.5L665.3,197.1L664.6,191.2L665.7,186.3L664.9,179.7L664.1,173.2L663.3,169.7L657.4,167.9M576.7,205.3L576.4,211.9L574.8,216.0L574.2,219.4L574.7,225.3L578.5,228.3L583.1,230.4L586.4,233.3L591.9,237.1L596.6,238.1L601.3,240.1M637.7,282.8L634.4,287.3L631.0,291.2L630.3,296.5L629.0,300.7L624.3,303.0L620.8,305.4L617.5,305.7L612.5,307.2M608.6,251.1L614.5,252.4L619.5,253.5L623.4,251.9L623.1,246.9L626.6,241.5L627.3,238.4L628.0,231.5L632.8,227.0L638.9,227.5L643.6,225.7L649.4,223.5M687.4,274.9L687.6,271.9L687.6,268.9L689.1,265.4L690.5,262.3L691.4,259.2L694.5,256.0L697.0,252.5L697.3,246.1L695.3,243.1L690.7,241.4L684.0,240.6L679.7,236.8L678.0,231.9L680.7,228.5L683.7,225.9L687.1,223.9M668.3,189.5L672.0,188.4L676.0,186.3L679.4,185.4L683.2,183.4L688.7,181.0L691.8,185.7L696.2,187.4L702.7,186.4L707.0,186.8L710.7,188.6L711.4,192.0L710.1,195.1L709.7,198.5L708.4,205.1L703.9,209.3L697.9,207.6L693.3,205.2M670.8,181.3L666.5,184.3L662.8,188.8L658.1,191.1L655.4,193.0L650.8,192.2L645.7,192.6L640.1,196.5L635.1,197.7L629.5,199.8L623.5,202.8L620.0,205.4L617.1,207.5L618.3,212.6L621.5,218.7L626.2,223.2L627.5,226.0M620.1,240.9L624.1,245.7L626.6,252.0L627.6,255.3L623.1,259.2L619.4,257.8L615.6,252.8L610.4,251.4L605.2,249.2L602.3,247.6L598.9,250.9L598.5,255.9L602.7,258.3L605.4,261.6L608.7,265.4L611.9,265.9L614.9,263.9L612.7,257.6M673.2,183.3L670.1,186.5L666.9,188.2L664.8,194.0L660.6,195.6L654.9,198.8L649.1,202.0L644.9,202.0L638.0,201.7L633.8,203.7L630.6,204.2L626.3,203.4L623.6,200.1L621.9,195.5L617.1,196.8L612.9,194.0L608.9,190.2M588.2,248.1L590.6,253.6L592.5,259.5L594.2,266.2L596.0,271.0L596.4,277.7L593.8,280.2L590.8,282.0L591.2,286.0L590.1,291.9L592.3,298.4L590.4,302.5L589.8,306.1L585.2,308.5M573.6,237.8L575.2,241.6L578.8,243.5L582.1,247.2L578.0,252.7L574.9,254.8L572.9,259.7L569.3,262.3L564.0,262.0L560.0,260.0L555.9,257.0L553.7,253.7L552.6,247.6M680.2,176.1L683.5,175.7L687.1,175.2L693.7,172.9L699.3,171.4L702.4,169.7L702.6,163.2L705.7,160.7L711.5,158.9L714.6,159.2M604.6,236.8L605.0,231.4L609.1,228.8L613.8,227.3L617.3,224.8L622.9,225.2L624.4,229.6L626.3,233.1L629.4,232.7L634.9,230.6M598.0,174.8L599.8,170.8L603.4,169.4L609.2,169.4L613.7,169.4L617.6,168.5L624.2,167.5L628.2,168.0L634.5,167.4M622.5,232.8L627.0,228.5L627.1,224.6L623.9,222.1L624.1,215.9L621.8,213.3L619.3,206.8L617.6,201.7L614.8,200.4L610.3,196.6L605.5,193.4L601.9,192.5L598.4,189.6L592.4,188.9L589.0,189.7M632.8,247.1L629.2,251.9L625.3,251.0L622.1,253.2L623.3,259.0L627.0,263.1L631.0,266.8L631.3,271.5L631.4,276.0L630.3,279.5L626.8,284.8L626.0,289.8L625.4,294.7L627.9,300.7L632.4,303.3L635.2,306.5L640.4,310.8L644.0,314.2M629.3,253.6L633.3,257.9L635.9,264.4L639.1,270.4L641.8,273.2L645.1,277.6L645.5,282.2L647.7,288.7L647.5,294.9L651.1,299.6M581.1,232.2L578.1,230.4L574.7,224.3L576.1,221.2L579.0,217.4L583.8,212.4L582.2,206.7L581.8,201.3L579.5,198.6L576.5,194.0L573.0,192.1M655.9,264.9L655.5,269.3L652.2,270.7L646.8,274.5L643.7,275.8L639.5,277.0L638.6,273.0L635.6,270.0L631.6,266.6L631.2,261.0L630.3,254.2M659.2,258.6L655.2,263.1L654.8,266.3L655.3,269.4L653.7,274.9L652.2,281.0L654.1,283.6L652.1,289.0L646.3,291.9L640.8,289.0L636.8,288.5L633.8,288.0L631.2,286.1L628.3,285.0L624.1,280.7L619.1,278.6L616.2,274.4L612.9,271.5M617.0,275.7L613.1,275.4L615.5,269.8L618.3,266.3L622.0,265.5L627.8,265.4L630.5,267.9L630.3,272.8L632.2,276.8L632.4,281.1L633.3,286.6L634.2,289.7L640.1,291.3M629.0,283.2L633.8,288.0L633.3,291.4L636.0,294.5L639.1,300.5L642.6,303.8L643.3,310.2L644.7,316.8L642.7,323.1L646.1,326.5L650.9,326.3L654.7,329.2L657.1,331.4L658.1,336.0L662.3,340.2L665.3,345.1M692.8,180.0L691.5,175.9L693.0,172.3L696.2,168.0L700.2,163.6L702.4,161.5L707.4,160.6L711.4,160.3L716.2,155.8L721.9,154.0L728.0,152.1L732.5,147.3L736.1,143.1L738.3,140.9L743.1,140.8M611.2,243.0L610.4,236.7L612.8,230.2L616.1,224.5L617.7,220.0L620.3,215.6L625.2,211.4L627.1,206.4L630.1,201.6L631.6,198.1L638.1,196.4L642.4,197.8L646.7,201.0L649.1,205.4L651.5,210.3L655.7,215.0L661.1,214.8M647.0,191.8L640.6,191.9L636.3,192.0L630.0,194.3L624.9,197.0L618.3,194.6L612.5,194.1L605.8,195.1L604.1,199.6L602.3,205.0L597.2,208.3M604.8,235.6L605.4,228.9L604.2,225.7L607.6,226.1L613.2,224.2L619.2,223.5L621.9,222.3L624.8,219.5L627.8,216.8L625.0,210.7L621.5,209.5L618.3,208.3L615.0,207.5L610.8,204.5L608.9,198.0L609.2,192.1M671.2,175.4L671.0,180.9L672.7,184.8L674.8,188.7L677.4,193.8L681.5,196.7L684.1,198.6L689.4,202.0L693.4,204.0L698.5,206.6L702.4,210.3L703.3,216.3M688.8,238.3L690.3,241.9L694.0,247.2L700.0,249.9L704.2,250.1L708.4,252.4L711.9,257.1L712.8,261.3L714.3,265.6L713.3,270.6L710.7,273.5M687.2,173.2L682.9,168.7L681.4,165.0L678.1,162.3L672.6,165.4L668.7,170.8L664.1,173.8L663.1,176.8L661.7,181.2L660.6,184.2L658.2,186.9L657.6,193.1L651.9,195.4L649.1,190.4L648.6,184.4L648.2,181.1L645.3,178.6L641.3,173.2M678.2,283.3L679.1,280.2L680.3,273.6L685.2,269.6L691.0,269.2L695.4,272.7L699.7,276.2L703.8,277.8L707.5,279.9L711.6,283.3M646.6,286.8L646.4,283.6L650.2,281.6L654.1,280.7L656.7,277.2L659.1,274.7L660.8,268.9L662.5,265.0L665.7,264.3L671.6,266.5L676.6,265.8L682.5,263.4L687.2,263.8L690.2,257.8M682.4,173.0L684.3,175.4L689.8,171.9L691.9,165.8L691.4,161.2L690.9,154.4L689.2,151.0L688.3,147.8L688.9,144.8L688.3,138.6L690.1,135.3L689.6,130.9L689.2,126.7L686.0,123.1L683.7,120.8L679.4,118.3M598.2,264.9L599.2,271.6L604.3,275.9L606.8,278.6L607.9,281.7L606.8,288.6L602.8,293.8L600.9,299.9L603.9,303.4L610.0,302.7L613.3,307.3L613.4,313.2L615.1,318.0L613.3,324.5L613.8,327.9L610.0,332.0L603.5,330.6L597.6,330.3M614.4,191.3L621.3,190.7L625.5,188.1L629.3,188.2L632.8,187.9L638.0,186.4L642.9,186.1L647.8,188.1L651.3,187.3L654.5,185.3L661.1,185.6L666.0,186.7L670.8,186.1L677.0,183.1L680.6,182.3L685.1,182.4L687.9,185.9L690.5,189.2M685.3,255.2L691.5,258.3L693.8,260.8L697.9,262.7L703.2,264.9L706.7,267.3L710.0,270.6L710.7,275.3L710.0,281.9L710.1,288.4L708.3,291.7L705.9,294.3L702.7,294.9L698.7,297.1L693.9,296.3L690.0,298.3M688.2,281.3L691.7,283.1L696.7,285.1L703.0,283.5L705.6,281.8L709.1,278.4L713.9,276.2L718.1,272.8L716.2,268.9L715.4,265.7L714.5,261.3L709.4,261.9L706.3,263.7L703.8,268.6L699.3,272.0L698.0,276.5L698.6,283.4M622.8,245.3L619.8,243.2L615.7,240.6L613.4,234.3L607.5,232.0L603.8,230.1L600.6,229.5L598.1,231.4L592.0,234.0L588.0,235.1L584.2,237.1L579.8,238.0L575.6,240.2M588.5,233.4L583.6,228.6L578.2,225.7L572.2,223.7L566.7,223.5L561.0,222.3L555.2,220.9L550.5,216.8L548.0,212.9M645.5,216.9L649.4,214.0L652.7,212.8L656.7,211.6L662.0,209.4L667.6,207.1L673.1,204.8L677.5,204.2L682.1,204.6L685.2,204.9L687.0,207.7L689.6,211.1L694.0,211.0L699.0,211.3L702.2,212.9M683.0,180.8L681.1,184.3L680.8,189.3L680.2,194.0L678.2,200.0L675.7,202.6L669.6,205.8L672.1,208.7L675.9,210.0L679.5,212.9L683.9,212.9L688.2,213.6L693.2,215.4M650.4,222.2L653.9,218.1L656.2,215.1L660.6,215.2L664.9,216.4L668.6,214.4L673.7,215.3L677.8,214.8L684.0,216.8L687.7,219.0L691.9,223.3L694.1,227.3L693.1,233.4L693.6,239.8L695.8,243.5M681.3,171.4L678.9,175.4L682.0,180.7L681.7,185.0L682.2,188.6L681.9,191.8L684.3,196.5L685.3,202.1L684.8,207.6L679.2,209.9L673.6,210.2L670.7,208.3L666.6,203.2L664.4,200.6L660.2,198.3L658.1,194.9M635.8,187.8L632.5,183.4L628.9,177.8L622.9,176.8L619.3,172.2L614.1,169.7L608.7,169.4L603.7,172.9L598.8,173.9L596.6,171.8L593.5,173.3L591.6,176.5L591.2,180.3L593.5,186.4L590.1,190.7L591.5,195.7M673.0,191.5L671.0,194.1L668.6,196.6L667.0,202.4L669.5,207.4L668.8,211.9L669.5,217.7L673.7,221.1L677.2,221.6M602.2,195.0L605.1,194.2L607.4,190.5L606.3,184.0L606.7,180.4L608.6,175.5L611.0,172.7L617.5,172.0L620.2,173.7L622.6,177.0L625.8,177.4L630.3,175.3L634.8,173.6L641.3,174.1L645.7,174.1L646.0,169.4L644.9,164.9L647.1,160.3M656.1,194.5L660.9,198.9L666.5,202.3L671.5,205.7L673.9,209.2L677.7,210.7L683.9,212.8L686.3,215.1L691.7,217.5L696.1,221.3L701.0,223.1L707.8,224.4L712.9,225.7L717.0,224.1L720.1,224.4L724.4,227.6M596.8,201.7L593.7,196.3L594.3,191.9L596.0,186.4L599.9,181.1L603.1,180.1L607.3,183.8L609.9,189.9L613.6,195.3L618.2,200.5L621.2,202.4L624.9,200.7L630.2,201.0L635.0,204.7L636.4,207.3L633.7,209.7L628.8,214.0M641.8,216.7L642.4,222.3L641.9,229.0L635.5,231.6L630.5,230.7L628.4,228.6L627.6,222.4L631.3,216.7L636.0,211.5L634.8,207.6L631.3,207.8M600.7,203.7L603.6,199.4L604.9,193.3L607.8,190.5L611.6,188.9L615.7,185.3L617.8,180.6L617.1,173.8L618.4,170.9L622.9,169.9L627.1,171.8L630.8,176.7M658.5,193.9L653.3,191.5L649.2,188.1L649.1,182.8L649.6,176.7L654.1,173.4L654.7,168.5L658.5,167.6L664.3,167.8L668.0,169.6M627.1,184.0L632.2,188.6L633.0,193.3L638.4,194.7L641.7,193.9L644.8,196.6L646.5,202.8L645.8,209.6L648.5,213.4L650.5,217.7L652.7,223.8L651.5,227.1L649.1,230.1L644.2,233.8L639.9,237.3L640.8,241.4M665.6,203.3L661.4,202.4L661.2,199.1L658.5,195.7L655.8,192.3L653.5,190.0L650.4,190.1L649.9,184.8L652.9,178.7M622.2,175.3L622.0,178.4L624.2,184.7L621.8,187.3L622.4,192.5L619.8,197.1L617.1,200.2L614.1,200.8L607.5,200.6L604.7,205.5L603.1,208.3L601.7,213.7L599.2,218.2L599.3,222.3L598.8,225.4L595.4,226.5L590.6,226.5M684.3,264.2L688.6,268.7L693.2,272.6L699.7,273.2L704.4,271.3L706.2,277.6L708.5,283.5L712.0,287.0L717.5,289.4L721.7,290.8L726.0,292.8M650.5,223.1L653.2,217.5L654.6,212.8L651.7,209.1L650.8,206.0L651.6,199.3L654.2,196.1L657.8,192.8L661.3,193.9L667.2,195.7L672.5,199.1L676.8,201.7L677.0,206.4L677.6,212.6L675.8,215.5L671.2,219.5M647.0,276.5L649.6,278.9L656.2,281.1L660.4,285.8L663.8,286.8L670.0,286.5L673.7,282.5L676.9,285.9L678.2,290.1L678.0,296.0L681.4,301.9L678.8,304.4L676.8,308.8M625.8,218.7L631.9,217.1L636.4,218.1L641.3,216.7L642.8,219.6L646.5,223.3L649.7,226.2L652.6,227.8L658.9,226.4L662.1,226.3L664.6,224.2L664.0,220.7M689.9,195.4L688.2,199.7L686.3,203.1L682.4,207.4L679.8,213.0L679.1,216.4L678.2,220.4L679.3,224.7L681.0,229.2L684.4,233.0L690.0,236.7L695.8,234.7L700.0,240.0L702.1,243.0L703.9,248.5L705.5,252.3M653.8,241.1L650.7,239.9L646.7,240.2L640.3,240.9L634.4,242.3L627.6,242.6L623.2,247.9L622.6,254.4L628.8,257.3L631.3,259.1L637.0,262.6L640.1,265.3L639.7,269.9L638.1,276.5L635.1,279.1L629.4,276.2L623.5,276.8M670.7,199.7L664.7,198.6L661.5,199.5L658.2,199.5L652.3,200.1L649.3,201.5L644.7,202.0L638.8,199.7L634.7,199.8L628.9,198.7L622.9,197.2L617.9,195.2L612.7,193.7L609.9,191.2L604.9,186.4L605.6,182.4L611.0,178.8M604.7,283.7L603.6,280.4L606.5,277.4L611.2,273.4L612.3,269.0L610.4,263.2L609.8,257.8L604.1,256.8L598.7,252.7L594.4,251.0L591.3,249.1L589.2,243.3L586.6,240.2L585.0,243.5L578.2,243.3M631.2,202.0L630.6,205.8L629.2,211.1L632.7,216.0L635.8,218.0L637.4,223.6L638.6,227.1L642.1,228.4L648.1,225.4L651.3,223.9L655.1,225.8L658.1,228.1L656.0,234.5L654.3,240.4L649.4,243.6M618.7,228.9L623.3,225.1L627.9,229.7L626.5,236.4L626.4,241.8L620.2,240.8L615.8,244.6L617.1,249.7L614.7,251.8L613.1,255.6L612.0,259.3L610.2,262.1M609.5,192.3L609.8,186.1L608.3,179.8L612.3,177.4L615.8,175.9L620.0,174.2L623.0,175.9L626.5,176.1L632.6,174.5L636.4,172.5L640.4,169.1L642.2,163.1L645.8,163.2L648.8,159.8L653.8,158.1M601.7,238.4L601.9,234.1L604.3,228.5L605.6,222.7L602.9,220.0L599.5,218.8L596.2,214.4L591.5,214.1L588.6,210.6L582.4,208.0L579.8,206.1L577.1,202.2L575.4,199.3L572.4,194.4L568.6,189.3L563.0,187.0M625.7,249.4L631.3,253.4L635.6,254.0L641.5,257.3L643.7,261.4L645.3,266.5L643.9,272.2L641.0,273.9L637.7,270.7L632.6,268.6L630.4,262.7L633.9,259.1M646.7,188.2L648.9,185.9L650.8,179.8L654.0,176.4L660.5,176.7L666.6,179.9L670.3,183.3L673.7,185.4L679.3,188.4L684.0,191.0L687.9,193.3L690.3,198.0L691.6,201.5M630.1,256.8L632.4,262.1L634.0,265.5L636.4,268.1L638.9,270.9L643.2,271.0L646.9,271.6L652.6,268.3L655.6,262.9L658.2,258.8L662.5,257.3L669.3,257.8L673.4,259.6L674.9,263.5L674.9,268.4L675.3,273.3L681.5,274.9M647.9,235.5L653.6,239.6L657.3,243.0L657.0,247.3L655.5,250.7L650.4,253.1L648.2,255.9L645.7,257.9L640.1,258.7L634.0,255.8M625.4,220.8L624.0,215.8L620.9,209.6L620.0,203.5L619.1,196.7L624.3,192.8L628.5,191.7L632.2,190.2L636.9,188.9L642.2,186.5L643.8,182.7M684.3,249.2L683.0,254.2L683.6,259.2L685.8,262.5L682.9,265.4L684.0,270.9L681.1,275.2L679.7,278.9L681.3,282.4L681.9,287.4L685.6,292.7L686.1,296.2L685.0,301.0L683.3,303.5L678.3,306.8L674.8,309.6L672.6,313.7M587.5,254.2L582.4,252.4L580.0,250.0L575.3,248.2L571.0,244.7L566.8,247.1L564.6,250.5L565.7,254.2L566.2,260.7L565.0,266.7L567.1,269.2L569.2,271.6L573.5,273.8L579.8,273.8L584.9,273.5L589.4,271.2L591.1,267.8L594.9,266.8M629.3,228.0L632.0,229.6L634.7,231.1L641.6,230.0L647.9,227.7L651.1,223.8L654.4,223.4L660.8,223.7L662.4,227.7L668.7,228.5L673.7,230.1L678.2,227.9L680.6,225.0L678.0,220.9L678.2,215.7L679.1,210.9L680.0,207.6M676.0,191.9L673.6,196.3L669.1,199.8L664.3,201.3L659.3,202.0L655.0,200.8L650.1,199.1L643.6,200.3L637.8,202.0L635.2,199.8L630.8,199.2L625.4,198.4L622.3,195.7L618.4,195.1L615.1,194.1L608.9,191.9L606.0,192.3L602.1,192.1M657.6,234.0L661.5,233.5L664.8,234.1L669.1,233.6L670.8,230.7L673.4,228.6L675.7,225.0L680.3,221.3L686.8,219.0L688.0,215.8L690.4,211.1L688.2,208.1L688.9,204.1L688.3,198.3L690.2,194.1L688.6,189.8M614.3,240.7L614.3,235.2L619.0,232.1L621.3,225.4L619.7,221.6L617.0,219.2L613.5,215.2L615.2,211.9L618.2,211.3L623.7,209.1L626.1,206.7L630.7,205.4L628.3,199.2M658.5,217.7L653.9,220.7L650.7,223.5L647.6,224.2L643.4,224.5L637.4,222.9L633.2,221.0L632.8,225.5L633.5,228.9M690.3,180.8L694.1,183.0L700.8,184.8L705.0,180.8L709.5,180.1L707.8,184.5L703.5,186.5L700.5,187.7L695.9,192.7L689.6,194.7L685.8,198.6L683.6,201.2L682.1,208.0M629.9,278.9L630.9,275.0L633.8,269.7L635.7,266.4L638.6,263.6L643.5,259.2L648.7,254.9L651.3,252.8L648.7,249.1L644.4,245.6M622.9,266.5L628.3,270.6L629.6,274.4L635.3,277.5L639.6,279.2L642.9,281.3L647.1,282.9L652.4,279.7L657.6,279.5L663.8,279.8L669.1,278.8L671.4,274.1L671.5,268.7L672.4,263.8L669.5,261.0L667.7,254.9L667.5,251.7M638.3,253.1L633.7,248.7L629.6,248.3L627.5,244.3L626.4,237.9L629.1,235.1L628.6,231.2L628.4,225.1L626.3,220.0L628.7,214.2L632.4,212.9M585.3,262.0L587.0,257.3L591.5,253.5L593.5,248.9L596.2,246.0L602.1,242.4L606.4,241.9L610.8,239.3L614.1,238.6L617.5,238.1L619.2,241.0L617.2,243.3L613.5,248.9L610.7,254.4M626.5,230.1L624.3,227.1L623.2,220.6L619.6,215.6L619.8,220.4L617.2,223.9L615.5,230.0L620.1,234.6L623.2,237.8M677.7,225.6L680.4,221.8L683.9,217.2L686.8,215.5L691.9,215.3L695.0,219.3L697.9,224.3L700.8,227.0L703.9,228.4L706.6,231.5L712.4,232.7L718.5,230.6L725.2,232.5M668.9,261.6L673.4,264.9L679.0,268.5L685.4,268.0L690.6,268.3L695.5,268.3L700.0,264.3L706.6,262.4L709.5,262.1M689.5,244.9L690.1,240.2L692.7,238.4L698.2,234.5L700.5,231.7L703.0,228.9L706.0,226.3L710.1,229.4L713.7,234.1L717.0,240.0L717.1,243.9L712.8,247.2L708.8,250.1M665.8,185.8L663.3,189.0L661.5,192.8L656.6,197.7L654.8,201.7L651.5,205.3L646.5,208.0L645.1,212.2L646.4,216.4L648.7,220.8L649.2,225.1L647.4,230.6L651.0,233.8L650.3,237.7M658.9,271.5L657.2,277.8L654.8,282.9L653.6,287.2L653.2,292.0L656.3,298.1L660.0,303.7L659.9,308.8L664.5,313.1L665.6,318.6M601.0,282.0L604.2,281.0L606.5,276.3L606.7,271.5L605.6,268.1L606.2,264.9L604.1,261.1L604.6,257.2L603.3,251.4L606.9,245.4L608.0,242.4L607.8,236.7L606.7,230.3M634.6,183.4L628.7,186.1L626.0,190.8L621.5,195.0L619.6,197.4L616.8,198.9L616.7,193.5L618.0,190.3L618.1,187.3L620.0,183.9L622.7,178.8L624.5,176.3L626.8,170.9L629.7,169.7L634.0,173.1L640.0,171.7L646.6,171.0L648.7,167.5M624.6,195.9L623.8,199.8L626.9,204.2L630.2,205.2L636.4,206.0L639.0,209.1L640.6,212.4L642.9,219.0L644.1,224.6L641.4,228.9L639.0,231.7L635.0,235.1L630.8,238.8L626.4,243.5L624.3,247.2M687.1,207.2L691.3,202.3L693.5,200.0L694.6,194.9L694.0,189.8L694.7,185.5L694.9,182.4L688.7,179.5L685.2,181.8L681.5,181.7L678.4,182.7M668.6,211.8L674.3,210.9L679.8,208.8L682.7,208.1L686.7,205.2L689.6,203.7L692.6,204.3L697.6,201.3L700.7,199.4L704.5,197.4L711.1,196.4L715.8,199.4L716.9,203.4L719.1,207.2L721.1,210.5M632.2,262.6L627.1,266.4L625.1,268.8L624.0,273.1L622.1,275.6L618.3,274.9L611.6,274.1L607.7,268.7L605.6,265.3M614.9,262.5L618.7,268.2L619.7,271.4L618.7,276.8L618.1,280.8L621.7,285.8L624.6,288.6L628.5,293.3L625.5,297.8L618.9,299.1L614.4,302.4L611.4,306.6L609.0,308.7L604.6,311.6L603.3,317.7L601.5,322.9L596.4,325.5M573.9,274.7L571.9,270.6L570.6,264.6L568.9,259.4L570.2,255.8L568.9,252.1L570.5,247.3L572.8,245.3L574.8,242.5L569.8,238.1L564.3,234.2L561.5,231.1L558.0,227.8L552.6,224.2L550.2,222.0L546.8,221.0L540.6,218.0M586.6,256.2L589.5,262.3L591.9,264.3L595.0,264.8L597.9,266.5L603.6,269.4L608.8,272.6L615.3,273.1L621.0,273.3L624.8,273.3L629.5,275.2L633.6,271.5L634.9,266.5L631.8,265.6L631.2,261.7M587.3,213.5L583.9,215.6L582.8,221.9L581.0,225.4L580.0,228.5L584.0,232.8L585.5,238.0L588.1,239.7L593.2,242.1L598.4,246.3L604.0,249.0L606.5,252.8L609.5,255.2M581.5,226.1L575.0,227.9L570.3,226.2L566.9,226.7L564.2,228.6L561.1,234.4L563.6,240.7L560.5,244.4L557.0,245.6L553.4,241.5L550.8,238.2L546.1,234.3L540.4,231.8L536.0,228.0M608.5,275.9L614.5,276.7L619.3,277.2L624.0,280.2L626.9,281.2L631.8,285.0L633.0,288.4L632.5,293.7L633.1,299.4L636.3,305.2L637.6,308.0L643.9,309.7L647.1,314.9L648.0,318.0M687.4,273.4L684.0,277.2L680.2,276.3L674.7,274.1L670.4,273.4L668.1,268.9L665.6,263.7L661.2,262.7L657.1,260.7L653.2,259.2M650.1,191.1L647.9,193.6L647.2,200.5L647.0,204.4L650.6,205.2L654.9,205.8L659.4,205.0L662.7,203.6L669.0,205.1L673.3,210.3L676.8,214.6L678.5,221.3M689.8,213.7L694.9,214.3L700.5,212.4L703.4,210.2L707.2,210.7L711.9,207.2L717.1,204.9L714.5,202.1L710.0,198.2L709.0,192.0L707.2,189.0L705.2,184.4L699.6,182.2L693.2,181.7M591.3,207.8L592.2,213.3L590.5,216.6L583.9,215.8L581.3,217.4L577.6,218.9L573.7,217.6L568.9,215.4L565.3,212.9L566.3,207.3L563.8,201.3L561.5,199.4M598.5,199.5L599.8,204.0L602.8,209.7L606.6,214.1L610.8,215.5L616.6,212.8L620.2,211.7L623.6,212.0L630.3,212.1M580.6,210.6L578.4,204.4L575.5,198.3L569.5,197.9L564.7,201.6L562.4,205.0L562.7,210.8L560.6,216.4L555.5,220.2L551.9,223.6L550.4,229.5L555.6,233.4L560.8,235.5L565.9,231.1L568.8,232.0M606.3,227.1L603.4,221.0L599.2,216.4L598.6,212.8L598.6,207.2L599.0,204.1L600.4,198.9L598.7,194.8L596.9,188.6L595.8,182.2L597.6,178.3M603.1,184.3L599.0,179.3L596.8,173.5L592.8,170.2L590.3,168.4L585.0,167.3L579.9,163.7L575.0,159.9L571.9,157.1L568.2,153.0L563.5,149.2L559.2,145.2L554.5,141.7L549.9,140.5L548.4,136.7L545.9,132.2L545.4,128.3L541.3,123.8M654.2,252.1L649.7,249.9L646.3,246.6L644.2,241.4L645.3,238.5L648.2,234.6L650.6,231.1L653.8,227.2L656.6,229.6L660.8,231.6L661.3,238.0M574.8,275.4L581.6,277.1L585.7,274.0L589.8,272.5L596.0,274.8L599.0,271.3L602.0,271.3L606.5,272.9L612.2,272.6L614.2,268.4L616.4,264.5L617.4,260.0L619.8,256.4L619.3,250.2M643.1,229.5L639.8,225.2L634.8,221.9L631.4,220.5L625.7,217.8L619.2,217.6L616.4,222.8L616.6,227.4L616.4,230.4L615.6,234.4L615.5,239.5L619.6,244.9L622.7,250.9M606.8,248.9L612.7,246.6L616.5,249.7L621.3,249.4L625.0,247.1L626.8,241.7L623.8,239.2L619.8,239.4L615.3,236.2L610.3,238.1L606.7,241.7L602.2,243.2L598.1,246.6L594.9,249.7L594.0,254.6L593.9,261.2L597.8,261.5M580.1,284.8L580.2,278.7L577.9,272.5L579.0,269.2L580.9,262.8L579.0,256.6L580.7,253.9L580.9,249.9L584.6,246.6L586.1,243.0L586.6,238.1L586.7,234.4L586.9,229.9L584.7,227.3L586.2,222.2L588.1,216.1M588.3,282.3L589.0,278.4L590.4,275.6L589.8,272.6L585.2,269.2L579.8,272.1L577.0,273.4L574.0,272.0L570.3,271.1L566.7,270.8L560.3,269.4L556.8,268.5L553.9,266.7L551.9,262.5L548.4,258.1L542.9,256.8M608.5,176.6L607.5,180.0L605.0,184.3L602.2,187.1L597.3,191.9L594.2,192.3L588.7,191.5L585.0,192.1L579.9,195.5L577.8,199.3L574.9,203.0L569.7,207.7L565.1,210.6L562.0,212.8L557.5,214.6M597.6,286.2L596.6,279.3L599.5,273.1L599.5,268.8L596.0,263.0L593.2,260.7L591.3,254.4L590.0,248.9L587.0,247.0L582.3,243.6M681.5,287.6L684.4,289.7L688.6,294.9L692.1,297.5L695.3,302.7L697.5,305.1L701.8,307.0L707.2,311.4L707.1,315.4L704.6,320.3L701.7,325.2L700.9,332.0L700.1,336.6L699.4,341.5L700.6,346.6M663.9,284.9L668.8,289.0L672.8,289.2L679.4,288.5L685.5,289.3L689.7,292.7L690.4,297.5L693.7,297.0L700.3,295.6L707.0,296.3L713.6,294.4L717.4,293.6L721.5,291.8L728.0,291.3L733.3,290.9L738.2,290.1L742.2,286.9L746.0,286.4M674.8,279.0L676.8,276.6L680.1,271.1L681.3,267.5L681.4,263.6L686.0,259.8L688.3,257.1L691.5,255.1L695.4,252.2L695.8,247.3L697.8,242.9L699.3,239.8L697.4,235.9M674.4,181.2L672.7,177.3L672.3,173.9L674.6,167.9L674.6,161.1L677.9,159.8L678.5,153.9L682.9,153.8L688.0,151.5L692.1,147.5L696.2,142.4L697.3,138.6L702.7,134.4L708.5,134.7L714.3,132.7L718.5,131.6L721.9,129.0M580.1,236.7L576.9,230.7L574.1,228.1L568.2,225.0L564.6,221.6L560.2,216.3L555.5,212.0L551.6,208.8L546.7,209.4L540.5,208.4L535.4,211.8L532.4,213.1L527.0,213.0M644.2,220.9L648.8,218.3L649.5,215.0L649.3,208.3L646.6,205.7L643.8,202.5L641.5,197.9L637.6,197.4L633.2,194.8L631.3,189.7L630.2,184.0L625.4,181.8L619.8,182.5L615.6,180.4L610.2,181.5M673.4,178.4L676.5,172.1L677.7,166.9L676.4,163.2L671.4,162.8L665.5,164.7L659.7,168.1L653.4,171.0L647.4,170.0L645.4,165.1L640.5,164.5L636.7,162.9L632.9,159.1L629.6,159.4M576.4,219.7L574.7,216.1L572.2,213.8L567.4,213.8L562.1,218.1L556.5,221.0L554.5,223.8L550.2,228.9L546.5,232.4L549.6,234.6L554.8,231.5L560.1,228.6L564.2,229.8M638.8,263.7L636.6,260.9L632.2,258.3L629.0,255.6L622.7,256.1L617.4,254.8L611.0,253.7L606.2,250.1L605.5,246.9L608.4,243.6L609.6,238.5L608.6,233.5L608.3,228.9L605.5,224.1M582.7,186.5L580.3,183.8L576.6,180.1L573.4,176.3L570.3,175.4L568.9,171.2L570.2,165.8L571.5,159.4L574.8,153.5L577.0,147.1L579.4,141.7L582.5,138.0L584.9,133.2M683.6,250.3L681.1,253.0L677.3,255.1L675.2,257.3L671.0,259.1L667.4,263.9L663.0,267.2L661.4,271.5L656.1,274.3L653.0,275.1L647.6,277.5L642.9,281.5L639.2,284.3L633.2,287.5L628.3,286.3L622.9,282.4M646.3,258.6L646.1,262.6L646.6,266.0L646.3,272.6L647.7,276.4L646.4,283.2L645.0,287.4L646.9,292.9L646.2,296.6L645.9,303.3L649.4,305.7L652.6,307.4L656.4,307.5L660.3,307.6L666.8,309.8M630.4,272.5L632.8,277.8L637.6,280.1L639.0,283.3L634.6,288.5L631.6,290.2L626.5,288.1L619.8,286.2L618.6,282.5L618.0,277.4L618.7,274.1M611.9,217.9L615.9,218.4L620.0,217.4L625.5,216.0L628.9,211.0L631.7,209.5L635.6,207.6L640.7,203.5L641.0,199.0M600.1,280.8L600.4,277.7L596.6,274.0L594.0,271.3L590.9,265.9L585.5,262.1L579.6,260.0L574.2,256.4L570.8,256.3L565.6,253.4L560.9,252.2L556.5,248.4L555.3,244.5L549.9,242.1L547.7,236.6L545.0,234.4L544.7,230.9L543.4,227.3M600.9,268.0L600.2,262.8L597.0,260.5L595.9,256.2L592.6,256.1L588.4,257.3L585.6,259.4L585.6,265.2L583.2,269.6L582.7,273.5L579.5,275.8L574.1,276.9L570.2,277.0L565.5,279.6M593.4,175.1L597.7,175.3L600.5,178.8L600.2,183.6L598.3,187.6L597.5,192.0L594.2,196.5L592.1,199.9L589.5,203.0M572.8,180.3L566.2,179.2L563.2,179.2L560.0,177.4L556.4,177.9L554.0,180.3L554.2,183.7L552.6,187.4L551.8,193.6L547.3,198.2L550.9,204.0L553.2,206.8L557.8,209.2L563.6,212.1L564.9,216.1M579.7,181.0L574.9,182.6L571.5,177.4L573.8,172.7L575.7,166.4L577.8,160.8L578.4,156.8L576.7,154.0L570.6,152.9L565.0,153.2L560.4,152.7L557.3,156.1L557.7,160.2L557.7,167.2L558.6,170.4L557.6,173.7L557.1,177.2M662.0,269.4L665.9,274.7L668.2,278.8L669.9,282.2L672.9,287.6L669.2,293.0L662.7,294.8L659.6,297.7L653.9,301.2L652.9,307.3L652.9,313.2L655.8,316.4L661.2,318.8L667.7,320.1L670.7,319.1L672.7,316.1L677.0,312.6M605.3,237.9L609.9,236.1L615.1,231.9L611.7,226.8L612.4,221.9L611.7,218.1L611.7,213.0L616.6,209.7L621.9,209.2L626.3,205.6L630.9,210.7L631.7,214.1L635.3,219.9L635.5,225.3L633.6,229.3L628.3,231.9M636.4,192.6L631.0,192.6L625.7,196.5L623.1,199.0L620.3,203.4L618.8,208.1L621.6,214.0L620.3,220.1L622.6,224.5L624.8,230.0L628.2,231.7L627.8,234.8L626.5,240.5L627.9,243.2M590.0,195.4L585.2,191.4L580.8,191.5L574.1,189.4L571.0,183.6L572.2,176.7L573.3,173.4L572.3,167.5L573.1,160.9L576.3,155.8L581.1,155.0L582.7,149.8L580.0,144.1L578.0,137.7L572.4,134.0L567.6,130.9L565.2,128.9M579.2,243.4L581.4,236.9L582.2,231.5L580.2,225.2L579.2,222.3L580.6,217.7L583.4,213.3L588.4,210.0L591.8,212.9L597.9,213.6L602.8,213.0L608.9,211.5M627.5,244.8L633.2,246.2L635.9,244.8L641.4,241.6L645.1,236.1L646.5,232.0L646.4,225.7L644.6,222.5L645.1,217.3M605.8,242.6L600.4,239.9L595.2,239.5L590.8,242.2L586.0,238.1L584.1,232.7L579.9,232.5L577.1,229.8L575.1,225.9M589.4,199.0L592.1,202.3L596.0,202.1L600.9,201.8L606.5,199.9L609.6,196.8L612.5,190.4L613.7,186.7L611.6,183.3L609.1,179.6L606.6,176.2M576.0,240.4L576.6,243.4L577.4,247.7L577.7,250.9L576.2,253.6L574.6,256.5L572.2,258.6L568.6,264.2L565.0,269.9L566.0,275.3L568.6,278.3L569.1,282.8L568.2,286.5M690.5,202.2L689.5,205.3L693.3,210.7L695.1,217.4L696.9,220.6L701.4,225.5L706.9,227.1L712.1,223.9L718.5,223.3L723.5,223.1L728.8,224.3L731.1,226.7L735.2,228.7L739.7,231.4L741.7,235.5L741.9,240.6L744.9,245.9L750.6,245.2M682.5,284.2L678.0,286.6L672.8,286.4L669.5,285.9L662.5,286.5L658.4,287.5L652.1,289.7L649.3,291.2L647.8,296.6L646.2,302.8L643.2,304.1L643.1,310.5L643.0,314.2L639.1,318.3L638.3,323.2L640.3,327.2L645.4,330.0M673.6,222.2L671.2,218.7L670.1,215.4L670.4,208.8L670.1,203.7L669.5,197.7L667.7,194.1L666.5,191.2L663.0,190.9L658.3,190.5L652.1,193.7L646.9,193.4M647.8,281.4L651.8,282.9L658.0,284.7L661.8,286.5L664.8,287.9L667.8,283.4L671.0,283.1L673.7,287.5L671.2,291.5L669.0,293.9L666.1,297.8L663.4,301.4L664.4,307.9L658.2,309.9L652.0,309.5L647.7,307.5L644.5,310.7M645.4,212.8L649.9,208.8L648.9,205.6L648.1,201.3L647.8,197.0L647.5,192.3L647.0,185.8L645.5,182.8L640.0,181.4L636.5,179.0L633.7,175.6L634.5,170.8M668.8,233.8L672.0,229.6L675.1,225.0L677.3,222.4L680.6,224.8L684.0,224.0L687.7,218.5L688.7,213.6L689.3,209.0L689.0,202.9L684.9,201.7L681.8,196.9L678.6,195.6L672.4,195.7M670.9,267.5L672.2,271.2L674.4,277.0L676.0,282.7L675.5,286.1L676.2,291.2L680.2,295.1L684.6,300.3L683.7,305.9M634.0,275.2L635.5,272.5L640.0,271.5L643.5,269.6L648.1,269.0L652.9,273.7L654.7,280.2L658.0,282.2L662.9,280.7M631.6,272.8L634.4,278.2L639.3,279.3L644.1,281.2L647.6,281.7L653.8,280.1L657.0,276.9L661.5,272.3L659.7,269.2L659.4,266.0L660.0,261.9L658.0,259.6L659.4,256.1M624.7,212.3L628.8,209.2L633.5,209.9L636.0,211.8L641.6,214.4L644.7,218.9L646.9,224.7L646.7,228.9L646.0,233.5L641.1,235.9L638.4,238.0L634.1,242.1L631.7,246.4L630.3,250.3L627.7,254.4L626.9,257.6L623.7,262.7M620.2,225.1L616.7,220.4L611.8,219.7L608.8,218.2L604.8,216.9L598.1,216.9L594.8,216.7L589.5,217.0L584.8,217.0L580.7,217.8L576.0,220.3L571.7,219.3L569.3,216.4L567.5,211.5L563.5,209.4L557.4,211.2M665.6,187.3L662.6,184.0L656.8,183.1L650.7,184.2L646.0,180.9L641.3,183.6L638.5,186.0L636.6,189.8L634.3,193.5L630.7,196.9L626.9,198.0L623.4,193.0M586.8,238.7L586.6,233.5L582.9,232.2L580.5,229.2L576.9,225.4L571.4,222.9L566.9,218.7L565.3,214.6L560.4,210.4L556.9,210.7L554.0,206.9L547.3,205.9L544.2,204.6L538.1,206.1M622.4,215.4L625.5,219.5L630.5,223.8L631.1,229.3L630.1,233.7L629.0,237.6L629.7,243.6L632.6,244.8L636.4,240.7L639.3,237.6L643.1,233.3L644.5,227.6L646.4,224.5L648.2,221.2L645.7,218.1L641.6,214.4M686.3,253.6L692.5,254.3L696.2,256.2L701.1,255.2L705.8,259.8L708.1,265.2L712.5,269.5L714.1,273.8L712.2,280.0M598.4,189.0L601.5,189.3L605.2,188.3L611.1,188.0L617.1,187.6L620.6,191.5L624.8,195.3L629.2,200.5L632.1,205.1L637.2,206.7M612.7,191.6L617.2,189.0L617.9,183.4L619.9,178.9L621.6,172.8L624.0,168.6L625.8,163.7L630.0,161.7L634.6,163.2L636.0,166.7L638.2,172.0L640.8,175.4L645.3,177.9M680.2,193.7L679.7,198.1L681.7,201.9L682.8,206.7L679.5,207.9L675.0,211.4L670.6,212.3L667.2,209.2L665.2,206.4L661.8,201.9L657.8,197.0L658.1,193.0L658.0,188.8L657.9,184.0M671.4,284.6L676.9,284.7L679.8,282.4L684.2,278.1L686.1,272.4L690.4,269.2L693.0,267.2L692.9,260.8L695.6,258.5M655.4,262.5L653.8,258.0L652.8,251.5L651.3,248.1L646.5,246.7L643.4,241.4L642.7,235.9L642.9,229.8L640.3,227.9L637.5,224.9L635.1,219.3L634.9,215.6M667.7,244.6L666.1,240.0L664.0,233.8L665.5,228.5L668.1,226.0L668.9,222.2L668.5,218.5L667.3,214.4L668.1,210.2L668.4,206.9M645.4,221.4L649.6,220.1L653.9,220.4L659.1,221.2L663.2,225.2L666.9,227.4L671.7,225.0L672.5,221.9L670.9,218.8L664.6,219.1L659.3,215.1L659.4,211.4M585.0,198.4L581.4,200.3L576.6,198.7L572.4,198.9L570.2,196.3L568.1,192.9L564.4,189.7L558.9,188.8L554.9,187.5L549.5,190.6M622.4,174.1L620.7,169.9L614.5,168.4L608.8,169.4L602.5,169.8L596.5,169.9L591.1,173.4L589.0,177.2L585.6,182.2L582.5,181.9L578.0,181.4M582.1,193.8L577.6,192.1L575.9,188.8L570.9,187.0L566.4,182.2L564.0,179.5L564.8,175.2L563.0,172.0L560.6,168.1L560.4,165.1L559.8,161.5L558.9,156.7L558.9,149.8L555.8,144.6L551.7,143.8M581.8,252.7L583.0,255.9L583.2,258.9L582.5,262.6L580.4,269.2L580.6,274.7L582.7,277.3L584.2,281.5L583.0,285.5L580.4,288.7L578.4,292.8L577.8,295.9L582.5,297.6L584.9,301.0L588.4,305.2L592.4,305.1M639.5,251.1L645.7,249.8L647.9,246.8L648.2,242.3L652.1,240.3L655.4,239.5L659.9,235.5L665.8,233.6L669.1,237.3L672.7,242.6L673.5,245.9L675.4,252.1L681.1,252.8L686.8,253.5L689.8,254.5M633.0,173.5L633.3,177.7L628.6,180.5L624.3,181.9L620.8,177.7L616.9,175.5L610.7,174.4L606.9,170.1L604.7,166.5L602.1,163.2L596.4,161.9L591.9,164.3L590.4,167.1L585.0,168.9L579.1,167.8L574.4,166.0M586.6,202.8L589.8,204.3L591.1,201.5L593.2,195.2L596.0,192.3L598.9,188.6L602.3,183.4L599.5,177.5L595.8,174.4L592.8,169.2L594.8,165.2L596.7,160.9L599.2,154.9M648.3,173.8L643.2,175.9L640.6,177.4L637.3,179.2L633.2,183.2L627.4,181.5L621.4,180.0L618.6,183.7L616.0,189.5M684.8,186.4L687.7,185.0L694.4,183.8L695.5,179.8L702.1,178.1L707.6,180.4L709.7,184.0L711.1,188.2L713.9,191.2L714.9,197.9L714.0,202.9M654.0,179.4L654.8,175.5L652.7,172.4L647.6,169.5L644.4,168.1L641.5,166.0L635.6,163.9L631.3,162.1L628.4,164.3L623.4,160.7L619.9,159.0L618.8,154.6L617.6,150.4L614.6,144.7L613.1,139.2M663.8,235.7L661.2,237.6L657.2,240.0L650.5,238.2L648.7,234.9L646.8,230.3L644.4,227.5L638.3,224.1L633.0,226.7L628.4,228.3L623.4,232.8L618.4,233.0L614.5,237.0L612.4,242.5L608.2,244.5L602.7,242.7M625.2,243.1L622.7,245.1L617.5,248.4L610.8,249.0L608.0,250.3L601.5,251.8L596.7,251.1L594.5,254.4L596.8,257.4M621.4,243.0L626.3,240.0L630.3,235.7L635.6,233.3L641.1,235.5L642.2,241.2L642.3,245.2L641.0,248.3L640.2,254.2L637.6,260.6L637.9,264.6L638.9,269.6L644.3,273.1L649.0,277.8M587.5,275.1L586.8,279.4L589.6,284.9L594.9,284.3L598.2,282.9L603.0,280.7L607.5,278.4L611.6,274.5L616.1,269.6L619.8,268.4M661.7,278.3L655.2,278.9L651.5,281.4L647.6,278.9L643.4,276.8L640.1,273.5L636.6,273.9L632.2,275.1L630.0,272.8L627.3,269.8L625.6,264.0L625.4,260.1L625.6,255.6L620.7,253.1L615.6,250.8L610.6,247.5L609.1,244.1M668.1,193.4L661.2,192.5L657.7,189.1L653.7,188.0L648.7,187.7L647.1,184.6L642.9,182.8L637.6,181.3L632.5,181.7L628.3,184.7L628.1,188.1L628.9,194.0L630.7,196.8L635.5,196.5L640.9,196.8L645.0,193.7L648.1,191.6L653.4,190.5M653.6,222.2L647.0,221.1L641.8,221.5L635.3,220.3L631.3,217.9L628.4,219.0L625.0,219.4L620.0,221.3L617.2,226.6L612.6,230.0L611.6,233.8M649.6,271.2L646.9,277.3L644.4,279.7L639.7,282.5L634.9,285.4L633.1,291.4L634.5,294.2L631.9,298.7L625.4,298.1L622.4,297.4L617.4,294.7M615.8,171.8L622.2,173.1L622.5,179.8L623.9,182.7L626.8,184.1L630.4,180.8L635.4,176.0L639.0,173.6L643.3,176.4M651.3,190.5L651.1,195.7L649.7,199.8L649.3,203.6L649.9,208.2L649.6,214.3L644.7,218.4L644.3,221.9L645.2,225.3L641.0,229.3L639.4,232.2L633.0,230.9L627.6,229.5L624.0,228.6M593.4,217.6L597.5,214.5L602.9,213.4L606.3,211.4L609.7,211.4L614.3,216.2L615.5,219.5L612.4,224.2L608.2,227.8L601.9,228.0L598.9,231.9L601.2,238.0L607.4,239.4L611.5,236.8L611.9,233.2L614.5,229.8L617.3,226.2M646.3,208.6L651.2,213.5L654.3,215.3L659.7,214.6L664.3,215.7L667.3,217.3L670.2,215.9L674.3,212.2L679.0,209.9L685.1,209.3L689.7,211.7L691.4,215.2L694.7,217.7L700.1,220.0L702.8,225.0L699.6,230.8M601.0,204.6L598.0,208.5L595.5,214.7L593.3,217.5L588.3,222.0L584.5,222.8L580.6,219.9L575.7,215.4L575.1,211.9M616.3,244.5L613.9,241.1L609.0,236.7L612.3,234.2L617.8,233.0L621.9,235.0L624.6,237.4L626.5,240.3L629.4,243.7L634.1,247.3L638.6,248.1L642.5,251.3L645.4,252.6L649.8,256.8L654.2,260.2M666.3,242.4L660.4,239.7L657.3,237.6L657.0,234.3L658.9,229.9L661.9,224.8L663.3,220.5L662.7,217.2L661.3,212.0L660.1,206.8L654.7,203.5L651.9,197.6L648.0,195.6L642.4,191.6L639.1,192.0L640.2,195.7L636.8,201.6L639.1,206.0M644.9,195.6L646.8,198.4L648.8,201.4L652.4,202.6L656.9,202.3L662.3,206.0L666.0,211.2L672.3,212.8L678.6,212.8L681.7,214.4L682.0,217.7L678.2,221.7L674.4,223.1L668.0,222.3M596.8,219.9L596.6,216.4L592.0,215.0L585.3,216.3L582.3,219.2L581.9,225.0L580.0,230.2L579.1,233.8L579.1,239.3L579.6,242.5L577.5,245.1L582.4,247.9L587.2,252.8M652.1,199.8L655.2,196.7L656.0,193.7L658.3,188.8L664.5,187.5L667.9,186.6L672.4,183.1L669.2,178.6L664.5,177.3L658.3,177.9L653.5,179.4L650.4,176.0L644.5,175.0L638.1,175.6M584.3,281.5L588.1,286.0L587.0,292.0L588.8,297.8L586.7,300.4L584.9,305.5L584.2,309.5L585.5,313.0L586.7,319.2L587.3,325.3L587.7,328.8L587.5,335.0L589.1,339.8L591.5,343.2L593.7,347.6L588.3,350.8L585.9,347.7L585.9,344.6M630.6,262.6L626.8,257.6L628.1,252.4L629.6,249.1L632.1,246.2L637.1,246.6L642.3,247.6L646.9,245.6L652.0,246.1L655.7,248.9L658.6,250.0L665.0,252.4L669.2,252.1M621.9,242.7L624.8,238.0L628.2,235.1L632.6,230.5L636.1,226.8L636.4,222.4L634.3,220.0L629.8,217.4L623.5,215.0L620.7,217.6L619.3,223.6L613.6,227.7L613.0,231.3L612.4,237.8L610.2,241.1L604.6,244.8M602.3,191.5L606.1,194.9L611.0,197.6L612.0,201.9L610.1,204.9L604.7,209.2L601.3,211.4L597.7,215.8L594.7,218.0L590.4,222.3L593.4,228.4L595.3,235.1L598.1,241.3L601.2,243.4L603.7,248.0L603.6,251.2L606.3,256.7L610.2,256.5M579.7,242.7L581.8,249.2L585.1,253.7L590.3,255.9L592.0,258.7L595.1,259.9L599.7,259.0L604.8,260.1L609.4,263.1L613.5,265.2L618.0,266.7L624.3,265.4L629.8,263.8L633.7,260.4L637.1,254.7L639.4,248.7M647.5,234.0L653.8,231.9L653.9,226.4L654.7,223.1L655.3,219.4L657.9,213.7L660.6,210.0L659.3,204.7L661.3,201.7L664.0,197.1L666.4,193.7L667.7,189.8L665.5,186.0L662.8,184.0L659.8,183.3L655.8,184.6L652.1,182.5L648.4,179.6M611.5,199.9L612.4,206.6L612.6,213.6L615.8,214.7L620.4,215.4L625.6,213.6L631.5,212.8L637.6,210.1L639.2,206.1L646.1,205.3L652.4,204.0L656.8,206.9L659.9,208.8L657.2,214.7L662.3,217.4L665.6,218.6L668.9,217.6L672.1,214.5M682.2,211.9L681.3,205.7L680.5,202.1L683.2,199.1L689.8,197.0L693.5,199.8L695.9,203.6L700.7,208.1L700.0,212.7L695.7,214.6L691.9,214.5L688.5,220.0M648.9,174.9L652.5,170.0L653.1,167.1L654.2,163.1L653.9,158.8L654.9,152.6L657.0,149.9L659.3,147.9L658.3,144.4L661.2,143.1L666.7,139.2L667.7,135.8L672.7,132.1M608.1,277.1L608.7,272.4L607.8,267.7L603.2,264.9L601.5,261.2L596.6,263.0L591.1,262.1L588.9,257.5L583.0,255.9M608.9,194.4L611.5,189.3L607.5,185.2L602.4,187.9L597.5,192.0L592.3,196.7L590.4,201.4L588.9,205.1L589.7,208.5M664.7,267.2L666.9,263.1L670.6,257.1L673.3,255.0L677.8,252.4L682.5,248.2L686.8,244.9L688.3,240.1L687.7,233.7L690.1,227.1L692.4,223.9L699.2,223.3M627.5,239.1L630.6,239.9L633.7,245.7L633.4,252.2L636.6,254.8L639.6,257.7L643.9,260.1L647.3,262.1L651.3,267.5L655.0,269.8L657.4,272.0L657.9,277.2M576.0,220.9L572.1,216.7L567.2,218.7L563.5,219.8L557.5,220.8L555.5,216.8L549.5,214.7L545.7,212.3L540.8,209.1L535.6,207.6L531.0,208.9L524.6,210.4L520.9,210.6L516.2,215.4L511.6,215.8M574.3,233.5L571.4,239.6L566.8,242.1L561.8,243.8L558.3,245.2L555.0,249.4L556.8,254.1L558.6,258.3L553.1,262.4L547.9,264.2L543.3,265.7L539.4,267.1L537.3,270.6L537.3,276.6L537.8,281.8M658.4,267.7L659.0,271.5L655.8,274.8L653.6,278.0L653.5,281.5L655.1,286.1L655.7,289.8L653.1,295.1L649.9,299.9M666.3,219.4L664.6,216.7L664.6,211.4L666.4,208.5L667.4,205.1L668.2,201.4L667.1,196.1L665.5,192.6L664.9,189.2L662.5,185.5L661.7,178.9L661.2,175.8L665.1,173.7L668.8,174.4L672.1,175.1L677.0,170.2M631.6,283.6L637.3,281.5L643.8,279.7L643.4,273.4L637.5,272.0L634.2,266.9L632.4,264.3L626.3,261.1L620.9,261.3L615.0,260.4L610.2,262.5L610.8,266.3L612.1,270.8L615.5,273.6L615.0,278.8M687.1,267.8L689.4,271.8L690.6,276.7L691.0,279.8L689.8,283.1L690.8,287.0L688.9,290.1L686.0,292.1L683.8,297.0L682.2,299.9L679.6,302.4L676.0,303.2L675.5,309.6L672.2,312.5L668.0,312.5L661.0,312.0M663.9,266.9L660.8,273.1L661.1,276.4L659.3,281.0L654.7,284.7L650.4,284.7L643.9,287.0L640.7,291.0L634.4,289.2L629.7,285.2L624.3,283.4L621.1,280.9L617.7,279.4L613.4,277.1L608.4,272.8L606.6,267.1M612.6,207.6L614.1,201.3L616.1,195.7L618.3,190.5L621.2,188.0L626.7,186.0L629.0,184.0L634.5,185.0L637.9,185.2L642.4,185.0L645.8,182.7L652.6,182.4M637.0,191.6L641.0,188.2L645.9,187.9L649.4,184.7L653.0,182.3L659.6,180.0L661.8,177.0L666.0,175.9L668.4,170.7L670.2,166.7M577.3,195.1L575.3,191.7L574.1,185.8L573.9,181.3L571.6,175.5L569.8,169.5L567.7,164.1L570.0,158.6L572.7,154.0L575.2,150.0L581.5,147.4L585.4,146.3L589.1,151.0L592.7,151.4L598.1,155.9L601.8,159.9M619.2,271.8L623.4,274.7L627.0,276.2L632.5,279.3L636.8,280.2L636.9,275.8L633.9,270.0L629.6,269.8L625.8,271.1L621.2,274.7L618.8,278.5L619.3,281.4L620.9,287.5L617.9,292.0L620.4,298.1L624.4,301.2L626.5,306.8L627.2,309.7M624.9,218.2L625.9,221.7L629.5,222.6L631.9,225.0L631.2,228.2L632.4,234.1L635.4,235.3L637.5,238.8L639.7,241.5L643.8,246.7L645.6,249.7L647.2,252.6L648.8,259.3L650.5,265.7L648.0,268.4L645.9,272.2L642.7,273.5L636.0,271.7M672.0,209.6L668.1,211.4L666.5,215.4L662.9,219.8L662.7,225.3L662.8,230.1L661.3,234.2L663.6,240.8L661.4,243.7L658.8,247.3L657.5,250.4L654.7,252.7L651.6,258.3L649.8,261.0L649.3,266.0M663.7,205.4L667.6,206.3L671.7,209.1L677.8,211.4L684.0,209.3L688.9,208.5L692.8,210.6L698.3,212.3L704.2,212.0L710.9,211.4M613.0,224.5L611.6,220.1L605.4,218.8L601.2,220.5L597.8,225.4L593.3,228.6L587.6,226.7L582.6,229.5L580.6,234.1M663.9,224.3L668.5,227.7L673.9,229.0L677.4,232.5L681.6,235.8L686.1,236.4L691.9,239.3L695.7,244.6L698.1,246.3L700.4,252.9L703.3,258.5L708.0,262.3L714.6,262.8M590.0,247.1L588.7,241.6L587.4,237.5L584.6,233.8L582.2,231.7L577.3,231.9L572.8,231.9L568.1,233.4L563.6,231.8M586.9,196.6L583.8,200.8L585.6,207.5L584.7,214.2L582.4,219.0L577.0,220.9L573.8,223.1L568.3,221.1L562.0,219.8L556.4,216.7L553.7,214.0L549.5,214.5L546.2,213.6L541.1,209.6L535.2,208.7L534.2,214.5L531.6,218.3M667.8,253.0L662.6,249.3L658.0,245.4L652.2,244.4L645.8,243.1L642.3,238.7L641.6,234.6L643.8,230.6L643.6,225.9M638.4,276.9L642.0,279.0L645.6,282.2L651.9,281.3L657.2,281.9L662.0,283.2L668.5,284.2L672.4,282.3L677.9,282.5L679.6,276.6M639.3,269.6L644.7,270.9L648.2,271.6L651.6,273.7L655.5,271.3L660.3,270.7L664.9,270.4L668.6,267.0L670.7,263.8L670.7,259.4L672.7,255.4L676.7,250.9L678.2,245.2M594.3,262.9L589.6,264.8L583.1,263.3L580.0,266.2L575.6,266.9L577.2,273.5L580.7,276.6L583.1,281.8L585.8,287.7L586.5,291.7L584.9,296.5L583.4,301.5M624.6,233.8L618.5,230.9L619.1,226.9L617.9,222.6L615.3,216.7L609.8,213.6L607.4,210.1L608.5,205.7L610.8,202.5L611.6,197.0L613.6,193.8L617.8,188.5L620.2,183.2L621.8,179.8L621.8,174.5L624.6,168.1M631.1,236.9L630.9,243.6L630.7,248.8L630.5,252.5L634.1,256.7L636.5,259.3L637.9,264.1L635.1,267.5L631.8,270.5L627.7,273.4L626.5,277.4L621.4,278.9L617.7,283.2L616.0,289.2L614.4,294.9L616.1,299.9L615.0,303.1M621.6,176.0L624.9,176.3L628.1,181.7L632.6,185.6L634.9,189.0L639.2,191.0L642.5,195.9L645.8,198.7L649.6,202.0L654.3,202.8L660.3,199.2L665.9,195.6L669.3,193.9L674.8,194.6L677.7,193.9L681.7,192.2L684.6,190.8L688.5,188.9M673.4,261.1L679.0,261.6L682.5,259.7L689.0,258.9L694.9,261.7L699.3,262.8L703.3,263.9L705.3,267.7L709.0,270.6L712.0,275.1L712.0,278.5L711.4,283.5L709.0,287.5L705.6,286.1L700.7,288.4L698.8,292.7L695.8,294.5M646.9,219.2L644.8,213.0L643.8,208.2L641.9,205.2L638.1,201.6L631.2,201.7L627.4,206.3L627.8,209.9L630.5,211.4L635.3,211.0L639.2,206.8L634.7,202.4L629.8,200.8M596.5,193.1L593.9,196.2L588.5,197.9L585.2,201.2L583.0,203.7L579.1,206.3L573.8,207.2L569.0,211.0L566.5,214.8L567.3,218.8L565.2,223.4L566.5,228.6L566.9,234.5L568.4,238.7L570.3,241.4L573.8,247.1L576.8,250.9L581.4,255.0M683.5,181.1L680.6,183.6L676.5,187.2L670.8,188.1L665.1,186.4L658.7,186.0L655.4,186.7L653.3,190.9L653.3,195.0M617.3,275.2L621.7,271.8L623.3,269.2L620.5,266.8L614.7,263.6L612.1,261.3L606.5,262.2L604.6,267.0L602.4,269.9L598.8,273.1L595.8,276.8M607.5,207.4L607.9,200.7L606.7,194.2L607.0,189.4L605.8,185.9L603.1,182.6L602.3,176.4L605.7,174.6L612.1,172.2L616.0,167.4L621.7,168.1L626.6,167.5L632.3,166.2L636.7,170.0L642.7,168.4M661.9,244.8L664.3,249.2L664.4,252.8L668.0,258.3L667.7,263.3L671.0,268.9L674.0,273.5L677.5,276.9L682.1,281.7L680.8,286.7L677.5,289.6L671.1,290.8L667.2,290.5L664.2,290.8L661.5,292.1L657.2,289.2L654.4,286.7M628.2,281.3L625.5,276.8L622.4,274.8L619.2,272.9L615.4,267.5L609.5,270.4L605.5,267.4L599.4,269.1L596.9,272.5L593.4,274.8L590.0,280.7L586.6,282.9M601.7,199.5L598.6,196.0L595.7,192.2L591.9,189.9L586.4,188.6L583.3,187.8L579.7,188.4L577.9,182.0L575.6,178.2L573.8,174.0L567.7,173.5L564.4,175.3L558.9,175.5L555.8,178.8L554.5,183.6L552.3,185.8L550.8,189.0L549.9,194.4M669.5,240.9L664.1,237.1L658.6,234.2L656.2,231.1L655.0,228.2L655.5,222.2L655.9,218.8L655.8,212.0L656.5,205.1L657.0,200.5L658.4,195.8L661.1,190.6L663.9,189.1L668.1,186.2M584.2,243.1L582.3,248.6L586.5,253.1L582.3,258.0L580.3,262.0L576.6,265.8L572.1,267.5L569.4,268.9L566.1,264.3L561.5,259.1L559.9,254.2L556.0,251.4L550.1,248.4L548.3,243.3L545.4,238.5L543.9,232.9M595.8,246.2L595.2,250.1L595.8,253.4L597.9,257.4L601.4,260.9L608.4,261.1L613.6,261.0L615.7,264.0L617.6,266.7L616.1,272.2L610.5,273.2L605.9,272.8L603.2,270.7L597.5,267.9L594.5,266.0M673.0,261.8L675.9,263.3L680.5,263.5L684.4,262.1L687.2,268.4L687.8,274.9L687.7,280.7L685.2,284.2L687.4,289.5L691.7,294.7L694.5,298.3L695.4,302.0L694.9,306.1L693.6,310.0L691.7,313.0L691.0,316.0L693.1,318.6L698.6,319.5M679.3,192.2L676.0,192.3L669.9,195.3L667.6,199.4L663.2,201.1L657.0,203.4L654.0,204.2L647.5,204.9L644.6,199.6L648.0,195.7L651.3,192.9L651.8,188.6L651.8,184.3M633.8,228.4L629.5,232.7L625.6,233.3L620.9,235.3L614.4,236.4L611.9,240.1L607.2,239.4L604.0,236.2L599.3,235.0L595.1,233.5L591.4,231.3L591.0,226.8L589.3,220.6L588.4,214.3M691.1,210.0L691.6,214.8L697.4,216.4L700.9,217.6L704.9,220.8L707.7,222.0L712.7,222.6L717.4,224.8L723.5,228.1L725.9,230.2L729.0,231.2L733.8,230.8L735.2,225.7L740.1,221.9M605.5,259.6L605.2,256.0L606.4,251.4L608.2,248.1L610.4,245.4L613.6,244.1L616.7,241.7L616.7,237.8L615.9,233.8L614.6,230.7M661.2,223.9L661.3,230.3L659.0,232.2L658.4,236.5L661.3,240.4L663.2,243.8L664.2,247.8L663.4,252.6L663.7,256.6L661.1,260.7L660.4,265.1L659.2,268.3L660.7,273.8L664.3,279.1L664.0,283.2M664.0,204.5L660.0,207.4L654.0,210.3L649.3,208.9L644.8,207.7L641.0,206.7L635.8,203.8L632.8,202.4L628.2,198.1L624.7,196.3L621.3,191.6L620.4,187.8L621.9,181.7L624.5,176.0M642.3,231.5L638.7,233.8L634.0,237.4L629.0,236.5L624.7,240.7L617.9,241.9L614.1,242.1L608.9,245.9L607.8,248.8L602.0,250.9L600.2,253.3L597.5,256.5L593.5,261.1M686.6,191.7L685.3,188.0L686.2,184.8L691.0,184.6L696.8,184.5L701.0,187.8L705.0,192.6L709.1,194.3L713.0,198.4L718.9,201.2M630.0,231.1L629.1,236.1L628.4,239.5L629.5,242.4L630.9,245.3L632.0,250.6L635.0,254.0L640.4,257.3L646.8,258.7L651.3,262.0L654.9,263.8L659.8,262.5L662.9,257.5L665.9,256.6L670.6,255.8L675.9,255.7L677.8,253.0L680.4,251.0M591.4,271.7L594.2,269.1L594.9,265.6L595.0,262.5L597.0,258.5L593.8,253.5L596.2,247.3L594.1,241.3L595.3,235.8L598.1,229.4L599.9,226.6L601.7,222.5L608.0,220.4L610.7,216.1L612.3,213.4M573.5,183.8L576.7,187.5L582.0,191.2L585.6,194.7L587.8,199.2L588.5,205.1L591.3,207.3L593.3,210.7L597.6,211.8L602.5,214.8L606.7,211.9L609.1,207.3L612.4,202.3M588.5,173.0L588.5,168.6L582.2,165.7L578.2,165.9L579.4,162.5L583.9,161.8L590.0,163.8L594.5,167.1L596.0,170.8L601.9,173.4L606.6,178.5L609.8,179.8L616.1,176.9L617.6,173.2M584.9,181.2L584.1,175.1L583.8,168.2L586.6,163.9L591.6,164.0L594.6,165.9L598.5,166.4L604.0,166.3L609.1,167.5L611.0,170.3L612.0,174.2L608.7,180.3L606.2,184.8L601.9,185.1M628.3,210.4L623.8,205.5L620.5,201.0L617.9,196.4L616.9,191.0L614.4,188.2L610.9,183.8L609.1,177.1L606.9,171.1L604.1,167.8L599.4,167.9L593.0,165.5L588.4,166.1L584.2,169.9L578.2,170.4L573.6,172.8M655.4,269.3L652.5,272.8L649.7,270.9L650.7,267.7L651.8,261.9L653.2,258.6L655.4,255.3L654.2,249.0L652.5,246.3L648.3,241.6L650.2,237.9L652.8,233.2M611.1,264.6L612.7,268.1L613.6,272.6L613.5,277.8L617.2,283.5L619.8,286.1L620.6,292.4L619.1,295.8L612.5,297.9L612.5,302.7L609.4,305.3L603.4,306.3M690.6,228.5L686.9,232.0L690.8,234.1L692.0,238.1L696.3,243.1L698.9,247.7L703.0,249.3L707.6,248.4L710.8,248.1L714.7,245.2L716.0,241.0L717.7,238.2L712.2,234.7L707.1,234.0L703.0,232.1L700.7,227.6M637.7,172.8L636.5,179.6L635.4,185.4L632.7,188.1L631.1,191.0L630.8,194.7L630.1,198.2L627.6,204.4L626.3,207.4L624.7,211.5L627.3,213.3M672.4,273.6L670.0,276.1L666.7,281.6L661.9,284.2L657.4,284.2L651.4,285.4L644.8,285.5L641.2,286.1L637.8,280.7L635.1,278.6L631.6,277.1L626.1,273.1L625.0,268.1L628.5,265.4L632.8,265.2L636.8,264.2L642.3,265.1L649.1,266.1M621.3,197.5L615.1,199.3L608.8,198.0L603.1,199.9L598.8,198.5L592.4,196.9L587.9,198.0L585.2,191.8L581.4,186.1L581.9,180.6L581.9,175.4M684.7,175.3L683.9,168.7L685.2,161.9L684.4,155.5L686.1,152.5L688.6,148.4L689.6,143.7L693.3,140.3L693.5,136.9L697.4,135.3L703.8,134.8L706.1,132.2L711.1,127.7M592.5,259.1L587.1,262.4L583.6,266.5L580.7,267.9L576.9,266.9L573.7,265.9L567.7,263.0L565.1,259.9L563.8,256.5L560.8,254.2L555.0,252.5L549.3,249.3L547.0,245.0L544.2,239.4L543.4,233.6L540.0,233.5L539.3,239.0M599.5,202.7L603.8,200.3L607.4,203.5L610.9,206.5L608.9,211.3L605.6,213.8L602.9,215.9L598.4,219.8L597.5,223.8L596.4,227.7L597.1,231.3L599.8,236.4L603.7,237.3M595.8,239.8L592.5,237.7L586.5,235.8L582.1,232.7L582.8,228.0L587.0,224.1L592.6,224.2L595.6,226.3L599.3,226.4L599.3,230.9L599.4,234.1M646.8,271.9L645.2,268.1L640.4,264.9L638.1,259.2L640.3,254.6L642.0,250.7L645.5,245.3L650.8,244.8L654.3,243.2L658.6,241.4L663.7,241.5M603.5,230.3L601.4,233.4L600.8,238.5L603.4,242.6L604.4,247.5L603.1,251.7L598.7,255.2L599.1,261.9L599.1,266.1L598.7,271.0L596.5,275.9M649.5,258.0L649.4,252.6L647.2,246.6L645.4,241.6L643.0,238.2L640.1,232.4L642.1,227.6L642.1,222.0L643.5,215.9L640.7,210.6L639.0,205.9L637.6,202.3L638.5,195.9L642.5,191.6L644.9,189.0L640.4,185.3M614.4,277.7L616.7,275.4L621.2,272.6L626.0,268.7L628.1,262.5L632.5,259.3L638.8,261.6L640.3,264.5L645.1,268.3L646.5,272.6L651.0,276.7L653.0,282.7L655.7,285.6M575.3,216.6L575.0,211.3L574.0,206.8L575.1,203.4L577.2,196.8L577.0,193.0L577.1,188.3L578.0,181.5L575.3,179.3L569.4,176.8L565.8,171.6L561.0,169.4L557.9,171.8L557.5,175.1L560.1,178.4L563.4,179.8L567.5,180.9L570.6,181.5M615.3,249.5L620.7,245.3L623.5,240.4L626.4,234.5L627.5,230.0L630.2,227.6L636.9,227.0L641.2,231.7L644.3,234.5L648.0,238.3L654.6,238.6L657.1,240.6L659.3,243.5L661.8,249.0L666.0,253.2L671.0,256.4L676.7,253.0L679.7,251.4M689.9,283.5L686.4,286.2L685.2,291.1L686.2,296.3L687.5,299.4L688.0,303.7L691.5,308.1L692.3,314.5L690.5,320.6L686.6,322.9L682.6,325.7M586.3,188.6L586.6,193.8L588.0,198.7L588.6,202.6L592.6,204.7L597.0,203.9L603.2,203.7L608.1,202.4L610.7,206.2L614.7,208.8L616.6,212.8L619.5,217.0L620.5,221.7M584.4,246.5L582.0,242.0L585.9,237.5L586.6,230.7L587.3,224.0L582.5,220.9L576.1,219.3L570.5,216.3L566.6,221.1L564.8,224.3L563.9,231.0L564.6,236.2L564.0,241.6M668.2,282.3L672.7,282.7L674.9,280.3L679.8,281.0L685.4,279.0L690.1,277.4L694.7,274.2L696.1,268.9L695.3,264.7L697.9,260.6L700.4,255.7L706.0,253.4L710.5,251.0L716.9,250.5L722.8,249.6L723.6,246.2L725.3,242.8L727.2,239.4M580.0,245.5L583.4,240.0L580.9,235.2L578.5,231.3L574.8,228.7L571.1,226.6L567.5,226.1L564.0,225.9L559.1,224.3L555.8,221.6L549.6,222.9L543.5,219.7L538.0,216.0L533.3,213.1M630.6,282.1L627.7,283.4L626.4,287.5L622.0,292.3L619.2,294.9L615.9,299.1L610.4,300.5L605.4,304.7L602.4,306.5L598.5,311.8L594.7,313.3L590.7,310.3L587.0,306.9L586.1,301.8L585.7,298.1M665.9,185.8L668.2,189.1L672.7,187.2L675.9,186.5L681.3,183.5L683.9,180.8L681.3,176.6L678.7,172.6L679.2,168.1L678.2,163.8L673.8,160.7L667.8,158.9L662.6,163.3L656.2,161.5L653.1,160.4L650.0,158.1L647.4,155.6M607.6,254.1L604.0,254.0L601.6,255.9L598.6,261.0L596.7,266.5L593.7,269.6L589.3,274.4L587.0,279.0L586.1,285.3M631.6,187.3L626.5,185.1L620.9,185.9L615.7,189.1L610.6,193.3L606.3,196.4L603.2,193.6L602.3,190.1L602.3,185.6L598.6,183.9L593.9,184.1L590.7,179.9M680.3,230.4L677.2,230.9L671.8,230.1L667.1,229.9L666.0,236.0L664.3,241.3L662.1,245.4L656.4,247.5L652.1,246.0L649.8,250.2L648.5,253.1L649.4,259.5L645.9,264.5L641.1,267.6L640.2,272.9L634.9,272.5M661.3,204.3L654.8,202.1L650.0,204.3L646.6,205.1L643.0,209.5L641.2,213.0L638.4,215.7L638.7,220.6L636.5,226.7L635.6,231.7L634.0,236.9L632.0,239.4M685.7,178.0L679.5,176.4L676.1,174.0L674.0,168.2L668.8,168.5L670.3,174.7L672.7,180.9L672.3,185.9L675.5,191.4L681.7,191.8L684.0,189.7L685.3,186.9L688.5,184.2M603.4,278.8L601.0,280.7L598.1,286.8L591.9,289.8L588.4,295.6L584.6,299.7L581.6,300.6L579.9,305.0L580.2,310.5L579.9,313.8L584.2,317.5L588.4,319.9M619.7,204.3L614.1,206.4L609.3,201.4L607.1,196.7L606.0,193.7L601.9,191.3L598.2,186.0L594.3,187.7L589.9,193.0L585.0,196.5L582.8,199.0L578.8,198.0L575.4,198.1L570.6,201.0L565.0,203.9L560.2,208.3L562.3,215.0M597.9,181.5L598.8,187.2L598.9,191.0L601.5,192.8L602.4,196.8L601.4,201.1L599.1,204.4L594.9,209.6L592.0,215.5L586.1,219.0L580.4,221.6L574.9,219.9L570.0,220.9L565.1,221.2L560.5,222.7L557.9,226.6M637.3,184.9L637.5,191.6L638.7,198.1L638.5,202.0L643.6,206.0L644.9,208.8L644.4,214.6L644.6,218.1L641.0,221.3L636.7,224.7L631.0,223.2L624.6,220.5L618.5,217.7L614.9,215.2L611.9,210.2L608.5,208.4L602.9,206.5L598.8,208.1M666.7,286.9L670.8,287.7L674.0,287.6L679.4,290.9L683.2,293.1L689.3,290.6L692.6,289.0L696.1,288.6L702.8,288.3L706.8,287.7L711.6,287.9L715.4,290.0L721.5,289.9L723.7,287.6L724.3,284.1L725.1,280.7L721.8,274.7L714.9,273.7M693.3,229.0L692.1,235.1L697.1,239.8L699.1,242.7L703.7,243.6L701.7,248.9L700.7,254.3L700.1,259.7L698.9,263.7L697.2,267.0L691.3,269.0M604.9,219.4L610.4,215.5L613.6,211.0L617.5,207.0L621.5,202.7L624.5,200.9L627.7,196.0L624.6,190.1L621.4,187.6L618.7,182.3L614.6,178.5L608.8,175.7L603.9,173.6L601.0,170.9L601.8,175.8L598.3,180.6L593.6,184.2M598.2,257.4L595.1,252.6L598.3,249.6L603.0,247.8L607.9,243.6L610.0,241.0L613.6,240.5L616.5,242.4L620.4,244.9L623.5,242.4L626.3,241.2L632.7,239.6L635.8,241.5L641.0,243.6L646.3,247.8M573.6,277.3L573.8,271.3L577.2,265.6L582.6,263.0L587.9,259.6L592.3,261.6L597.6,265.6L602.3,270.2L604.9,273.5L607.8,274.6M666.0,191.3L666.8,196.3L666.4,203.2L666.3,207.0L668.4,209.7L672.8,212.3L674.9,209.9L681.0,206.9L684.7,206.9L689.1,210.4L692.3,211.8L696.5,207.6L701.2,205.5L707.8,205.2M627.3,179.9L629.9,184.5L627.9,189.7L624.8,194.4L621.4,194.6L615.8,195.9L611.3,192.6L609.4,189.9L607.9,183.6L607.5,180.5L608.8,176.4M640.5,171.7L639.7,165.8L635.3,165.6L633.0,167.6L628.0,171.4L624.4,173.8L620.1,176.0L614.6,172.9L615.4,166.0L613.7,161.1L610.8,157.2L607.5,154.5L603.8,155.3L599.9,153.2M686.3,221.0L688.3,217.6L691.7,214.7L693.3,209.8L690.3,204.5L687.8,198.8L684.8,194.9L681.8,196.4L677.5,198.2L674.1,201.1L670.0,205.4L666.6,210.7L664.8,216.8L661.3,221.4L659.5,226.2L661.5,232.2L663.2,235.8M675.8,177.5L672.3,177.0L667.8,176.5L661.1,178.4L656.4,181.8L653.1,183.1L649.2,186.6L643.4,187.9L638.0,185.6L634.0,182.3L628.4,180.8M631.0,279.6L636.3,280.5L642.5,280.9L646.1,285.5L647.7,288.1L651.2,292.3L654.9,297.3L654.8,303.6L656.5,307.7M638.3,277.2L636.4,281.2L632.4,286.0L630.7,289.1L630.6,295.2L630.3,298.8L627.6,304.1L627.3,309.2L624.9,314.8L625.9,318.8L625.9,323.8L628.7,325.9L629.5,330.7L630.5,337.1L631.5,340.4L629.3,345.6L626.4,347.2L621.2,351.1M595.5,271.1L593.5,275.1L594.8,281.9L595.0,286.8L594.4,292.1L594.0,297.5L599.4,301.6L602.5,305.6L602.9,311.3L600.4,316.2L601.5,321.7L605.0,326.7L610.7,328.2M609.9,233.1L611.5,237.0L615.3,238.8L617.5,242.3L621.3,247.7L622.4,252.3L626.9,255.5L633.3,257.5L636.6,257.6L641.0,256.2L644.7,261.4L649.4,264.4L653.4,262.6M630.2,244.8L627.2,246.6L628.0,251.9L626.4,256.0L626.8,261.2L629.4,266.1L629.5,271.7L631.1,275.5L631.9,281.9L633.5,287.4L628.9,291.7M578.7,183.3L574.8,188.9L574.2,193.7L574.4,199.1L574.4,205.3L574.8,209.6L571.4,213.1L571.5,217.8L570.0,221.6L568.7,226.0L569.3,229.5M616.9,195.4L619.1,189.9L618.2,185.3L617.5,179.7L616.7,175.9L619.3,172.7L623.7,170.9L625.9,165.7L624.4,159.5L618.7,157.0L615.3,154.2L611.3,152.2L608.8,146.5L607.8,140.5L609.4,133.9L607.7,130.5L605.5,125.1L604.8,119.9M609.2,254.7L610.0,249.8L609.7,246.4L612.2,240.5L611.9,234.6L609.3,230.5L612.9,226.7L618.3,224.0L622.4,225.4L624.8,227.9L630.6,227.9L633.1,226.0M594.4,285.9L591.0,284.3L587.8,280.5L581.1,279.4L575.2,279.4L573.3,275.4L570.7,272.9L567.3,270.0L565.0,265.9L558.4,263.6L554.7,262.0L547.9,262.7L543.4,262.2L537.2,262.4L530.9,264.6L528.5,269.5M687.9,252.6L683.9,257.5L680.6,260.6L677.1,261.1L674.4,259.1L669.5,256.8L663.9,254.5L659.6,252.1L653.4,249.3M688.4,191.3L683.1,190.0L678.3,191.6L673.3,195.1L671.9,198.4L667.8,200.8L666.0,203.3L662.2,202.9L656.7,201.4L650.4,202.7L645.9,202.1L641.9,205.0M641.8,235.2L641.1,228.9L638.5,224.1L638.1,221.1L639.0,215.0L636.6,211.0L636.7,205.6L635.8,199.1L636.1,194.0L637.0,191.2L640.5,188.9L640.8,184.3L643.3,180.6L645.3,177.0L649.2,176.5M691.4,269.5L686.9,266.8L683.7,265.0L677.6,265.8L673.0,269.5L670.4,273.1L666.4,276.9L661.9,281.7L660.2,284.2L656.0,284.6L652.4,283.5L648.3,282.2M669.9,269.5L669.3,273.8L668.6,279.4L665.9,282.3L666.0,285.8L665.5,292.3L663.4,295.8L662.6,299.2L664.5,302.2L667.4,305.1M663.5,246.1L665.7,243.5L668.9,242.7L674.9,243.5L680.2,240.2L684.6,240.7L686.6,238.1L692.5,234.4L693.8,228.5L689.7,223.8L688.3,217.1L684.7,214.3L682.2,209.5L676.8,207.2L671.7,207.8M669.9,267.0L670.4,261.9L668.7,258.4L663.6,255.8L662.1,249.9L661.3,246.7L659.5,242.3L656.3,238.0L653.4,236.9L649.3,232.8L649.9,227.1L650.0,221.3L650.8,218.4L654.3,214.7L659.3,210.1L664.0,209.5L669.4,212.5L671.8,215.1M616.6,183.3L620.0,181.8L626.1,181.5L631.3,181.4L638.2,182.2L641.9,180.8L644.9,177.6L644.9,174.4L643.6,170.0M598.4,248.4L602.8,247.0L607.8,242.3L609.1,238.9L608.5,233.8L607.6,230.4L605.3,226.8L600.9,224.5L598.1,220.0L594.4,218.4L592.4,213.9L585.8,214.3L581.9,213.4L578.5,209.2L576.6,205.5L573.3,203.6L570.4,202.1M684.8,225.9L681.4,228.2L682.5,234.8L682.9,237.8L683.0,241.5L683.4,245.2L683.2,248.2L682.3,253.3L686.1,257.1L690.3,262.4L696.3,262.5L699.8,263.0L705.2,262.1M647.5,242.6L647.4,248.2L648.5,253.0L649.8,255.8L649.7,261.9L655.1,266.2L660.7,268.6L665.3,272.9L669.8,275.1L674.8,278.0L680.4,277.1M621.3,244.8L615.6,247.4L609.9,248.6L606.2,250.1L602.6,248.8L595.7,249.7L589.9,251.6L586.8,256.9L585.7,259.8L581.2,262.6L578.4,267.3L574.5,270.2M629.3,209.3L635.4,209.3L639.3,209.0L642.1,206.8L644.8,204.6L645.2,198.9L643.6,195.0L643.9,191.3L643.1,186.7L643.1,180.1L641.3,176.2L636.3,173.4L631.2,175.7L628.3,176.7L624.9,177.1L622.2,175.5L618.6,175.5M687.9,225.4L682.2,226.5L675.2,226.4L672.3,227.1L667.5,228.0L661.6,228.8L657.4,228.0L652.4,223.2L647.2,218.7L648.6,212.0L653.9,210.4L659.6,207.8L664.5,203.9L668.4,202.5L675.3,202.5M588.9,271.8L591.9,274.7L598.1,275.5L604.3,274.0L607.3,272.3L610.4,268.9L614.3,267.0L615.0,262.6L619.1,260.8M660.6,264.0L660.9,268.1L654.2,267.9L648.5,266.0L645.1,261.7L641.6,259.3L642.0,255.1L639.0,252.0L637.0,248.9L631.0,247.3L628.4,249.0L622.9,249.2M601.4,277.8L600.5,283.7L597.6,288.7L591.9,291.4L588.0,291.2L584.8,288.8L580.2,291.7L576.7,292.3L571.6,288.4L569.4,284.3L570.7,281.2L572.0,277.1L577.5,275.1M615.5,266.2L610.9,266.6L607.0,263.4L604.4,258.0L602.3,255.8L601.8,251.6L600.9,248.3L598.5,245.0L595.3,239.3L593.6,236.3M593.9,263.1L598.8,260.2L603.1,261.4L608.2,262.4L614.9,264.0L616.2,266.9L615.9,271.5L615.1,275.6L614.5,278.9M579.1,195.6L581.1,191.7L581.2,187.5L581.4,183.5L584.7,180.1L589.6,179.5L594.4,179.8L596.9,181.8L600.3,186.1L605.2,185.8L608.9,185.5L611.5,188.6M573.1,266.1L577.4,265.3L582.4,264.0L587.3,263.8L589.7,267.5L593.3,270.7L598.8,274.5L602.0,280.5L599.4,283.0L597.3,285.4M684.2,227.6L685.1,233.7L688.1,236.6L692.1,241.0L695.9,245.1L701.7,247.7L708.6,247.1L711.9,247.3L715.6,248.5L718.8,249.2L724.4,249.2L727.3,253.8L730.4,255.7M642.6,189.7L641.0,195.3L639.4,198.2L642.7,199.7L642.6,203.7L643.2,210.1L645.0,213.1L647.0,218.5L648.4,224.1L650.9,226.9L656.6,227.8L660.8,231.3L661.9,235.4L662.9,238.6L664.5,242.0M582.8,214.5L579.1,210.5L578.3,205.6L580.4,201.9L577.2,197.8L575.2,195.3L574.1,191.9L574.8,188.5L577.5,182.1L579.5,179.5L582.6,178.5M676.5,239.9L673.3,243.4L670.0,245.2L667.7,249.9L670.0,253.9L670.6,257.9L672.9,264.3L673.6,270.7L672.8,277.0L675.5,279.9L675.1,286.8L677.5,290.9L681.2,296.0L680.1,302.6M650.9,241.9L650.6,236.4L649.8,229.5L648.2,226.0L648.1,221.3L652.3,222.7L658.0,224.9L663.6,224.4L667.0,225.9L671.3,227.3L674.7,230.2M662.1,182.8L660.4,179.0L658.0,175.6L653.2,172.3L647.8,168.7L642.8,170.4L638.7,166.2L637.8,162.3L636.8,159.1L634.5,156.6L630.9,162.0L625.5,162.9M676.0,180.0L676.3,176.1L677.8,170.8L679.7,166.1L682.8,162.6L686.9,157.5L689.9,152.7L693.1,149.4L698.8,149.6L704.7,150.7L711.3,149.2M675.6,183.5L669.3,182.2L665.8,181.7L661.7,181.7L658.9,180.4L655.1,178.9L652.2,176.5L649.4,174.9L646.0,170.8M607.8,211.6L613.8,214.4L614.4,218.3L614.4,224.1L614.8,227.3L613.8,232.7L614.6,236.8L615.1,242.4L611.9,246.9L612.1,252.2L614.0,257.4L613.7,263.8L608.9,268.1L603.4,272.0M669.9,260.1L675.1,262.7L678.4,268.1L680.3,272.5L681.4,277.3L685.1,280.6L689.7,282.8L692.6,280.9L695.6,279.7L700.2,277.3L705.5,276.4M657.3,236.2L664.0,235.2L666.3,238.0L668.4,241.7L670.2,244.5L672.8,246.5L670.5,252.6L667.9,255.3L663.8,258.7L661.4,261.2L657.3,263.8L654.2,264.8L649.8,265.1L642.9,265.8M653.1,284.7L652.2,277.8L655.0,274.2L657.2,272.0L661.8,268.7L663.7,264.1L668.7,262.4L671.2,265.0L677.0,264.1L681.1,265.0L686.1,266.7L689.2,271.6L693.6,272.4L697.2,273.6L703.1,272.9L704.5,269.7L709.2,265.1L715.0,262.6M646.3,253.0L650.5,255.2L651.9,259.9L654.5,264.7L655.0,268.0L657.1,271.4L659.6,277.5L655.7,282.6L652.6,285.1L647.2,287.3L644.6,291.4L643.2,294.2L640.9,296.8L639.7,299.6L638.6,303.9M691.5,276.0L688.1,277.6L684.9,283.2L684.6,289.3L683.7,294.7L685.6,298.3L687.4,302.3L689.8,308.4L693.0,311.3L695.6,315.4L697.5,321.7L697.8,325.6L697.7,329.1M644.4,216.2L646.0,222.5L646.2,225.5L650.8,228.5L654.8,229.7L660.5,232.5L663.7,237.5L668.4,241.3L672.2,238.5L674.7,236.3L680.8,236.5M596.2,243.7L593.4,240.1L589.4,235.4L588.8,230.9L582.3,229.7L580.9,226.8L575.9,223.9L571.7,220.6L567.2,219.5L561.8,217.3L555.5,218.1L552.9,212.5L551.4,207.4M668.6,243.8L671.5,248.1L671.7,251.4L675.0,254.5L677.4,256.3L680.6,257.3L685.7,255.8L688.9,254.5L689.7,248.1L685.6,243.4L682.8,239.3L677.9,236.2L674.1,233.9L671.3,229.0L666.0,226.7L662.9,225.4L658.3,224.3M603.5,195.5L601.0,198.6L596.4,203.5L594.8,208.7L593.2,213.5L592.4,219.5L589.2,223.2L587.5,228.5L584.0,232.8M635.0,199.2L641.4,197.9L644.9,199.1L646.2,202.2L648.3,208.3L653.0,209.5L657.7,208.2L658.9,211.2L662.2,216.5L666.5,212.8L670.1,210.0L669.8,204.0M672.0,206.3L670.3,203.8L669.1,198.8L667.5,193.3L667.7,187.3L668.1,180.7L668.7,177.6L671.3,172.8L673.8,169.7L676.6,168.2L678.8,165.6M622.6,207.4L618.7,203.5L616.6,201.2L611.6,203.9L608.1,208.5L604.2,212.2L600.8,210.7L596.5,207.4L595.9,201.9L593.6,199.9L590.2,198.6L589.2,195.2L587.7,191.7M603.1,272.7L607.1,275.0L612.4,276.7L616.1,278.6L619.8,280.6L622.8,282.3L628.1,280.9L631.6,280.6L635.1,284.9L636.2,288.7L639.7,292.0L642.5,295.1L646.2,299.7L644.2,305.8M609.4,271.6L614.6,269.6L618.3,268.2L621.2,265.0L624.0,262.4L626.7,259.1L627.1,254.4L625.3,249.0L620.2,246.8M685.4,275.8L688.6,276.8L693.6,281.7L692.9,285.3L693.2,289.2L695.6,294.5L701.0,298.3L705.5,298.6L710.8,300.4L716.0,298.7L720.1,297.4M616.2,220.5L612.6,224.5L613.9,227.8L615.8,233.8L614.1,240.2L611.3,242.3L605.8,240.5L601.3,238.6L597.0,234.7L592.5,231.9L588.0,229.1L587.8,223.8L589.3,219.5M654.2,254.0L653.1,260.0L650.9,262.8L647.0,265.5L643.3,264.2L639.2,259.4L637.6,254.4L634.7,252.5L634.6,248.3L633.1,242.3L628.1,241.0L623.6,239.2L619.3,238.4L615.1,242.1M588.7,286.9L592.8,292.3L595.0,295.1L599.6,299.9L606.6,299.2L611.6,298.9L616.1,299.8L622.5,298.5L628.4,298.0L633.4,295.3L638.5,292.2L640.7,286.2L643.7,280.7L648.8,277.4L653.5,279.2L657.4,281.3L659.3,283.9L665.4,284.5M646.2,250.9L642.4,246.8L643.9,243.7L649.9,241.5L656.2,240.9L660.5,242.4L665.2,239.1L665.0,236.0L665.3,230.7L665.0,225.3L665.5,221.8L664.3,217.0L661.8,212.5L655.5,215.2M641.6,197.1L638.0,193.4L640.0,189.6L640.5,186.3L638.4,181.8L639.5,178.3L643.5,174.7L645.9,170.6L644.1,165.9L645.7,161.8L649.4,160.6L653.3,157.2L653.9,153.2L652.8,149.8M662.6,231.0L659.1,236.2L658.6,239.5L657.6,244.3L655.8,248.5L658.3,252.7L661.4,256.0L663.4,259.8L665.7,264.9M631.8,178.3L626.7,180.2L622.6,181.7L619.6,187.5L615.3,191.9L611.4,192.4L605.1,194.5L601.5,192.7L598.3,191.0L594.5,187.7M687.2,249.9L681.0,252.0L675.8,249.3L671.3,245.4L667.7,244.9L664.0,242.9L658.0,242.8L653.2,240.0L649.7,242.6L646.8,244.4L645.9,249.7L642.6,252.0L637.2,254.3L633.7,255.0L630.1,254.9L625.9,255.6M637.6,177.1L636.5,170.9L641.2,168.6L646.2,167.8L648.2,164.9L651.8,165.3L658.3,165.5L661.8,167.0L665.8,168.4L664.8,173.1L666.6,179.2L670.1,183.6L673.5,184.5L679.4,182.3M641.7,230.4L641.6,235.1L635.1,237.1L631.0,239.1L626.3,235.8L619.4,236.0L614.2,234.1L608.9,232.6L605.7,231.0L600.6,226.9L596.3,226.2L590.3,226.9L585.9,223.1L583.0,221.4L580.9,219.1L580.2,213.3L582.5,208.1M573.0,198.7L575.9,200.0L580.6,199.6L584.9,196.5L588.0,191.9L590.0,188.5L592.8,184.5L595.1,181.8L595.9,178.8L596.5,173.2L595.1,169.9M641.2,244.4L640.5,251.1L639.1,254.8L635.7,259.2L631.3,259.2L626.2,263.6L624.4,266.1L624.3,270.2L622.8,273.5M605.6,212.5L605.0,206.8L605.1,203.2L601.5,201.5L597.9,199.8L594.3,201.7L590.6,202.1L588.3,205.1L582.8,202.6L578.4,198.5L575.7,194.7L572.3,192.0L568.4,190.2L565.3,184.2M687.6,195.5L688.5,192.0L692.7,188.0L690.8,185.0L687.8,179.2L684.9,173.8L680.0,174.2L677.1,173.0L670.6,173.2L665.9,172.8L661.1,172.0L656.3,168.1L651.9,163.3L650.1,159.9L649.5,155.7L646.3,152.2M640.3,251.4L643.5,256.8L642.1,260.7L644.7,266.4L645.3,269.9L643.1,273.4L640.5,275.0L633.6,275.4L628.5,278.1L624.3,282.3L620.3,281.1L615.3,276.7L609.5,276.9M572.1,236.0L568.4,239.3L567.3,242.1L566.2,246.8L565.7,252.8L569.5,257.6L573.7,259.5L575.7,262.1L574.0,264.5L573.8,268.3L572.3,271.6L572.2,278.5L573.1,281.6L574.4,287.4L579.2,292.4M614.9,236.1L621.5,237.6L626.6,236.1L630.8,238.6L636.7,240.3L639.6,241.3L644.1,244.4L647.3,244.3L653.8,244.1L656.8,245.3L661.1,244.6L662.6,247.2L667.0,251.7L667.6,254.7L669.5,257.1L671.6,260.1L671.8,266.3M669.8,205.3L673.0,209.3L675.7,215.0L679.0,216.3L683.8,211.9L688.0,209.8L690.4,207.4L690.3,204.3L685.6,199.2L684.9,193.4L686.2,188.7L685.1,182.5L684.9,178.3L684.8,171.7L686.4,167.8L688.5,162.4L694.6,159.0M617.3,268.7L620.4,268.3L625.9,270.2L631.4,270.4L635.1,272.8L639.9,274.8L643.0,273.9L646.5,275.5L649.1,277.1L653.4,278.8M676.3,249.9L679.7,255.4L681.2,259.0L684.8,263.0L688.2,264.4L692.9,263.3L697.0,263.0L699.4,259.6L695.8,254.9M646.7,196.0L647.6,202.2L646.6,206.6L643.7,209.5L642.1,212.6L641.8,216.5L646.3,218.7L650.3,220.9L652.3,227.4L652.9,233.0L653.2,239.6L654.4,244.2L654.3,248.6L655.2,251.5L657.9,253.1M586.8,200.4L590.6,199.0L594.9,194.7L594.1,188.5L597.7,187.9L602.8,190.9L608.3,187.0L613.8,183.0L619.2,185.6L623.9,188.7L630.6,187.1L636.5,187.1L639.3,188.2L638.4,191.6M687.7,233.7L682.5,237.4L681.4,242.9L679.1,249.0L678.2,253.1L680.9,258.1L679.4,261.6L680.8,267.2L678.7,270.9L673.6,275.3L671.8,277.7L667.9,282.2L665.6,286.4L667.3,289.2L668.1,293.3M607.4,202.6L612.0,202.7L618.7,204.3L623.4,203.0L628.6,202.7L633.7,200.0L638.2,195.7L644.0,194.1L648.2,194.2L653.7,191.4L657.6,191.1L662.2,192.6L665.6,195.7L671.4,194.8L677.1,198.3M587.4,260.3L590.1,254.7L593.1,254.0L598.5,252.5L601.2,247.0L601.8,242.8L601.4,237.7L600.9,234.3L599.8,231.4L594.2,230.8L591.8,233.7L589.3,240.1L588.2,243.1L585.8,246.0M628.4,223.8L624.4,221.7L625.8,217.2L626.9,214.1L629.2,208.7L628.6,203.9L630.6,199.4L633.5,197.6L638.0,195.2L641.7,193.8L648.4,193.0L654.7,191.6L657.8,191.2M638.7,199.4L633.6,197.6L632.6,191.2L626.6,189.9L624.2,185.6L625.7,179.8L625.5,175.3L626.4,172.2L625.8,168.0L625.3,163.0L622.6,160.1L620.2,158.0L617.5,153.0L615.4,150.7M621.6,200.2L622.5,203.9L626.0,205.0L630.7,206.4L633.9,208.7L638.9,210.0L643.2,214.1L646.6,218.8L649.4,222.4M598.9,187.9L602.7,193.4L604.3,198.4L606.5,203.3L606.2,208.1L604.9,211.8L606.4,218.1L609.5,220.9L614.1,225.4L617.8,226.1L622.5,221.4L620.4,216.6L622.0,210.5L625.1,208.3L628.5,204.9L631.3,201.7M575.5,283.7L577.7,280.4L577.0,276.4L575.9,273.4L575.2,268.7L577.1,265.7L582.4,263.5L587.5,263.6L591.0,263.3L594.0,260.5L599.9,258.7L601.4,255.4L606.2,256.5L610.6,256.7L616.0,254.2L617.4,248.2L615.3,244.4L611.7,239.2M623.8,193.8L624.0,199.0L627.5,201.3L632.4,202.4L635.7,200.2L639.2,197.1L645.7,198.9L649.1,197.8L655.1,195.1L658.3,194.3L661.4,195.6M690.0,181.2L690.1,176.9L690.5,173.2L690.1,169.4L690.9,164.4L692.6,160.0L691.4,157.2L688.7,153.6L686.0,151.3L681.2,150.1L677.9,151.9L675.3,153.4L674.0,156.9L672.1,162.2M641.3,233.3L638.9,230.1L633.6,228.6L627.6,229.6L621.4,229.0L618.0,230.0L611.4,228.3L606.3,225.7L601.8,226.2L599.8,228.6L594.3,229.9L593.0,233.0L592.0,239.1M658.0,189.3L653.1,185.4L648.6,181.6L641.9,180.6L638.4,182.1L636.8,184.7L631.0,188.0L628.9,191.5L630.1,197.8L626.1,202.7L622.3,203.8L618.0,205.9M652.0,275.5L654.8,270.0L655.4,263.2L660.1,258.8L665.4,255.6L667.8,253.6L666.4,248.6L667.7,245.6L670.1,242.3L672.4,239.3L678.0,239.0L681.4,241.2L680.7,247.5L678.2,252.6M606.5,248.6L611.4,253.5L610.6,259.0L605.5,261.8L603.4,265.3L596.5,264.5L590.0,264.9L586.3,263.3L582.6,261.3M631.4,281.0L632.5,284.2L635.8,288.1L639.3,285.9L642.6,280.4L645.6,275.3L645.3,268.5L647.0,264.5L649.3,260.8L647.7,258.2M606.4,199.4L609.0,197.2L613.9,194.5L618.4,189.9L620.9,186.8L625.8,186.9L628.5,184.4L631.6,182.5L633.6,180.1L637.2,176.6L641.7,176.8L647.8,175.2M595.8,209.4L602.2,211.6L606.1,207.8L612.3,204.9L618.2,201.8L621.3,199.8L626.0,198.5L628.1,194.2L627.8,189.0L623.5,184.0L623.5,179.5L628.5,178.5L632.9,176.0L637.7,174.8M621.0,240.9L614.2,242.7L610.8,243.7L608.2,249.3L607.2,255.8L608.6,259.4L612.0,264.9L617.8,265.9L621.5,267.5L625.6,266.7L630.5,266.2L636.1,266.1L638.7,260.9L639.5,257.9L639.0,251.4L639.3,248.3L638.0,244.4L635.2,238.9M578.0,284.7L574.6,286.0L573.9,290.6L576.3,297.0L575.4,301.2L575.2,304.5L576.9,310.9L575.7,315.8L576.7,320.0L575.5,326.5M652.4,256.6L649.4,257.5L646.0,256.9L642.2,253.1L636.0,251.1L631.0,246.8L628.0,244.2L625.1,243.5L622.4,241.8L618.4,240.3L614.7,238.1L611.2,238.1L606.6,241.0L600.9,242.5L598.9,245.6L594.6,248.1M620.1,269.6L620.0,272.9L619.3,277.2L616.6,280.4L616.9,284.4L617.0,288.0L611.2,290.8L605.2,294.0L600.2,298.3L596.8,302.5L593.8,303.9L588.3,308.0L582.1,309.7M686.8,220.9L689.1,217.5L693.4,213.7L698.2,210.9L699.7,207.1L701.1,203.2L701.1,197.0L703.6,194.6L703.4,189.2L699.3,184.5L698.0,178.1L695.3,173.8L696.1,170.6L696.4,167.4L694.8,164.6L691.1,161.5L690.4,156.6L685.5,154.5M600.1,278.4L602.3,272.0L603.9,269.3L606.9,265.3L606.4,259.0L608.4,255.8L611.6,252.5L613.9,248.3L617.3,243.8L623.9,243.9L627.1,245.2M685.6,245.1L689.0,242.8L694.8,240.9L699.5,243.1L705.2,243.3L710.9,244.5L715.2,245.8L721.2,245.5L724.6,246.1L724.1,242.7L725.0,238.5L726.3,234.9L726.0,229.5L720.3,226.4L717.5,223.0L712.7,220.7L708.1,219.4M588.9,266.0L587.8,262.5L588.1,257.9L592.0,253.3L598.6,252.7L603.9,256.9L608.3,258.3L609.2,263.0L613.5,266.6L614.5,270.6L618.8,274.5L623.9,274.4L629.3,273.1L633.1,270.6L638.0,271.0L643.0,271.8M691.1,198.7L687.8,194.7L688.7,189.3L688.3,185.0L686.3,179.5L689.0,175.1L691.6,173.3L695.8,171.4L700.2,168.2L705.5,164.9L707.7,161.0L711.2,160.8L715.1,159.7L719.1,164.6L722.1,168.8L726.5,172.2L731.4,172.3M589.6,185.9L586.8,180.2L588.2,175.2L588.5,170.1L584.1,169.0L579.8,164.3L576.5,161.0L574.8,156.6L572.0,154.7L567.4,158.4L563.5,161.7L564.5,166.5L568.8,169.8L573.4,172.6L577.6,174.6L581.0,173.3L586.2,171.0M576.9,230.9L580.5,225.8L580.8,220.5L584.7,214.9L583.6,208.9L579.2,207.2L579.8,200.4L575.3,195.7L570.7,194.7L566.6,192.4L562.6,188.0L563.3,185.0L560.2,181.2L565.1,179.3L567.8,175.4M584.4,240.5L577.4,240.7L574.0,242.2L569.8,244.0L567.4,248.5L561.6,248.6L555.2,251.3L551.7,252.4L546.4,256.2L543.4,254.6M586.8,186.8L588.4,182.2L590.6,176.9L588.7,173.1L592.0,169.7L595.7,163.8L600.0,158.8L604.1,155.9L606.2,153.2L611.6,149.4L617.7,146.5L622.4,146.7L626.3,144.6L629.5,144.5L635.6,146.7M621.5,174.2L624.9,176.3L630.1,176.9L630.7,180.2L633.3,182.0L633.5,186.7L637.6,191.5L638.9,197.2L639.5,203.7L641.9,206.5L648.8,207.9L654.8,210.3L661.5,211.8M681.0,243.7L684.8,243.7L686.9,241.0L690.2,245.0L692.8,249.6L689.5,253.1L684.6,254.3L679.4,255.8L673.3,254.4L669.4,250.7L666.8,247.0L663.6,245.3M659.1,265.6L665.8,264.9L668.0,259.6L672.7,258.0L675.6,253.6L680.5,250.0L681.8,243.4L684.5,240.0L683.8,235.3M678.2,254.3L678.4,250.7L678.3,245.3L677.5,242.0L678.8,237.5L678.6,234.1L681.6,229.1L683.2,226.4L688.0,223.1L689.9,219.4L689.3,214.9M578.8,191.3L583.1,193.0L587.1,195.7L590.1,197.1L593.5,191.5L595.0,185.8L591.2,181.6L586.0,182.8L583.1,184.5L578.2,186.2L573.4,185.8L569.5,187.1L563.7,184.4L558.8,182.2L554.0,181.6M676.2,266.4L676.3,261.6L679.5,261.2L684.9,259.9L686.3,263.1L688.2,265.6L691.8,268.3L696.7,268.3L695.6,274.2L692.4,277.0M576.8,172.5L573.6,178.5L568.1,182.4L563.9,186.1L561.0,192.5L557.8,194.2L555.6,198.0L550.2,199.2L546.0,200.6L541.7,202.3M633.1,211.5L637.2,208.9L638.8,206.2L640.0,202.3L638.6,196.0L635.3,195.3L632.3,193.7L626.2,195.8L621.0,195.8L615.8,194.2L612.8,197.4M603.0,205.8L604.9,203.3L606.1,198.2L611.1,194.6L613.5,190.3L617.4,187.0L622.3,187.2L627.0,186.8L632.1,188.6L635.1,190.5L638.5,190.2L642.4,191.6L644.4,193.8L647.3,197.4M608.6,221.1L602.6,219.6L598.9,220.7L595.3,221.5L590.0,222.9L584.8,220.2L581.6,221.7L580.0,226.8L579.2,230.2L582.8,234.9L589.3,237.1L591.9,240.0L596.3,243.7L599.5,246.9L601.2,251.9L601.5,256.1M591.7,252.8L594.8,254.9L596.6,251.2L595.3,247.4L593.4,244.5L593.5,240.6L591.9,234.0L591.9,227.6L587.9,227.0L586.6,223.4L587.4,219.0L588.9,216.3L590.3,210.7L589.8,207.4L588.7,202.4M649.6,238.1L652.3,235.1L655.9,234.7L658.2,232.3L664.3,229.7L670.5,230.9L674.0,229.0L678.4,226.1L683.2,221.2L686.4,220.2L692.2,217.7M588.6,182.7L594.2,182.0L597.4,180.9L603.4,179.0L609.7,180.5L615.6,180.8L619.3,183.1L619.8,188.6L619.2,194.4L619.4,199.2L616.1,205.1L613.6,210.9L608.7,210.5L607.9,207.4L606.6,203.4M622.3,281.8L618.6,281.3L615.5,279.6L614.3,276.7L613.0,270.8L615.7,267.5L617.4,264.2L619.3,260.5L625.4,261.8L632.1,260.4L638.5,262.0M628.2,267.6L625.8,271.6L621.9,274.3L623.1,279.9L626.3,283.1L631.6,284.1L634.6,285.7L636.2,288.9L637.7,294.4M632.0,251.6L632.9,248.7L630.3,243.6L629.6,237.0L627.4,231.4L629.2,226.5L632.9,225.7L636.0,223.0L641.1,222.5L645.6,223.2L650.0,221.8L655.7,220.2L659.5,217.5M661.0,278.0L661.7,281.3L660.4,286.2L657.7,292.7L656.2,296.4L652.5,296.3L648.2,297.1L643.8,299.3L641.9,305.5L637.5,305.7L633.6,305.3L628.0,304.5L623.2,304.0L619.5,309.4L617.5,313.2M575.9,283.3L570.2,284.1L567.1,283.3L563.6,281.9L559.5,280.8L557.1,284.9L553.4,290.8L551.7,294.3L547.9,298.5M607.4,229.0L608.5,232.0L611.6,237.2L617.0,241.5L621.5,241.9L627.7,241.8L631.9,241.0L636.4,240.0L638.9,233.7M675.1,282.3L671.9,279.2L672.2,275.2L668.1,270.2L662.3,268.5L657.1,268.0L650.4,268.3L644.2,270.9L637.9,271.7L631.8,274.0L627.2,274.3L622.2,271.3L616.9,275.3L611.6,272.7L611.6,266.4L611.5,263.3L611.6,258.9M631.4,241.4L631.7,246.4L630.4,252.8L633.0,256.1L639.3,253.1L645.2,253.0L649.0,253.1L651.4,247.7L655.8,244.6M664.6,181.3L660.9,180.6L654.7,180.3L649.7,182.2L645.1,182.9L640.7,184.6L634.8,186.1L630.6,185.1L624.4,184.6M650.7,205.2L647.9,200.0L643.1,198.7L637.7,200.5L635.4,203.6L630.7,203.7L626.9,206.0L621.0,205.1L617.0,203.3L611.2,200.0L606.4,199.3L601.3,200.1L596.1,196.6L591.8,197.5L590.1,200.1L585.9,205.5M618.2,229.5L621.0,232.7L623.7,235.3L627.5,236.7L633.2,234.6L637.9,232.1L641.3,232.5L642.3,238.4L647.4,242.5M626.7,183.8L623.2,186.8L618.9,190.1L612.9,189.9L607.9,190.0L602.3,187.5L597.7,185.0L591.9,184.5L586.3,185.6L582.7,187.2L580.9,189.7L576.8,194.0L573.2,196.6L567.6,199.9L567.9,206.9L565.7,211.7L562.9,217.0M619.5,245.4L625.5,246.6L626.6,249.9L629.8,254.9L627.2,259.7L629.5,262.7L633.4,267.4L634.4,271.6L635.8,275.9L634.7,281.9L636.7,288.4L638.3,291.2L642.4,292.7L643.5,296.0M630.9,259.7L630.8,252.8L630.4,246.5L633.2,243.1L633.1,238.9L633.5,234.8L631.5,230.7L627.7,226.8L621.2,226.1L616.5,225.5L612.6,223.0L613.0,219.2L611.4,215.3L609.8,212.3L610.1,206.3L606.8,204.0L604.9,200.9M691.0,271.1L688.2,273.4L683.9,277.5L680.4,281.6L674.6,285.2L671.1,289.4L669.0,295.5L669.0,300.6L669.1,305.4L668.1,310.3L666.6,313.5L669.4,317.8L673.4,317.3L677.5,313.2L680.8,312.5L686.8,309.1L688.9,302.5L692.0,297.9M661.1,213.1L664.8,217.0L670.0,217.3L674.4,215.5L679.2,217.2L682.8,214.1L686.0,213.0L691.7,213.1L697.6,214.5L702.6,213.6L705.3,207.3L705.8,203.8L702.4,200.7L699.4,196.8L695.3,191.4M677.6,238.2L678.3,241.8L675.8,247.0L671.8,248.6L666.0,249.3L661.9,249.5L658.7,247.5L655.2,245.4L650.0,245.7L646.5,247.4L642.7,252.6L644.5,257.5M667.4,214.4L664.4,218.3L660.5,219.0L654.4,222.1L650.9,222.3L646.5,222.6L640.7,223.5L635.9,227.8L630.9,231.0L628.5,233.9L625.8,239.1L623.1,243.1L618.1,246.7L615.3,248.7L612.1,251.5L608.0,252.8M671.0,187.5L677.7,188.7L684.2,187.7L690.9,188.3L695.9,184.0L697.6,181.2L702.7,180.3L707.0,182.7L712.6,180.4L718.5,179.2L724.5,175.8L730.0,179.2L735.1,178.9L741.6,180.3L745.1,177.5L745.0,173.6L746.4,170.8L749.3,166.3M639.1,187.2L646.1,186.3L651.8,185.6L656.0,186.2L662.2,184.1L669.0,183.7L673.2,184.3L679.6,186.5L684.5,190.5L686.8,196.7L685.2,200.4L682.5,204.7M606.2,277.4L601.9,278.4L595.5,276.6L592.2,280.8L587.6,283.5L582.0,286.2L580.4,290.4L574.6,289.6L573.9,295.0L574.6,301.8L576.5,307.5L574.4,313.6L574.4,318.1L570.8,322.9M625.9,247.0L629.9,244.2L632.1,241.1L636.4,242.0L642.6,243.7L649.0,241.5L655.1,242.4L655.8,239.3L657.9,234.0L658.0,230.9L663.5,226.6L669.4,223.2L673.2,226.0L673.8,231.5L674.1,234.6L671.4,240.8L666.9,244.9L663.0,249.9" fill="none" stroke="#C61C08" stroke-width="0.72" stroke-linejoin="round"/>
</g>
</svg>
</body></html>
